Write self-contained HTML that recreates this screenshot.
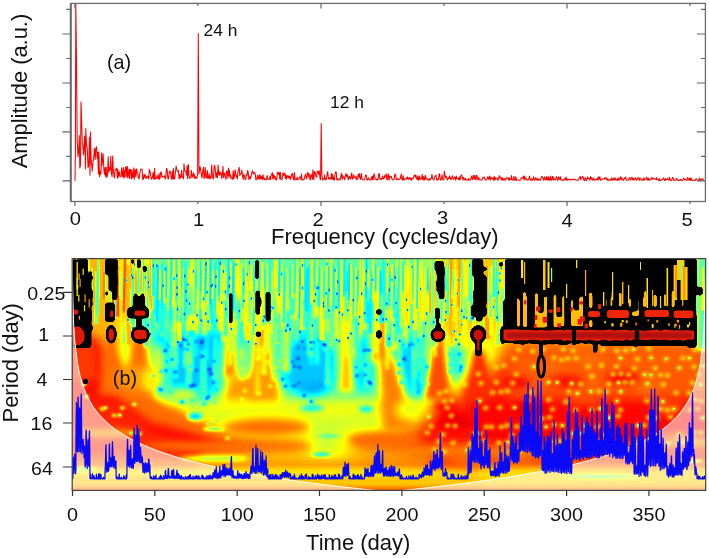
<!DOCTYPE html><html><head><meta charset="utf-8"><title>Spectrum and wavelet</title>
<style>html,body{margin:0;padding:0;background:#fff}svg{display:block}text{font-family:"Liberation Sans",sans-serif;fill:#111}</style></head><body>
<svg width="709" height="558" viewBox="0 0 709 558">
<rect width="709" height="558" fill="#fff"/>
<path d="M75.0,181.0 L75.4,150.0 L75.8,3.5 L76.5,60.0 L77.2,140.0 L78.0,156.7 L78.6,152.2 L79.3,135.5 L79.8,167.9 L80.5,165.6 L81.0,102.1 L81.7,123.3 L82.3,144.3 L82.8,145.0 L83.5,154.6 L84.2,143.2 L84.7,136.0 L85.4,169.1 L85.8,128.5 L86.5,144.7 L87.2,147.2 L88.0,167.6 L88.7,165.8 L89.5,137.6 L90.0,175.3 L90.5,132.0 L91.1,158.3 L91.7,164.9 L92.2,171.1 L92.9,162.3 L93.7,158.1 L94.4,148.2 L95.2,159.5 L95.7,148.9 L96.5,146.7 L97.2,158.4 L97.7,152.2 L98.4,174.0 L98.8,151.8 L99.6,176.7 L100.4,171.5 L100.9,174.3 L101.6,152.9 L102.0,165.4 L102.5,161.3 L103.1,153.7 L103.9,169.8 L104.7,174.6 L105.1,167.3 L105.6,176.4 L106.2,167.3 L106.7,177.5 L107.5,175.0 L108.2,156.8 L108.8,172.3 L109.5,167.3 L110.1,170.1 L110.8,156.3 L111.4,173.5 L112.1,176.7 L112.7,155.9 L113.3,171.2 L113.8,174.2 L114.4,178.1 L115.1,169.6 L115.5,169.9 L116.2,168.7 L116.7,168.1 L117.4,178.3 L117.9,169.4 L118.7,177.2 L119.3,171.8 L119.9,176.0 L120.4,176.0 L121.1,176.9 L121.7,167.8 L122.1,172.8 L122.8,177.0 L123.4,167.4 L123.9,178.1 L124.5,170.4 L125.0,177.0 L125.5,167.2 L126.2,166.8 L126.7,177.0 L127.3,166.4 L127.9,178.2 L128.4,174.6 L129.0,169.0 L129.7,178.6 L130.2,169.4 L130.9,169.6 L131.5,178.9 L132.0,170.2 L132.6,177.6 L133.2,176.9 L133.8,167.8 L134.3,179.4 L135.1,169.2 L135.9,177.0 L136.6,168.7 L137.2,172.6 L137.9,174.0 L138.5,178.4 L139.1,178.8 L139.6,175.2 L140.1,171.4 L140.6,169.4 L141.3,169.0 L142.1,169.5 L142.7,179.4 L143.4,179.1 L144.0,174.1 L144.6,177.3 L145.4,174.9 L146.0,178.6 L146.7,176.7 L147.4,177.9 L148.0,176.0 L148.7,179.0 L149.4,169.3 L150.1,171.3 L150.6,174.7 L151.4,179.3 L151.9,178.5 L152.5,177.2 L153.1,172.3 L153.6,179.3 L154.1,179.1 L154.6,168.3 L155.3,179.2 L155.9,178.1 L156.5,177.9 L157.2,175.3 L157.8,178.8 L158.3,179.1 L159.0,173.4 L159.5,179.2 L160.1,177.7 L160.7,172.3 L161.3,172.0 L162.0,177.1 L162.6,176.4 L163.2,177.1 L163.9,176.7 L164.5,175.8 L165.2,179.1 L165.8,177.0 L166.5,168.4 L167.1,169.1 L167.8,178.3 L168.4,178.9 L169.2,173.5 L169.9,171.0 L170.6,172.0 L171.3,179.0 L171.9,179.1 L172.4,171.0 L172.9,179.0 L173.4,168.5 L173.9,179.1 L174.6,178.9 L175.4,172.7 L176.1,166.1 L176.8,169.9 L177.2,170.5 L177.9,171.6 L178.4,170.8 L179.1,179.0 L179.7,174.2 L180.4,178.1 L181.0,178.0 L181.6,170.2 L182.2,176.9 L182.8,177.0 L183.4,178.9 L184.0,163.8 L184.6,169.9 L185.1,171.2 L185.8,171.5 L186.5,175.1 L187.1,165.5 L187.6,178.8 L188.4,164.6 L189.0,175.5 L189.7,178.3 L190.2,178.2 L190.9,177.1 L191.4,170.4 L192.2,177.3 L192.9,175.8 L193.6,172.8 L194.2,178.0 L194.6,174.8 L195.2,178.3 L195.8,177.0 L196.5,178.5 L197.6,174.9 L198.3,33.5 L199.0,174.0 L200.1,166.7 L200.7,170.0 L201.4,175.3 L202.0,178.0 L202.7,171.5 L203.5,167.2 L204.0,178.3 L204.5,178.3 L205.2,167.2 L206.0,177.9 L206.8,177.4 L207.4,170.6 L207.8,178.8 L208.6,177.6 L209.1,173.7 L209.8,179.0 L210.4,176.0 L211.0,178.3 L211.7,164.8 L212.3,174.4 L212.8,177.9 L213.4,178.9 L214.2,166.3 L214.7,165.4 L215.3,169.9 L216.0,177.7 L216.7,172.6 L217.4,178.0 L218.1,165.1 L218.8,174.8 L219.3,175.4 L219.9,171.3 L220.5,174.3 L221.1,172.9 L221.7,178.7 L222.5,172.7 L223.0,166.2 L223.5,177.6 L224.2,173.9 L224.8,173.0 L225.4,177.8 L226.0,179.2 L226.7,170.8 L227.3,171.2 L227.9,178.2 L228.5,168.1 L228.9,175.6 L229.5,170.6 L230.0,177.7 L230.6,175.0 L231.3,177.5 L232.1,179.2 L232.6,179.2 L233.1,170.6 L233.8,178.9 L234.3,176.9 L235.1,169.8 L235.8,174.4 L236.3,177.2 L236.8,175.5 L237.4,178.9 L238.0,171.0 L238.4,170.7 L239.2,167.3 L239.8,175.4 L240.4,174.2 L241.2,173.4 L241.8,170.0 L242.4,174.9 L243.1,179.5 L243.8,174.1 L244.4,176.2 L245.1,179.1 L245.7,179.6 L246.3,174.6 L246.9,175.8 L247.7,170.4 L248.2,172.4 L248.9,179.6 L249.4,179.0 L249.9,176.4 L250.7,178.5 L251.5,174.5 L252.0,171.9 L252.6,170.7 L253.3,174.1 L253.9,173.1 L254.7,172.3 L255.3,174.1 L255.9,179.6 L256.3,179.7 L256.9,179.5 L257.5,175.2 L258.1,178.1 L258.8,178.9 L259.4,174.7 L260.0,179.5 L260.8,175.3 L261.4,178.6 L262.0,176.7 L262.5,179.8 L263.0,174.5 L263.5,178.0 L264.1,179.4 L264.6,178.4 L265.1,179.8 L265.6,179.6 L266.2,179.8 L266.6,178.1 L267.2,175.6 L267.7,178.4 L268.3,179.8 L269.1,179.4 L269.6,177.9 L270.1,176.5 L270.6,179.7 L271.1,175.3 L271.7,174.6 L272.3,172.4 L272.8,179.3 L273.4,174.2 L274.0,178.8 L274.5,175.9 L275.3,176.9 L275.8,179.8 L276.2,179.6 L276.7,179.8 L277.4,173.1 L277.9,171.9 L278.5,174.5 L279.3,172.5 L279.8,179.1 L280.4,172.4 L280.9,179.2 L281.6,179.8 L282.2,179.0 L282.9,172.8 L283.4,175.4 L284.1,174.1 L284.8,172.9 L285.4,178.5 L285.9,174.9 L286.5,179.3 L287.0,175.7 L287.7,175.8 L288.3,178.0 L288.8,175.8 L289.2,178.1 L289.9,176.2 L290.4,179.4 L291.2,176.6 L291.9,173.8 L292.5,173.5 L293.2,179.0 L293.8,179.9 L294.4,172.6 L294.9,177.3 L295.4,179.9 L296.1,179.5 L296.5,179.7 L297.2,177.2 L297.7,179.5 L298.5,179.5 L299.1,178.4 L299.8,176.7 L300.5,177.4 L301.1,179.6 L301.5,173.7 L302.0,179.9 L302.8,179.6 L303.6,179.9 L304.2,179.5 L304.9,176.2 L305.6,174.1 L306.4,178.7 L307.0,177.9 L307.5,172.5 L308.2,172.8 L308.7,176.8 L309.3,174.2 L309.8,178.7 L310.4,179.9 L311.0,174.2 L311.6,175.5 L312.3,179.5 L312.9,169.7 L313.4,178.1 L313.9,179.5 L314.4,171.2 L315.1,172.4 L315.9,176.3 L316.7,177.2 L317.3,171.3 L318.1,171.4 L318.7,174.4 L319.3,170.7 L320.1,179.2 L320.6,179.7 L321.2,123.5 L321.8,174.0 L322.5,180.0 L323.3,179.3 L323.9,178.9 L324.6,175.1 L325.1,179.9 L325.7,178.5 L326.1,179.8 L326.9,175.7 L327.7,171.6 L328.4,178.8 L328.9,179.2 L329.5,177.6 L330.2,178.9 L330.9,179.3 L331.5,173.3 L332.3,179.3 L332.8,174.5 L333.3,179.9 L333.9,177.6 L334.4,180.0 L334.9,175.0 L335.5,171.9 L336.3,172.0 L336.7,179.7 L337.2,178.5 L337.7,180.0 L338.4,180.0 L338.9,179.5 L339.7,178.6 L340.2,180.0 L340.8,176.8 L341.5,173.2 L342.2,179.5 L342.7,175.3 L343.5,177.9 L344.2,177.6 L344.7,179.8 L345.2,176.7 L346.0,173.4 L346.6,176.5 L347.4,174.8 L348.0,178.7 L348.6,179.8 L349.2,176.3 L350.0,177.7 L350.6,179.1 L351.2,175.0 L351.8,172.9 L352.3,179.3 L352.9,178.7 L353.7,174.8 L354.4,177.2 L354.9,177.5 L355.5,178.2 L356.1,176.2 L356.8,180.0 L357.5,179.0 L358.2,174.0 L358.9,176.9 L359.5,173.7 L360.0,179.0 L360.7,179.3 L361.3,173.4 L362.0,179.3 L362.6,179.5 L363.1,179.6 L363.9,180.0 L364.5,179.8 L364.9,178.0 L365.6,175.0 L366.3,175.2 L366.8,179.5 L367.6,180.0 L368.1,178.4 L368.6,177.9 L369.1,179.7 L369.9,179.9 L370.7,179.9 L371.5,176.9 L372.1,179.9 L372.6,176.0 L373.1,179.8 L373.8,174.8 L374.3,173.7 L375.0,179.1 L375.4,179.0 L376.2,179.5 L376.7,179.9 L377.2,179.2 L378.0,180.0 L378.5,174.1 L379.3,173.6 L379.8,179.2 L380.6,178.5 L381.3,179.4 L381.8,179.3 L382.5,176.1 L383.1,178.7 L383.8,178.8 L384.4,175.5 L384.9,177.8 L385.7,175.4 L386.2,174.0 L387.0,179.9 L387.5,179.8 L388.0,173.8 L388.6,175.1 L389.1,180.1 L389.8,176.0 L390.6,177.0 L391.3,176.3 L391.7,178.2 L392.3,180.0 L393.0,179.4 L393.6,179.2 L394.2,179.3 L394.9,173.9 L395.6,175.3 L396.4,179.6 L397.2,179.6 L397.7,178.5 L398.4,179.4 L399.0,179.6 L399.8,178.8 L400.4,178.3 L401.2,173.9 L401.8,178.9 L402.5,180.1 L403.1,175.5 L403.8,180.1 L404.6,179.2 L405.4,179.3 L405.9,178.2 L406.6,178.9 L407.4,176.9 L408.0,179.6 L408.6,179.1 L409.2,177.4 L409.9,178.0 L410.4,179.8 L411.0,177.7 L411.5,180.1 L412.1,179.6 L412.5,178.3 L413.3,178.3 L414.0,175.8 L414.8,174.9 L415.4,177.2 L415.9,175.3 L416.4,178.7 L417.2,179.6 L417.7,175.9 L418.4,180.1 L418.8,179.4 L419.3,175.8 L419.8,179.7 L420.4,178.5 L421.0,177.7 L421.7,179.0 L422.2,174.2 L422.9,180.1 L423.5,176.6 L424.3,180.1 L424.7,178.7 L425.3,175.2 L426.0,179.5 L426.6,178.0 L427.4,179.9 L428.0,180.1 L428.7,180.2 L429.4,178.5 L430.1,180.1 L430.6,178.8 L431.4,178.4 L431.9,174.2 L432.6,178.4 L433.1,179.6 L433.9,180.1 L434.5,177.6 L435.1,176.2 L435.9,175.2 L436.6,179.9 L437.1,178.9 L437.6,179.9 L438.4,179.8 L439.1,173.7 L439.6,174.0 L440.2,179.8 L440.7,180.2 L441.3,179.0 L442.1,174.7 L442.5,178.9 L443.1,179.9 L443.8,179.6 L444.3,171.0 L444.8,174.0 L445.5,177.7 L446.0,176.4 L446.5,176.7 L447.2,180.0 L447.9,179.0 L448.5,177.6 L449.2,178.8 L449.7,175.8 L450.4,178.5 L451.1,179.7 L451.8,177.1 L452.4,175.8 L453.2,179.4 L454.0,178.8 L454.5,177.1 L455.0,177.0 L455.7,180.1 L456.3,176.0 L456.9,178.5 L457.7,179.1 L458.3,178.3 L459.1,180.0 L459.5,176.9 L460.2,179.7 L460.9,175.8 L461.6,174.7 L462.3,177.1 L462.9,180.2 L463.6,177.2 L464.1,178.9 L464.8,179.9 L465.5,178.5 L466.1,180.2 L466.7,179.7 L467.4,180.1 L468.0,180.0 L468.6,178.4 L469.1,180.2 L469.7,180.0 L470.3,180.1 L470.8,178.7 L471.6,176.1 L472.2,179.4 L472.7,179.8 L473.3,175.5 L473.7,175.4 L474.4,179.2 L474.9,175.3 L475.4,178.5 L476.0,180.0 L476.6,175.1 L477.3,177.4 L478.1,180.2 L478.8,177.3 L479.3,179.1 L480.1,179.7 L480.8,180.1 L481.5,179.9 L482.1,179.5 L482.9,177.4 L483.5,177.8 L484.1,176.9 L484.6,178.7 L485.3,179.5 L485.8,180.1 L486.4,180.0 L487.1,178.9 L487.9,176.6 L488.6,179.5 L489.1,178.7 L489.8,175.9 L490.3,180.1 L491.1,177.5 L491.7,177.5 L492.2,178.8 L492.9,178.4 L493.4,180.2 L494.1,176.4 L494.6,180.3 L495.1,177.2 L495.7,179.2 L496.5,178.4 L497.0,177.8 L497.5,179.9 L498.2,180.1 L498.6,179.0 L499.2,175.6 L499.7,177.1 L500.2,177.1 L500.9,178.1 L501.4,180.0 L502.0,177.2 L502.6,180.0 L503.2,180.2 L503.8,178.7 L504.4,178.6 L504.9,180.3 L505.4,179.7 L505.9,178.7 L506.5,177.5 L507.1,178.2 L507.8,179.0 L508.4,179.8 L508.9,177.3 L509.5,180.2 L510.3,178.7 L511.0,179.4 L511.5,175.6 L512.0,179.7 L512.8,180.2 L513.4,179.2 L513.9,176.3 L514.5,180.3 L515.1,180.3 L515.8,176.7 L516.6,180.3 L517.3,179.9 L517.9,179.9 L518.5,180.2 L519.1,180.3 L519.9,180.3 L520.7,180.1 L521.2,177.7 L521.8,177.5 L522.5,178.4 L522.9,178.2 L523.6,176.0 L524.0,180.3 L524.7,176.3 L525.3,178.0 L526.0,179.6 L526.6,178.6 L527.0,179.9 L527.7,180.0 L528.3,180.0 L528.9,178.4 L529.6,176.1 L530.3,180.1 L530.8,180.3 L531.4,178.7 L532.0,180.1 L532.5,180.3 L533.0,179.2 L533.6,176.7 L534.2,179.8 L534.8,180.3 L535.5,177.7 L536.1,177.9 L536.7,180.1 L537.2,180.2 L537.9,178.4 L538.6,180.3 L539.3,179.3 L539.9,179.2 L540.5,180.2 L541.0,178.4 L541.7,176.5 L542.3,176.7 L543.0,178.0 L543.8,180.3 L544.5,176.7 L545.0,178.7 L545.8,180.0 L546.5,176.6 L547.1,180.2 L547.7,177.2 L548.3,179.9 L548.9,176.5 L549.4,180.3 L550.2,179.9 L550.8,176.1 L551.3,180.3 L552.1,180.1 L552.6,176.4 L553.1,176.7 L553.7,179.9 L554.2,179.0 L554.9,179.6 L555.5,180.0 L556.2,176.5 L557.0,177.4 L557.4,180.1 L558.0,180.3 L558.7,176.7 L559.5,179.0 L560.0,179.6 L560.5,176.7 L561.0,180.0 L561.8,180.2 L562.6,179.9 L563.3,180.3 L564.0,179.7 L564.6,178.5 L565.2,180.1 L565.7,178.9 L566.2,177.0 L566.8,180.2 L567.3,180.3 L567.9,179.1 L568.5,179.9 L569.0,179.3 L569.8,179.5 L570.5,179.4 L571.0,180.3 L571.7,179.4 L572.3,179.2 L573.0,179.8 L573.6,179.8 L574.1,179.1 L574.7,179.3 L575.3,179.4 L576.0,180.2 L576.8,180.3 L577.6,180.3 L578.3,180.1 L578.8,179.1 L579.5,177.4 L580.3,176.3 L580.7,179.8 L581.2,178.0 L581.8,178.1 L582.6,176.2 L583.2,177.2 L583.9,180.4 L584.6,180.4 L585.1,177.5 L585.7,178.6 L586.1,180.2 L586.8,180.4 L587.5,176.8 L588.0,178.3 L588.7,178.8 L589.4,178.4 L589.9,180.3 L590.5,176.5 L591.0,179.0 L591.5,177.5 L592.1,179.3 L592.8,180.3 L593.5,177.8 L594.3,180.1 L594.8,180.3 L595.6,179.6 L596.2,179.3 L596.9,180.0 L597.4,178.0 L598.1,180.1 L598.6,176.9 L599.3,179.0 L599.9,176.7 L600.5,180.2 L601.0,179.9 L601.7,179.9 L602.4,178.7 L603.1,178.7 L603.7,178.9 L604.3,179.3 L605.0,177.7 L605.5,178.0 L606.0,177.6 L606.5,179.5 L607.1,178.4 L607.6,180.2 L608.1,179.2 L608.8,180.4 L609.3,180.3 L610.1,179.6 L610.7,180.1 L611.4,177.9 L612.1,180.4 L612.7,179.5 L613.2,178.0 L613.7,180.1 L614.4,179.1 L615.0,177.6 L615.6,180.0 L616.1,179.3 L616.7,179.3 L617.3,180.5 L617.7,180.4 L618.2,177.7 L618.9,180.2 L619.6,178.9 L620.0,178.3 L620.6,176.7 L621.1,180.1 L621.6,177.6 L622.3,179.2 L622.8,179.8 L623.5,180.4 L624.3,177.8 L625.1,178.6 L625.8,176.9 L626.3,180.1 L626.8,180.3 L627.5,180.4 L628.2,179.9 L629.0,178.3 L629.7,177.8 L630.1,180.2 L630.7,179.8 L631.4,177.6 L632.1,177.3 L632.8,180.0 L633.4,178.4 L634.2,180.0 L634.7,179.1 L635.3,177.6 L635.7,178.9 L636.3,180.3 L637.0,179.7 L637.8,177.6 L638.4,177.7 L639.2,180.4 L639.9,178.0 L640.7,178.4 L641.3,180.3 L642.0,180.3 L642.7,179.3 L643.5,180.0 L644.0,177.6 L644.7,180.0 L645.3,179.8 L646.0,179.6 L646.6,177.1 L647.3,178.5 L647.9,180.4 L648.6,178.1 L649.3,180.3 L650.0,179.5 L650.5,179.3 L651.1,179.0 L651.9,177.2 L652.3,179.4 L653.1,179.0 L653.8,178.0 L654.2,178.3 L654.9,179.3 L655.5,179.2 L656.0,179.6 L656.5,177.5 L657.2,179.7 L657.9,180.0 L658.6,180.4 L659.3,178.5 L660.0,180.5 L660.8,180.5 L661.4,179.7 L661.9,179.9 L662.7,179.2 L663.2,178.3 L663.8,177.8 L664.4,180.5 L665.2,180.5 L665.7,178.5 L666.2,179.5 L667.0,179.4 L667.5,178.6 L668.3,179.4 L668.9,180.2 L669.5,177.3 L670.3,180.5 L670.8,180.4 L671.6,180.4 L672.1,178.6 L672.6,177.4 L673.2,177.9 L673.9,180.4 L674.7,180.0 L675.2,180.5 L675.9,179.5 L676.4,178.3 L677.0,179.9 L677.4,180.2 L678.2,179.7 L678.7,180.4 L679.4,180.3 L680.1,180.5 L680.9,179.3 L681.6,180.2 L682.1,180.5 L682.8,180.5 L683.3,178.6 L684.0,178.3 L684.8,179.6 L685.5,179.0 L686.2,180.0 L686.6,180.5 L687.2,179.9 L687.6,177.6 L688.3,178.9 L689.1,180.4 L689.8,177.7 L690.4,180.5 L691.1,178.1 L691.8,180.1 L692.5,180.5 L693.0,180.0 L693.7,180.5 L694.5,180.6 L695.3,180.4 L696.0,178.6 L696.8,179.9 L697.5,180.3 L698.2,180.5 L699.0,179.5 L699.5,178.0 L700.0,180.6 L700.6,180.6 L701.1,179.1 L701.9,179.4 L702.7,178.6 L703.4,180.2 L703.9,180.5" fill="none" stroke="#f00" stroke-width="1.05" stroke-linejoin="round"/>
<rect x="70.9" y="3.4" width="634.5" height="198.1" fill="none" stroke="#6a6a6a" stroke-width="1.3"/>
<path d="M70.7,3.4V201.5" stroke="#6a6a6a" stroke-width="1.9" fill="none"/>
<path d="M74.9,201.5v4.4 M74.9,3.4v5 M197.9,201.5v2.4 M197.9,3.4v2.5 M321.0,201.5v4.4 M321.0,3.4v5 M444.0,201.5v2.4 M444.0,3.4v2.5 M567.0,201.5v4.4 M567.0,3.4v5 M690.0,201.5v2.4 M690.0,3.4v2.5 M70.9,9.4h-4.5 M705.4,9.4h-4.5 M70.9,34.0h-8.5 M705.4,34.0h-8.5 M70.9,58.5h-4.5 M705.4,58.5h-4.5 M70.9,83.0h-8.5 M705.4,83.0h-8.5 M70.9,107.5h-4.5 M705.4,107.5h-4.5 M70.9,131.9h-8.5 M705.4,131.9h-8.5 M70.9,156.4h-4.5 M705.4,156.4h-4.5 M70.9,180.9h-8.5 M705.4,180.9h-8.5" stroke="#666" stroke-width="1.2" fill="none"/>
<text transform="translate(75.3,225.3) scale(1.05,1)" font-size="19.2" text-anchor="middle">0</text>
<text transform="translate(198.7,225.5) scale(1.05,1)" font-size="19.2" text-anchor="middle">1</text>
<text transform="translate(318.0,226.0) scale(1.05,1)" font-size="19.2" text-anchor="middle">2</text>
<text transform="translate(442.5,224.0) scale(1.05,1)" font-size="19.2" text-anchor="middle">3</text>
<text transform="translate(567.0,226.6) scale(1.05,1)" font-size="19.2" text-anchor="middle">4</text>
<text transform="translate(687.2,226.0) scale(1.05,1)" font-size="19.2" text-anchor="middle">5</text>
<text transform="translate(271.0,243.9) scale(1.04,1)" font-size="21.2" text-anchor="start">Frequency (cycles/day)</text>
<text transform="translate(27.1,91.0) rotate(-90) scale(1,1.03)" font-size="21.9" text-anchor="middle">Amplitude (a.u.)</text>
<text transform="translate(203.6,36.0) scale(1.03,1)" font-size="16.9" text-anchor="start">24 h</text>
<text transform="translate(330.0,107.6) scale(1.03,1)" font-size="16.9" text-anchor="start">12 h</text>
<text transform="translate(107.0,69.0) scale(1.0,1)" font-size="19.8" text-anchor="start">(a)</text>
<defs>
<filter id="jet" x="60" y="250" width="660" height="250" filterUnits="userSpaceOnUse" color-interpolation-filters="sRGB"><feComponentTransfer><feFuncR type="table" tableValues="0 0 0 0 0.5 1 1 1 0.5"/><feFuncG type="table" tableValues="0 0 0.5 1 1 1 0.5 0 0"/><feFuncB type="table" tableValues="0.5 1 1 1 0.5 0 0 0 0"/></feComponentTransfer></filter>
<filter id="b0_6" x="20" y="210" width="740" height="330" filterUnits="userSpaceOnUse" color-interpolation-filters="sRGB"><feGaussianBlur stdDeviation="0.6"/></filter>
<filter id="b1" x="20" y="210" width="740" height="330" filterUnits="userSpaceOnUse" color-interpolation-filters="sRGB"><feGaussianBlur stdDeviation="1"/></filter>
<filter id="b1_5" x="20" y="210" width="740" height="330" filterUnits="userSpaceOnUse" color-interpolation-filters="sRGB"><feGaussianBlur stdDeviation="1.5"/></filter>
<filter id="b2" x="20" y="210" width="740" height="330" filterUnits="userSpaceOnUse" color-interpolation-filters="sRGB"><feGaussianBlur stdDeviation="2"/></filter>
<filter id="b3" x="20" y="210" width="740" height="330" filterUnits="userSpaceOnUse" color-interpolation-filters="sRGB"><feGaussianBlur stdDeviation="3"/></filter>
<filter id="b4" x="20" y="210" width="740" height="330" filterUnits="userSpaceOnUse" color-interpolation-filters="sRGB"><feGaussianBlur stdDeviation="4"/></filter>
<filter id="b5" x="20" y="210" width="740" height="330" filterUnits="userSpaceOnUse" color-interpolation-filters="sRGB"><feGaussianBlur stdDeviation="5"/></filter>
<filter id="b6" x="20" y="210" width="740" height="330" filterUnits="userSpaceOnUse" color-interpolation-filters="sRGB"><feGaussianBlur stdDeviation="6"/></filter>
<filter id="b8" x="20" y="210" width="740" height="330" filterUnits="userSpaceOnUse" color-interpolation-filters="sRGB"><feGaussianBlur stdDeviation="8"/></filter>
<filter id="b10" x="20" y="210" width="740" height="330" filterUnits="userSpaceOnUse" color-interpolation-filters="sRGB"><feGaussianBlur stdDeviation="10"/></filter>
<filter id="b12" x="20" y="210" width="740" height="330" filterUnits="userSpaceOnUse" color-interpolation-filters="sRGB"><feGaussianBlur stdDeviation="12"/></filter>
<filter id="goo" x="60" y="250" width="660" height="250" filterUnits="userSpaceOnUse" color-interpolation-filters="sRGB"><feGaussianBlur stdDeviation="0.9"/><feComponentTransfer><feFuncA type="linear" slope="7" intercept="-3"/></feComponentTransfer></filter>
<clipPath id="hc"><rect x="72.2" y="258.6" width="633.5" height="231.79999999999995"/></clipPath>
</defs>
<g clip-path="url(#hc)">
<g filter="url(#jet)">
<g>
<rect x="40.0" y="240.0" width="700.0" height="270.0" fill="#949494"/>
</g>
<g filter="url(#b10)">
<rect x="146.0" y="240.0" width="290.0" height="162.0" fill="#737373"/>
<rect x="146.0" y="240.0" width="290.0" height="85.0" fill="#787878"/>
</g>
<g filter="url(#b8)">
<rect x="40.0" y="240.0" width="84.0" height="105.0" fill="#b2b2b2"/>
</g>
<g filter="url(#b6)">
<rect x="124.0" y="240.0" width="26.0" height="100.0" fill="#a3a3a3"/>
</g>
<g filter="url(#b10)">
<rect x="436.0" y="240.0" width="304.0" height="100.0" fill="#adadad"/>
</g>
<g filter="url(#b8)">
<rect x="500.0" y="240.0" width="240.0" height="105.0" fill="#b0b0b0"/>
</g>
<g filter="url(#b5)">
<polygon points="152.0,332.0 226.0,332.0 218.0,380.0 200.0,420.0 183.0,412.0 163.0,378.0" fill="#525252"/>
<ellipse cx="309.0" cy="365.0" rx="28.0" ry="32.0" fill="#525252"/>
</g>
<g filter="url(#b4)">
<ellipse cx="313.0" cy="388.0" rx="12.0" ry="7.0" fill="#4c4c4c"/>
<ellipse cx="364.0" cy="364.0" rx="11.0" ry="28.0" fill="#575757"/>
</g>
<g filter="url(#b5)">
<ellipse cx="415.0" cy="368.0" rx="19.0" ry="32.0" fill="#545454"/>
</g>
<g filter="url(#b4)">
<ellipse cx="406.0" cy="395.0" rx="10.0" ry="4.0" fill="#525252"/>
</g>
<g filter="url(#b5)">
<ellipse cx="455.0" cy="362.0" rx="8.0" ry="20.0" fill="#666666"/>
</g>
<g filter="url(#b6)">
<rect x="170.0" y="401.0" width="260.0" height="16.0" fill="#9e9e9e"/>
</g>
<g filter="url(#b5)">
<ellipse cx="158.0" cy="365.0" rx="7.0" ry="22.0" fill="#999999"/>
</g>
<g filter="url(#b4)">
<ellipse cx="183.0" cy="395.0" rx="16.0" ry="7.0" fill="#999999"/>
<rect x="40.0" y="452.0" width="700.0" height="8.0" fill="#9e9e9e"/>
<rect x="40.0" y="460.0" width="700.0" height="10.5" fill="#bdbdbd"/>
</g>
<g filter="url(#b3)">
<rect x="40.0" y="470.5" width="700.0" height="7.5" fill="#a6a6a6"/>
<rect x="40.0" y="478.0" width="700.0" height="8.0" fill="#b2b2b2"/>
</g>
<g filter="url(#b2)">
<rect x="40.0" y="486.0" width="700.0" height="34.0" fill="#c7c7c7"/>
</g>
<g filter="url(#b8)">
<polygon points="60.0,335.0 98.0,340.0 116.0,360.0 136.0,390.0 161.0,410.0 195.0,424.0 225.0,436.0 255.0,440.0 310.0,442.0 310.0,451.0 240.0,453.0 190.0,456.0 150.0,450.0 110.0,430.0 60.0,400.0" fill="#e0e0e0"/>
</g>
<g filter="url(#b6)">
<rect x="40.0" y="340.0" width="60.0" height="122.0" fill="#dbdbdb"/>
<polygon points="60.0,400.0 120.0,400.0 150.0,430.0 200.0,446.0 200.0,462.0 60.0,462.0" fill="#d6d6d6"/>
</g>
<g filter="url(#b5)">
<polygon points="100.0,350.0 125.0,378.0 150.0,396.0 163.0,404.0 195.0,419.0 225.0,432.0 225.0,438.0 150.0,422.0 110.0,390.0" fill="#c4c4c4"/>
</g>
<g filter="url(#b10)">
<polygon points="400.0,440.0 425.0,415.0 455.0,395.0 490.0,372.0 505.0,348.0 740.0,348.0 740.0,470.0 600.0,466.0 480.0,462.0 400.0,456.0 350.0,452.0 345.0,438.0" fill="#dbdbdb"/>
</g>
<g filter="url(#b6)">
<rect x="505.0" y="346.0" width="235.0" height="52.0" fill="#c9c9c9"/>
<rect x="470.0" y="400.0" width="270.0" height="45.0" fill="#dedede"/>
</g>
<g filter="url(#b5)">
<rect x="400.0" y="446.0" width="160.0" height="10.0" fill="#bdbdbd"/>
<rect x="430.0" y="456.0" width="310.0" height="10.0" fill="#d1d1d1"/>
<rect x="560.0" y="440.0" width="180.0" height="10.0" fill="#cccccc"/>
</g>
<g filter="url(#b4)">
<rect x="480.0" y="468.0" width="260.0" height="14.0" fill="#a8a8a8"/>
<ellipse cx="647.8" cy="387.8" rx="10.9" ry="7.3" fill="#c2c2c2" opacity="0.8"/>
<ellipse cx="516.0" cy="456.8" rx="20.0" ry="5.0" fill="#c2c2c2" opacity="0.8"/>
<ellipse cx="661.3" cy="355.1" rx="19.5" ry="4.7" fill="#c7c7c7" opacity="0.8"/>
<ellipse cx="571.9" cy="443.9" rx="10.2" ry="5.3" fill="#c2c2c2" opacity="0.8"/>
<ellipse cx="583.3" cy="380.6" rx="13.6" ry="4.9" fill="#c2c2c2" opacity="0.8"/>
<ellipse cx="585.6" cy="400.1" rx="16.5" ry="4.3" fill="#c7c7c7" opacity="0.8"/>
<ellipse cx="633.2" cy="445.5" rx="9.1" ry="5.8" fill="#c2c2c2" opacity="0.8"/>
<ellipse cx="678.4" cy="438.3" rx="19.7" ry="5.1" fill="#c2c2c2" opacity="0.8"/>
<ellipse cx="531.4" cy="410.3" rx="17.9" ry="7.1" fill="#ebebeb" opacity="0.8"/>
<ellipse cx="635.3" cy="456.0" rx="14.4" ry="4.9" fill="#ebebeb" opacity="0.8"/>
<ellipse cx="544.7" cy="367.2" rx="17.6" ry="4.1" fill="#c2c2c2" opacity="0.8"/>
<ellipse cx="453.6" cy="421.6" rx="17.0" ry="7.0" fill="#ebebeb" opacity="0.8"/>
<ellipse cx="470.7" cy="460.4" rx="18.9" ry="6.8" fill="#c2c2c2" opacity="0.8"/>
<ellipse cx="609.2" cy="442.5" rx="15.9" ry="4.6" fill="#c2c2c2" opacity="0.8"/>
<ellipse cx="444.5" cy="405.4" rx="12.2" ry="7.3" fill="#ebebeb" opacity="0.8"/>
<ellipse cx="589.7" cy="358.8" rx="13.8" ry="7.0" fill="#c2c2c2" opacity="0.8"/>
<ellipse cx="622.3" cy="378.4" rx="16.0" ry="5.9" fill="#ebebeb" opacity="0.8"/>
<ellipse cx="693.4" cy="363.3" rx="18.3" ry="5.0" fill="#c7c7c7" opacity="0.8"/>
<ellipse cx="640.7" cy="361.5" rx="10.0" ry="4.1" fill="#c7c7c7" opacity="0.8"/>
<ellipse cx="614.3" cy="436.7" rx="19.6" ry="6.3" fill="#ebebeb" opacity="0.8"/>
<ellipse cx="567.3" cy="381.5" rx="18.1" ry="4.4" fill="#ebebeb" opacity="0.8"/>
<ellipse cx="516.7" cy="382.4" rx="13.4" ry="4.8" fill="#ebebeb" opacity="0.8"/>
<ellipse cx="668.3" cy="408.1" rx="16.1" ry="7.1" fill="#c7c7c7" opacity="0.8"/>
</g>
<g filter="url(#b3)">
<polygon points="106.5,336.0 115.5,336.0 123.0,395.0 99.0,395.0" fill="#c4c4c4"/>
<polygon points="132.0,338.0 146.0,338.0 153.0,398.0 125.0,398.0" fill="#c4c4c4"/>
<polygon points="75.0,340.0 93.0,340.0 99.0,380.0 69.0,380.0" fill="#d1d1d1"/>
<polygon points="227.0,320.0 233.0,320.0 237.0,378.0 223.0,378.0" fill="#bfbfbf"/>
<polygon points="257.5,304.0 266.5,304.0 275.0,398.0 249.0,398.0" fill="#c2c2c2"/>
</g>
<g filter="url(#b4)">
<polygon points="254.0,284.0 270.0,284.0 274.0,330.0 250.0,330.0" fill="#b8b8b8"/>
</g>
<g filter="url(#b3)">
<polygon points="226.0,296.0 232.0,296.0 234.0,330.0 224.0,330.0" fill="#a8a8a8"/>
</g>
<g filter="url(#b5)">
<polygon points="228.0,374.0 276.0,374.0 282.0,402.0 222.0,402.0" fill="#b8b8b8"/>
</g>
<g filter="url(#b2)">
<polygon points="284.8,330.0 288.2,330.0 289.5,372.0 283.5,372.0" fill="#a8a8a8"/>
</g>
<g filter="url(#b3)">
<polygon points="342.0,320.0 350.0,320.0 353.0,392.0 339.0,392.0" fill="#b0b0b0"/>
<polygon points="374.0,294.0 386.0,294.0 390.0,362.0 370.0,362.0" fill="#bdbdbd"/>
</g>
<g filter="url(#b4)">
<polygon points="377.0,358.0 395.0,358.0 417.0,432.0 383.0,432.0" fill="#bfbfbf"/>
</g>
<g filter="url(#b2)">
<polygon points="391.0,318.0 395.0,318.0 397.0,350.0 389.0,350.0" fill="#adadad"/>
</g>
<g filter="url(#b3)">
<polygon points="433.0,338.0 443.0,338.0 452.0,400.0 424.0,400.0" fill="#cccccc"/>
<polygon points="474.0,350.0 484.0,350.0 495.0,400.0 463.0,400.0" fill="#d4d4d4"/>
</g>
<g filter="url(#b4)">
<ellipse cx="267.0" cy="427.0" rx="44.0" ry="9.0" fill="#c4c4c4"/>
</g>
<g filter="url(#b3)">
<ellipse cx="225.0" cy="446.0" rx="86.0" ry="4.5" fill="#c2c2c2"/>
</g>
<g filter="url(#b2)">
<ellipse cx="214.0" cy="458.5" rx="34.0" ry="1.8" fill="#737373"/>
</g>
<g filter="url(#b3)">
<ellipse cx="385.0" cy="440.0" rx="36.0" ry="8.0" fill="#c4c4c4"/>
</g>
<g filter="url(#b1_5)">
<ellipse cx="329.0" cy="436.0" rx="11.0" ry="1.4" fill="#6b6b6b"/>
<ellipse cx="214.0" cy="429.0" rx="11.0" ry="1.4" fill="#6b6b6b"/>
<ellipse cx="321.4" cy="454.5" rx="9.0" ry="1.4" fill="#4c4c4c"/>
</g>
<g filter="url(#b2)">
<ellipse cx="195.0" cy="416.5" rx="7.0" ry="3.0" fill="#3d3d3d"/>
<ellipse cx="312.0" cy="408.0" rx="12.0" ry="3.0" fill="#5c5c5c"/>
<ellipse cx="366.0" cy="409.0" rx="7.0" ry="2.5" fill="#4c4c4c"/>
</g>
<g filter="url(#b1_5)">
<ellipse cx="600.0" cy="476.5" rx="40.0" ry="1.2" fill="#6b6b6b"/>
<ellipse cx="690.0" cy="461.0" rx="14.0" ry="1.2" fill="#666666"/>
<ellipse cx="85.0" cy="469.0" rx="12.0" ry="1.2" fill="#666666"/>
</g>
<g filter="url(#b3)">
<ellipse cx="105.0" cy="433.0" rx="34.0" ry="3.0" fill="#adadad"/>
<ellipse cx="690.0" cy="442.0" rx="20.0" ry="3.0" fill="#a8a8a8"/>
</g>
<g filter="url(#b5)">
<ellipse cx="136.0" cy="378.0" rx="20.0" ry="13.0" fill="#b8b8b8"/>
</g>
<g filter="url(#b3)">
<ellipse cx="150.0" cy="380.0" rx="8.0" ry="12.0" fill="#a3a3a3"/>
</g>
<g filter="url(#b5)">
<ellipse cx="409.0" cy="410.0" rx="13.0" ry="10.0" fill="#999999"/>
</g>
<g filter="url(#b2)">
<rect x="697.5" y="250.0" width="14.5" height="100.0" fill="#757575"/>
</g>
<g filter="url(#b0_6)">
<polygon points="74.2,268.9 75.8,268.9 77.0,335.5 73.0,335.5" fill="#9e9e9e" opacity="0.95"/>
<polygon points="76.4,263.9 77.7,263.9 79.1,325.7 75.0,325.7" fill="#707070" opacity="0.95"/>
<polygon points="78.2,263.1 79.7,263.1 80.7,317.0 77.2,317.0" fill="#a8a8a8" opacity="0.95"/>
<polygon points="80.6,251.4 82.5,251.4 83.3,291.6 79.8,291.6" fill="#949494" opacity="0.95"/>
<polygon points="83.4,268.5 85.1,268.5 86.2,322.9 82.3,322.9" fill="#9e9e9e" opacity="0.95"/>
<polygon points="85.9,258.9 87.8,258.9 89.3,314.8 84.4,314.8" fill="#707070" opacity="0.95"/>
<polygon points="88.0,256.4 89.9,256.4 90.8,301.4 87.1,301.4" fill="#9e9e9e" opacity="0.95"/>
<polygon points="91.1,268.6 92.5,268.6 92.8,290.0 90.7,290.0" fill="#808080" opacity="0.95"/>
<polygon points="93.5,259.2 94.8,259.2 96.1,325.2 92.2,325.2" fill="#b2b2b2" opacity="0.95"/>
<polygon points="95.7,271.2 97.0,271.2 98.2,324.1 94.4,324.1" fill="#808080" opacity="0.95"/>
<polygon points="97.5,253.9 99.0,253.9 100.5,315.2 96.0,315.2" fill="#707070" opacity="0.95"/>
<polygon points="100.2,252.6 101.6,252.6 103.2,318.2 98.7,318.2" fill="#b2b2b2" opacity="0.95"/>
<polygon points="103.2,272.0 104.6,272.0 105.0,298.9 102.8,298.9" fill="#c2c2c2" opacity="0.95"/>
<polygon points="105.7,271.8 107.1,271.8 107.6,299.6 105.2,299.6" fill="#808080" opacity="0.95"/>
<polygon points="107.8,251.6 109.5,251.6 111.0,308.0 106.2,308.0" fill="#a8a8a8" opacity="0.95"/>
<polygon points="110.0,271.1 111.7,271.1 112.4,311.8 109.3,311.8" fill="#808080" opacity="0.95"/>
<polygon points="112.2,268.0 113.6,268.0 114.3,310.0 111.4,310.0" fill="#cccccc" opacity="0.95"/>
<polygon points="115.0,269.4 116.6,269.4 117.8,317.2 113.8,317.2" fill="#707070" opacity="0.95"/>
<polygon points="116.9,266.3 118.4,266.3 119.3,316.8 116.0,316.8" fill="#cccccc" opacity="0.95"/>
<polygon points="119.3,271.5 120.8,271.5 121.3,295.7 118.8,295.7" fill="#949494" opacity="0.95"/>
<polygon points="122.0,270.2 123.2,270.2 123.9,299.2 121.3,299.2" fill="#808080" opacity="0.95"/>
<polygon points="123.9,256.2 125.9,256.2 127.7,323.5 122.2,323.5" fill="#cccccc" opacity="0.95"/>
<polygon points="126.0,264.5 127.7,264.5 129.4,331.2 124.4,331.2" fill="#b2b2b2" opacity="0.95"/>
<polygon points="128.1,265.4 129.3,265.4 130.9,344.2 126.6,344.2" fill="#b2b2b2" opacity="0.95"/>
<polygon points="130.3,253.0 131.9,253.0 133.0,301.5 129.2,301.5" fill="#b2b2b2" opacity="0.95"/>
<polygon points="132.2,267.5 133.7,267.5 134.9,331.2 131.0,331.2" fill="#6b6b6b" opacity="0.95"/>
<polygon points="135.0,270.8 136.6,270.8 137.4,299.5 134.2,299.5" fill="#b2b2b2" opacity="0.95"/>
<polygon points="137.6,263.4 139.3,263.4 139.8,293.6 137.1,293.6" fill="#6b6b6b" opacity="0.95"/>
<polygon points="140.5,270.6 142.1,270.6 143.4,331.3 139.2,331.3" fill="#b2b2b2" opacity="0.95"/>
<polygon points="143.1,256.8 144.3,256.8 145.0,293.9 142.5,293.9" fill="#6b6b6b" opacity="0.95"/>
<polygon points="145.1,270.3 146.3,270.3 147.2,310.3 144.1,310.3" fill="#a8a8a8" opacity="0.95"/>
<polygon points="147.3,266.6 149.3,266.6 150.1,305.4 146.5,305.4" fill="#6b6b6b" opacity="0.95"/>
<polygon points="149.5,254.4 151.3,254.4 152.4,318.7 148.3,318.7" fill="#b2b2b2" opacity="0.95"/>
<polygon points="152.5,254.6 154.0,254.6 154.7,296.1 151.8,296.1" fill="#666666" opacity="0.95"/>
<polygon points="154.3,268.1 155.9,268.1 156.3,295.1 153.8,295.1" fill="#666666" opacity="0.95"/>
<polygon points="156.9,264.8 158.8,264.8 159.9,322.2 155.8,322.2" fill="#575757" opacity="0.95"/>
<polygon points="159.2,269.2 160.9,269.2 161.6,300.0 158.6,300.0" fill="#a8a8a8" opacity="0.95"/>
<polygon points="161.6,264.1 162.9,264.1 163.7,308.2 160.7,308.2" fill="#5c5c5c" opacity="0.95"/>
<polygon points="163.7,271.6 165.0,271.6 165.6,303.5 163.1,303.5" fill="#a1a1a1" opacity="0.95"/>
<polygon points="166.1,265.1 167.7,265.1 168.6,299.0 165.3,299.0" fill="#5c5c5c" opacity="0.95"/>
<polygon points="168.0,253.9 169.5,253.9 170.6,311.1 166.9,311.1" fill="#a1a1a1" opacity="0.95"/>
<polygon points="170.2,258.7 172.1,258.7 173.9,325.6 168.4,325.6" fill="#616161" opacity="0.95"/>
<polygon points="173.1,259.9 175.0,259.9 176.3,307.5 171.8,307.5" fill="#a3a3a3" opacity="0.95"/>
<polygon points="175.9,260.2 177.2,260.2 178.3,319.3 174.7,319.3" fill="#666666" opacity="0.95"/>
<polygon points="178.3,254.7 180.3,254.7 181.8,341.2 176.9,341.2" fill="#a1a1a1" opacity="0.95"/>
<polygon points="181.2,255.8 182.4,255.8 183.8,322.3 179.8,322.3" fill="#666666" opacity="0.95"/>
<polygon points="183.0,266.9 184.2,266.9 185.2,321.4 182.0,321.4" fill="#9e9e9e" opacity="0.95"/>
<polygon points="184.5,261.7 186.5,261.7 187.7,320.9 183.3,320.9" fill="#616161" opacity="0.95"/>
<polygon points="187.5,268.5 189.5,268.5 190.8,331.1 186.2,331.1" fill="#999999" opacity="0.95"/>
<polygon points="190.5,259.7 192.4,259.7 193.7,324.8 189.2,324.8" fill="#a3a3a3" opacity="0.95"/>
<polygon points="192.4,255.6 194.4,255.6 195.7,330.2 191.1,330.2" fill="#999999" opacity="0.95"/>
<polygon points="195.1,271.3 196.8,271.3 197.8,313.6 194.1,313.6" fill="#616161" opacity="0.95"/>
<polygon points="197.8,258.3 199.0,258.3 200.1,323.8 196.6,323.8" fill="#999999" opacity="0.95"/>
<polygon points="200.2,260.8 201.5,260.8 202.7,321.1 199.0,321.1" fill="#5c5c5c" opacity="0.95"/>
<polygon points="202.5,255.9 203.8,255.9 205.2,320.7 201.1,320.7" fill="#9e9e9e" opacity="0.95"/>
<polygon points="205.2,261.5 206.7,261.5 207.6,294.9 204.2,294.9" fill="#575757" opacity="0.95"/>
<polygon points="207.4,250.8 208.6,250.8 209.9,305.5 206.2,305.5" fill="#a1a1a1" opacity="0.95"/>
<polygon points="210.1,252.3 211.4,252.3 212.8,322.9 208.6,322.9" fill="#575757" opacity="0.95"/>
<polygon points="212.0,269.3 213.7,269.3 214.2,299.1 211.4,299.1" fill="#999999" opacity="0.95"/>
<polygon points="214.5,261.7 216.2,261.7 217.4,328.3 213.3,328.3" fill="#616161" opacity="0.95"/>
<polygon points="216.7,269.9 218.1,269.9 218.9,313.2 216.0,313.2" fill="#a8a8a8" opacity="0.95"/>
<polygon points="218.6,252.9 220.4,252.9 221.5,300.8 217.5,300.8" fill="#5c5c5c" opacity="0.95"/>
<polygon points="220.7,262.0 222.1,262.0 223.5,331.8 219.4,331.8" fill="#9e9e9e" opacity="0.95"/>
<polygon points="223.2,265.0 225.1,265.0 227.1,341.7 221.2,341.7" fill="#999999" opacity="0.95"/>
<polygon points="225.6,272.0 227.5,272.0 228.9,338.0 224.3,338.0" fill="#999999" opacity="0.95"/>
<polygon points="227.7,253.2 229.1,253.2 229.9,298.3 226.9,298.3" fill="#575757" opacity="0.95"/>
<polygon points="230.5,262.8 232.3,262.8 233.4,304.5 229.4,304.5" fill="#a1a1a1" opacity="0.95"/>
<polygon points="232.5,261.3 234.1,261.3 235.5,309.4 231.1,309.4" fill="#575757" opacity="0.95"/>
<polygon points="235.2,259.0 236.7,259.0 237.7,315.3 234.2,315.3" fill="#a3a3a3" opacity="0.95"/>
<polygon points="237.5,257.1 239.4,257.1 240.2,302.1 236.7,302.1" fill="#a1a1a1" opacity="0.95"/>
<polygon points="240.4,263.2 242.4,263.2 243.4,322.2 239.3,322.2" fill="#999999" opacity="0.95"/>
<polygon points="242.5,267.9 244.4,267.9 245.1,308.3 241.8,308.3" fill="#616161" opacity="0.95"/>
<polygon points="245.5,258.9 246.7,258.9 248.4,332.7 243.8,332.7" fill="#a3a3a3" opacity="0.95"/>
<polygon points="247.8,271.8 249.1,271.8 250.7,341.3 246.2,341.3" fill="#a8a8a8" opacity="0.95"/>
<polygon points="250.6,264.5 252.2,264.5 253.6,325.3 249.3,325.3" fill="#a3a3a3" opacity="0.95"/>
<polygon points="253.8,266.8 255.0,266.8 256.4,334.1 252.5,334.1" fill="#5c5c5c" opacity="0.95"/>
<polygon points="256.2,261.1 258.0,261.1 260.0,334.5 254.2,334.5" fill="#9e9e9e" opacity="0.95"/>
<polygon points="258.2,262.1 260.2,262.1 261.2,312.9 257.2,312.9" fill="#666666" opacity="0.95"/>
<polygon points="261.2,262.1 263.2,262.1 264.7,330.1 259.7,330.1" fill="#a1a1a1" opacity="0.95"/>
<polygon points="264.3,268.8 266.0,268.8 267.0,314.4 263.3,314.4" fill="#616161" opacity="0.95"/>
<polygon points="266.8,263.2 268.2,263.2 269.3,315.5 265.8,315.5" fill="#9e9e9e" opacity="0.95"/>
<polygon points="269.2,250.6 270.8,250.6 272.3,324.8 267.7,324.8" fill="#666666" opacity="0.95"/>
<polygon points="271.7,269.7 272.9,269.7 274.0,333.9 270.6,333.9" fill="#a1a1a1" opacity="0.95"/>
<polygon points="274.2,259.4 276.2,259.4 277.7,320.9 272.8,320.9" fill="#a3a3a3" opacity="0.95"/>
<polygon points="277.0,253.2 278.4,253.2 280.1,344.1 275.2,344.1" fill="#9e9e9e" opacity="0.95"/>
<polygon points="278.7,254.5 280.3,254.5 281.3,292.3 277.7,292.3" fill="#5c5c5c" opacity="0.95"/>
<polygon points="281.0,263.2 282.7,263.2 284.2,328.7 279.5,328.7" fill="#9e9e9e" opacity="0.95"/>
<polygon points="283.8,271.0 285.2,271.0 286.6,323.0 282.5,323.0" fill="#616161" opacity="0.95"/>
<polygon points="286.6,268.6 288.3,268.6 289.1,311.2 285.8,311.2" fill="#999999" opacity="0.95"/>
<polygon points="289.3,266.6 290.7,266.6 291.3,298.5 288.8,298.5" fill="#666666" opacity="0.95"/>
<polygon points="292.2,263.8 293.7,263.8 294.6,298.5 291.3,298.5" fill="#a1a1a1" opacity="0.95"/>
<polygon points="293.9,251.6 295.7,251.6 296.5,293.9 293.1,293.9" fill="#666666" opacity="0.95"/>
<polygon points="296.6,257.8 298.1,257.8 299.6,314.2 295.1,314.2" fill="#9e9e9e" opacity="0.95"/>
<polygon points="299.3,267.8 301.1,267.8 302.3,318.1 298.1,318.1" fill="#575757" opacity="0.95"/>
<polygon points="301.5,258.1 303.5,258.1 305.1,329.4 299.9,329.4" fill="#a3a3a3" opacity="0.95"/>
<polygon points="304.3,259.4 305.6,259.4 306.4,306.6 303.5,306.6" fill="#616161" opacity="0.95"/>
<polygon points="305.9,267.9 307.8,267.9 309.0,310.9 304.7,310.9" fill="#575757" opacity="0.95"/>
<polygon points="308.1,265.3 309.9,265.3 311.0,312.3 307.1,312.3" fill="#5c5c5c" opacity="0.95"/>
<polygon points="311.0,258.1 312.8,258.1 313.7,303.6 310.1,303.6" fill="#a8a8a8" opacity="0.95"/>
<polygon points="314.1,259.6 315.5,259.6 317.0,326.1 312.5,326.1" fill="#666666" opacity="0.95"/>
<polygon points="316.3,255.5 317.8,255.5 319.2,315.4 315.0,315.4" fill="#999999" opacity="0.95"/>
<polygon points="318.6,266.3 320.1,266.3 321.1,306.6 317.6,306.6" fill="#616161" opacity="0.95"/>
<polygon points="321.1,266.7 322.6,266.7 324.6,340.3 319.1,340.3" fill="#a1a1a1" opacity="0.95"/>
<polygon points="323.3,271.3 325.2,271.3 326.5,319.3 322.1,319.3" fill="#666666" opacity="0.95"/>
<polygon points="326.1,257.4 327.4,257.4 328.6,311.1 324.8,311.1" fill="#a1a1a1" opacity="0.95"/>
<polygon points="327.9,266.4 329.3,266.4 330.5,319.2 326.6,319.2" fill="#5c5c5c" opacity="0.95"/>
<polygon points="330.3,258.7 332.3,258.7 333.3,314.2 329.2,314.2" fill="#9e9e9e" opacity="0.95"/>
<polygon points="332.9,265.6 334.4,265.6 335.6,331.2 331.7,331.2" fill="#5c5c5c" opacity="0.95"/>
<polygon points="335.3,268.3 337.3,268.3 338.7,340.7 333.9,340.7" fill="#9e9e9e" opacity="0.95"/>
<polygon points="338.0,259.3 339.4,259.3 340.3,308.9 337.1,308.9" fill="#5c5c5c" opacity="0.95"/>
<polygon points="340.9,257.1 342.5,257.1 343.9,316.7 339.5,316.7" fill="#a3a3a3" opacity="0.95"/>
<polygon points="343.6,256.7 345.5,256.7 346.2,297.0 342.9,297.0" fill="#5c5c5c" opacity="0.95"/>
<polygon points="346.6,270.0 347.9,270.0 348.4,291.6 346.1,291.6" fill="#575757" opacity="0.95"/>
<polygon points="348.6,263.1 350.0,263.1 350.9,300.1 347.8,300.1" fill="#575757" opacity="0.95"/>
<polygon points="350.5,263.8 352.1,263.8 353.5,343.2 349.1,343.2" fill="#a8a8a8" opacity="0.95"/>
<polygon points="353.1,264.5 354.3,264.5 355.4,324.7 352.0,324.7" fill="#666666" opacity="0.95"/>
<polygon points="355.2,267.6 356.8,267.6 357.8,316.5 354.2,316.5" fill="#a3a3a3" opacity="0.95"/>
<polygon points="357.1,269.6 359.1,269.6 360.3,329.3 355.9,329.3" fill="#616161" opacity="0.95"/>
<polygon points="359.5,259.1 360.9,259.1 362.2,335.1 358.2,335.1" fill="#a3a3a3" opacity="0.95"/>
<polygon points="362.3,255.9 363.6,255.9 364.9,323.7 361.1,323.7" fill="#999999" opacity="0.95"/>
<polygon points="364.1,268.1 365.5,268.1 366.1,302.0 363.4,302.0" fill="#a3a3a3" opacity="0.95"/>
<polygon points="365.9,251.8 367.5,251.8 369.0,323.7 364.4,323.7" fill="#575757" opacity="0.95"/>
<polygon points="367.6,270.2 369.5,270.2 370.2,302.4 366.8,302.4" fill="#a3a3a3" opacity="0.95"/>
<polygon points="370.2,270.8 371.7,270.8 373.1,333.4 368.9,333.4" fill="#616161" opacity="0.95"/>
<polygon points="372.8,257.9 374.1,257.9 375.7,331.0 371.2,331.0" fill="#a1a1a1" opacity="0.95"/>
<polygon points="375.0,264.4 376.5,264.4 377.0,290.6 374.6,290.6" fill="#5c5c5c" opacity="0.95"/>
<polygon points="376.9,267.0 378.8,267.0 380.2,339.1 375.6,339.1" fill="#9e9e9e" opacity="0.95"/>
<polygon points="379.8,270.6 381.7,270.6 382.7,323.7 378.8,323.7" fill="#575757" opacity="0.95"/>
<polygon points="382.5,254.4 384.0,254.4 385.1,322.9 381.3,322.9" fill="#616161" opacity="0.95"/>
<polygon points="385.1,259.8 386.3,259.8 387.3,307.2 384.1,307.2" fill="#666666" opacity="0.95"/>
<polygon points="386.7,254.0 388.6,254.0 389.9,317.3 385.5,317.3" fill="#a3a3a3" opacity="0.95"/>
<polygon points="388.7,271.7 390.5,271.7 391.3,309.5 387.8,309.5" fill="#616161" opacity="0.95"/>
<polygon points="391.4,264.2 393.3,264.2 394.8,334.8 389.9,334.8" fill="#a3a3a3" opacity="0.95"/>
<polygon points="393.8,266.0 395.3,266.0 396.2,317.6 392.9,317.6" fill="#5c5c5c" opacity="0.95"/>
<polygon points="395.9,250.4 397.4,250.4 398.6,313.9 394.7,313.9" fill="#999999" opacity="0.95"/>
<polygon points="397.7,267.3 399.4,267.3 400.9,327.1 396.2,327.1" fill="#666666" opacity="0.95"/>
<polygon points="400.5,255.1 402.1,255.1 403.6,327.4 399.0,327.4" fill="#999999" opacity="0.95"/>
<polygon points="402.5,262.5 404.2,262.5 404.7,291.2 401.9,291.2" fill="#616161" opacity="0.95"/>
<polygon points="404.3,265.3 406.3,265.3 407.4,313.8 403.2,313.8" fill="#9e9e9e" opacity="0.95"/>
<polygon points="406.8,255.2 408.5,255.2 410.3,325.3 405.0,325.3" fill="#a3a3a3" opacity="0.95"/>
<polygon points="409.6,263.2 411.5,263.2 412.4,303.9 408.7,303.9" fill="#a8a8a8" opacity="0.95"/>
<polygon points="412.6,268.3 414.2,268.3 415.0,298.4 411.8,298.4" fill="#666666" opacity="0.95"/>
<polygon points="414.4,256.8 416.2,256.8 417.8,330.2 412.7,330.2" fill="#a3a3a3" opacity="0.95"/>
<polygon points="417.2,253.5 418.4,253.5 419.5,308.5 416.0,308.5" fill="#5c5c5c" opacity="0.95"/>
<polygon points="418.9,261.4 420.5,261.4 421.7,310.7 417.8,310.7" fill="#a8a8a8" opacity="0.95"/>
<polygon points="421.6,258.9 422.9,258.9 424.4,321.9 420.2,321.9" fill="#a3a3a3" opacity="0.95"/>
<polygon points="424.4,266.7 426.0,266.7 427.1,334.1 423.2,334.1" fill="#999999" opacity="0.95"/>
<polygon points="427.3,268.2 428.6,268.2 429.1,295.3 426.9,295.3" fill="#575757" opacity="0.95"/>
<polygon points="429.5,269.9 430.8,269.9 431.6,313.4 428.7,313.4" fill="#b8b8b8" opacity="0.95"/>
<polygon points="432.1,257.1 434.0,257.1 435.2,325.5 430.9,325.5" fill="#7a7a7a" opacity="0.95"/>
<polygon points="434.5,261.1 435.8,261.1 436.8,317.0 433.5,317.0" fill="#adadad" opacity="0.95"/>
<polygon points="436.6,264.5 438.5,264.5 439.7,332.3 435.5,332.3" fill="#666666" opacity="0.95"/>
<polygon points="439.3,269.1 441.2,269.1 442.4,318.2 438.1,318.2" fill="#a3a3a3" opacity="0.95"/>
<polygon points="442.3,252.2 443.6,252.2 445.1,325.7 440.8,325.7" fill="#6b6b6b" opacity="0.95"/>
<polygon points="445.2,266.0 446.6,266.0 447.1,291.1 444.7,291.1" fill="#6b6b6b" opacity="0.95"/>
<polygon points="447.6,257.8 448.8,257.8 450.4,316.3 446.0,316.3" fill="#6b6b6b" opacity="0.95"/>
<polygon points="450.2,253.2 452.0,253.2 453.5,335.3 448.8,335.3" fill="#b8b8b8" opacity="0.95"/>
<polygon points="452.2,269.7 454.1,269.7 454.7,298.8 451.6,298.8" fill="#7a7a7a" opacity="0.95"/>
<polygon points="454.8,254.4 456.2,254.4 457.5,328.4 453.5,328.4" fill="#9e9e9e" opacity="0.95"/>
<polygon points="456.6,271.1 458.1,271.1 458.8,311.1 455.9,311.1" fill="#a3a3a3" opacity="0.95"/>
<polygon points="458.6,259.1 460.5,259.1 461.7,306.1 457.4,306.1" fill="#b8b8b8" opacity="0.95"/>
<polygon points="461.3,255.2 463.1,255.2 464.6,319.9 459.8,319.9" fill="#7a7a7a" opacity="0.95"/>
<polygon points="463.8,261.4 465.8,261.4 467.8,344.9 461.8,344.9" fill="#9e9e9e" opacity="0.95"/>
<polygon points="465.9,260.2 467.8,260.2 468.9,301.7 464.8,301.7" fill="#a1a1a1" opacity="0.95"/>
<polygon points="468.8,256.3 470.7,256.3 471.9,301.3 467.7,301.3" fill="#7a7a7a" opacity="0.95"/>
<polygon points="471.3,253.9 472.5,253.9 473.8,323.0 470.0,323.0" fill="#6b6b6b" opacity="0.95"/>
<polygon points="473.1,260.2 474.6,260.2 475.9,334.0 471.9,334.0" fill="#9e9e9e" opacity="0.95"/>
<polygon points="475.6,267.1 477.0,267.1 478.4,330.9 474.2,330.9" fill="#7a7a7a" opacity="0.95"/>
<polygon points="477.3,266.4 479.0,266.4 480.0,323.5 476.2,323.5" fill="#9e9e9e" opacity="0.95"/>
<polygon points="479.1,259.7 481.0,259.7 482.2,324.8 478.0,324.8" fill="#7a7a7a" opacity="0.95"/>
<polygon points="481.4,268.8 482.8,268.8 484.3,327.0 480.0,327.0" fill="#adadad" opacity="0.95"/>
<polygon points="484.4,269.2 485.8,269.2 486.8,306.6 483.4,306.6" fill="#b8b8b8" opacity="0.95"/>
<polygon points="486.9,265.9 488.1,265.9 490.0,339.1 485.0,339.1" fill="#b8b8b8" opacity="0.95"/>
<polygon points="488.9,267.4 490.2,267.4 490.9,300.7 488.1,300.7" fill="#7a7a7a" opacity="0.95"/>
<polygon points="490.5,266.2 492.3,266.2 493.7,335.5 489.0,335.5" fill="#9e9e9e" opacity="0.95"/>
<polygon points="493.1,255.6 494.8,255.6 495.6,297.2 492.3,297.2" fill="#666666" opacity="0.95"/>
<polygon points="495.8,260.3 497.6,260.3 498.6,321.4 494.8,321.4" fill="#666666" opacity="0.95"/>
<polygon points="497.9,271.7 499.4,271.7 499.9,296.5 497.4,296.5" fill="#7a7a7a" opacity="0.95"/>
<polygon points="499.8,253.1 501.2,253.1 502.6,316.9 498.4,316.9" fill="#9e9e9e" opacity="0.95"/>
<polygon points="501.6,255.1 503.2,255.1 504.5,310.2 500.2,310.2" fill="#9e9e9e" opacity="0.95"/>
<polygon points="503.8,256.8 505.7,256.8 507.8,343.4 501.7,343.4" fill="#a3a3a3" opacity="0.95"/>
<polygon points="696.8,266.4 698.0,266.4 698.8,311.7 695.9,311.7" fill="#808080" opacity="0.95"/>
<polygon points="699.2,270.2 701.0,270.2 701.5,299.7 698.6,299.7" fill="#808080" opacity="0.95"/>
<polygon points="702.1,267.2 703.9,267.2 705.1,310.5 701.0,310.5" fill="#9e9e9e" opacity="0.95"/>
</g>
<g filter="url(#b1)">
<polygon points="307.8,319.4 309.4,319.4 310.2,341.7 307.0,341.7" fill="#616161" opacity="0.8"/>
<polygon points="274.0,302.6 275.9,302.6 276.6,322.3 273.3,322.3" fill="#616161" opacity="0.8"/>
<polygon points="404.9,318.6 407.0,318.6 408.2,347.0 403.7,347.0" fill="#a8a8a8" opacity="0.8"/>
<polygon points="331.8,310.9 334.1,310.9 334.7,327.4 331.2,327.4" fill="#a8a8a8" opacity="0.8"/>
<polygon points="470.3,295.1 472.2,295.1 473.1,319.4 469.5,319.4" fill="#666666" opacity="0.8"/>
<polygon points="244.3,294.4 246.3,294.4 246.9,310.9 243.8,310.9" fill="#a8a8a8" opacity="0.8"/>
<polygon points="220.0,309.7 221.7,309.7 222.4,329.8 219.2,329.8" fill="#999999" opacity="0.8"/>
<polygon points="464.6,286.1 466.6,286.1 467.8,317.7 463.5,317.7" fill="#a1a1a1" opacity="0.8"/>
<polygon points="357.9,300.2 360.2,300.2 361.1,325.3 357.0,325.3" fill="#9e9e9e" opacity="0.8"/>
<polygon points="266.2,318.7 267.9,318.7 268.5,335.5 265.6,335.5" fill="#999999" opacity="0.8"/>
<polygon points="309.8,302.5 311.4,302.5 312.0,319.0 309.2,319.0" fill="#666666" opacity="0.8"/>
<polygon points="381.2,293.7 382.6,293.7 383.1,309.7 380.6,309.7" fill="#9e9e9e" opacity="0.8"/>
<polygon points="329.5,316.4 331.7,316.4 332.9,347.0 328.3,347.0" fill="#999999" opacity="0.8"/>
<polygon points="385.2,314.5 386.9,314.5 387.7,336.3 384.4,336.3" fill="#a1a1a1" opacity="0.8"/>
<polygon points="394.9,310.7 396.4,310.7 397.5,341.8 393.7,341.8" fill="#616161" opacity="0.8"/>
<polygon points="358.4,303.2 360.2,303.2 361.2,331.6 357.4,331.6" fill="#a8a8a8" opacity="0.8"/>
<polygon points="376.0,303.4 378.3,303.4 379.4,333.7 375.0,333.7" fill="#a3a3a3" opacity="0.8"/>
<polygon points="403.2,317.5 404.7,317.5 406.0,347.0 401.8,347.0" fill="#666666" opacity="0.8"/>
<polygon points="292.7,313.6 295.0,313.6 295.9,340.1 291.8,340.1" fill="#9e9e9e" opacity="0.8"/>
<polygon points="139.7,294.4 141.4,294.4 142.4,321.6 138.8,321.6" fill="#666666" opacity="0.8"/>
<polygon points="363.3,298.6 365.5,298.6 366.6,329.6 362.2,329.6" fill="#a3a3a3" opacity="0.8"/>
<polygon points="437.9,306.0 440.1,306.0 441.0,331.2 437.0,331.2" fill="#7a7a7a" opacity="0.8"/>
<polygon points="222.7,291.0 224.4,291.0 225.1,311.4 222.0,311.4" fill="#666666" opacity="0.8"/>
<polygon points="190.3,285.5 191.9,285.5 193.0,314.4 189.2,314.4" fill="#616161" opacity="0.8"/>
<polygon points="223.7,294.3 225.1,294.3 226.2,325.0 222.6,325.0" fill="#a3a3a3" opacity="0.8"/>
<polygon points="393.4,289.4 395.8,289.4 396.4,306.3 392.8,306.3" fill="#999999" opacity="0.8"/>
<polygon points="165.5,297.2 167.0,297.2 167.6,313.8 164.9,313.8" fill="#9e9e9e" opacity="0.8"/>
<polygon points="145.0,301.2 146.8,301.2 148.1,336.4 143.8,336.4" fill="#6b6b6b" opacity="0.8"/>
<polygon points="356.9,313.3 358.8,313.3 360.2,347.0 355.5,347.0" fill="#a3a3a3" opacity="0.8"/>
<polygon points="426.9,290.4 429.2,290.4 429.9,310.3 426.2,310.3" fill="#a8a8a8" opacity="0.8"/>
<polygon points="285.8,290.6 287.3,290.6 288.6,326.1 284.5,326.1" fill="#999999" opacity="0.8"/>
<polygon points="359.8,295.1 361.7,295.1 362.5,316.1 359.0,316.1" fill="#a8a8a8" opacity="0.8"/>
<polygon points="334.5,290.6 335.9,290.6 336.5,306.8 333.9,306.8" fill="#5c5c5c" opacity="0.8"/>
<polygon points="248.5,290.2 250.4,290.2 251.6,323.5 247.3,323.5" fill="#575757" opacity="0.8"/>
<polygon points="278.6,314.9 280.6,314.9 281.5,339.6 277.7,339.6" fill="#999999" opacity="0.8"/>
<polygon points="437.2,294.3 439.6,294.3 440.4,314.5 436.5,314.5" fill="#adadad" opacity="0.8"/>
<polygon points="289.5,315.8 291.8,315.8 292.9,347.0 288.3,347.0" fill="#a1a1a1" opacity="0.8"/>
<polygon points="326.7,310.0 328.4,310.0 329.2,331.9 325.9,331.9" fill="#999999" opacity="0.8"/>
<polygon points="316.9,285.4 319.1,285.4 319.8,306.0 316.2,306.0" fill="#5c5c5c" opacity="0.8"/>
<polygon points="220.9,294.1 223.1,294.1 224.4,330.4 219.6,330.4" fill="#a8a8a8" opacity="0.8"/>
<polygon points="437.7,313.4 439.6,313.4 440.9,347.0 436.4,347.0" fill="#b8b8b8" opacity="0.8"/>
<polygon points="390.8,294.3 392.3,294.3 393.6,330.3 389.5,330.3" fill="#999999" opacity="0.8"/>
<polygon points="243.6,311.8 245.6,311.8 246.6,338.9 242.6,338.9" fill="#a8a8a8" opacity="0.8"/>
<polygon points="292.3,296.5 294.0,296.5 294.6,314.0 291.7,314.0" fill="#5c5c5c" opacity="0.8"/>
<polygon points="201.2,291.7 203.3,291.7 203.9,308.7 200.6,308.7" fill="#a8a8a8" opacity="0.8"/>
<polygon points="187.5,288.9 189.0,288.9 189.7,308.1 186.9,308.1" fill="#9e9e9e" opacity="0.8"/>
<polygon points="273.2,286.9 274.6,286.9 275.3,305.0 272.5,305.0" fill="#616161" opacity="0.8"/>
<polygon points="186.3,287.5 188.1,287.5 189.2,316.4 185.3,316.4" fill="#666666" opacity="0.8"/>
<polygon points="489.5,293.1 491.7,293.1 492.6,318.1 488.6,318.1" fill="#6b6b6b" opacity="0.8"/>
<polygon points="146.0,299.4 147.9,299.4 149.2,335.7 144.7,335.7" fill="#666666" opacity="0.8"/>
<polygon points="123.1,312.0 124.7,312.0 125.8,342.6 122.0,342.6" fill="#808080" opacity="0.8"/>
<polygon points="356.5,317.8 358.0,317.8 359.3,347.0 355.3,347.0" fill="#5c5c5c" opacity="0.8"/>
<polygon points="403.4,312.5 405.3,312.5 406.3,338.1 402.5,338.1" fill="#9e9e9e" opacity="0.8"/>
<polygon points="263.6,305.0 265.5,305.0 266.1,322.0 263.0,322.0" fill="#575757" opacity="0.8"/>
<polygon points="347.6,307.0 349.3,307.0 350.6,343.5 346.3,343.5" fill="#9e9e9e" opacity="0.8"/>
<polygon points="217.7,308.0 219.5,308.0 220.2,328.2 216.9,328.2" fill="#999999" opacity="0.8"/>
<polygon points="453.2,289.7 454.8,289.7 456.1,327.5 451.8,327.5" fill="#adadad" opacity="0.8"/>
<polygon points="474.8,314.2 476.7,314.2 477.3,333.4 474.1,333.4" fill="#a1a1a1" opacity="0.8"/>
<polygon points="501.6,287.4 503.5,287.4 504.8,322.5 500.4,322.5" fill="#666666" opacity="0.8"/>
<polygon points="253.4,292.7 255.1,292.7 255.7,309.0 252.9,309.0" fill="#9e9e9e" opacity="0.8"/>
<polygon points="366.7,287.7 369.0,287.7 370.0,315.9 365.7,315.9" fill="#575757" opacity="0.8"/>
<polygon points="146.7,303.4 148.9,303.4 149.5,320.6 146.1,320.6" fill="#6b6b6b" opacity="0.8"/>
<polygon points="177.3,298.5 179.6,298.5 180.3,316.7 176.6,316.7" fill="#a8a8a8" opacity="0.8"/>
<polygon points="203.4,295.7 205.7,295.7 206.6,320.8 202.5,320.8" fill="#5c5c5c" opacity="0.8"/>
<polygon points="356.6,318.4 358.5,318.4 359.2,335.9 356.0,335.9" fill="#616161" opacity="0.8"/>
<polygon points="240.9,320.4 242.7,320.4 244.0,347.0 239.6,347.0" fill="#575757" opacity="0.8"/>
<polygon points="433.4,310.9 435.4,310.9 436.6,345.5 432.1,345.5" fill="#7a7a7a" opacity="0.8"/>
<polygon points="386.8,291.7 388.2,291.7 388.9,310.5 386.1,310.5" fill="#575757" opacity="0.8"/>
<polygon points="226.3,294.6 227.9,294.6 228.8,318.1 225.5,318.1" fill="#666666" opacity="0.8"/>
<polygon points="501.9,310.6 504.1,310.6 505.2,342.8 500.8,342.8" fill="#a3a3a3" opacity="0.8"/>
<polygon points="196.2,287.6 198.0,287.6 198.8,309.5 195.4,309.5" fill="#999999" opacity="0.8"/>
<polygon points="295.0,303.7 296.7,303.7 298.0,340.5 293.7,340.5" fill="#9e9e9e" opacity="0.8"/>
<polygon points="342.0,295.5 344.1,295.5 345.3,330.7 340.7,330.7" fill="#a1a1a1" opacity="0.8"/>
<polygon points="294.2,319.5 296.1,319.5 296.9,344.1 293.3,344.1" fill="#616161" opacity="0.8"/>
<polygon points="143.9,300.5 145.6,300.5 146.4,322.7 143.1,322.7" fill="#b2b2b2" opacity="0.8"/>
<polygon points="386.5,309.9 388.5,309.9 389.3,331.3 385.8,331.3" fill="#a3a3a3" opacity="0.8"/>
<polygon points="452.7,299.4 454.3,299.4 455.0,321.5 452.0,321.5" fill="#9e9e9e" opacity="0.8"/>
<polygon points="372.2,301.8 374.0,301.8 374.7,322.4 371.5,322.4" fill="#5c5c5c" opacity="0.8"/>
<polygon points="397.3,309.8 399.4,309.8 400.3,333.3 396.5,333.3" fill="#5c5c5c" opacity="0.8"/>
<polygon points="178.9,287.7 181.0,287.7 181.7,307.4 178.2,307.4" fill="#9e9e9e" opacity="0.8"/>
<polygon points="352.2,320.9 354.1,320.9 355.4,347.0 350.9,347.0" fill="#575757" opacity="0.8"/>
<polygon points="207.5,305.0 209.6,305.0 210.2,323.5 206.8,323.5" fill="#9e9e9e" opacity="0.8"/>
<polygon points="423.4,319.5 425.1,319.5 426.1,346.9 422.4,346.9" fill="#575757" opacity="0.8"/>
<polygon points="173.9,299.6 176.2,299.6 177.4,331.9 172.7,331.9" fill="#a3a3a3" opacity="0.8"/>
<polygon points="386.8,314.1 389.0,314.1 390.3,347.0 385.6,347.0" fill="#575757" opacity="0.8"/>
<polygon points="165.3,302.3 166.8,302.3 167.4,318.7 164.7,318.7" fill="#5c5c5c" opacity="0.8"/>
<polygon points="278.1,305.8 279.8,305.8 281.2,343.2 276.8,343.2" fill="#5c5c5c" opacity="0.8"/>
<polygon points="314.4,289.6 316.3,289.6 317.3,318.1 313.3,318.1" fill="#a1a1a1" opacity="0.8"/>
<polygon points="238.0,298.1 239.5,298.1 240.2,319.5 237.3,319.5" fill="#575757" opacity="0.8"/>
<polygon points="202.7,301.7 204.9,301.7 205.9,330.0 201.7,330.0" fill="#a1a1a1" opacity="0.8"/>
<polygon points="312.9,290.3 315.0,290.3 316.0,318.7 311.9,318.7" fill="#999999" opacity="0.8"/>
<polygon points="451.5,320.7 453.7,320.7 454.6,345.8 450.6,345.8" fill="#adadad" opacity="0.8"/>
<polygon points="161.5,312.3 162.9,312.3 163.8,336.6 160.6,336.6" fill="#999999" opacity="0.8"/>
<polygon points="161.6,296.1 163.3,296.1 164.7,333.4 160.2,333.4" fill="#5c5c5c" opacity="0.8"/>
<polygon points="234.4,292.9 236.2,292.9 237.2,320.8 233.4,320.8" fill="#575757" opacity="0.8"/>
<polygon points="307.4,309.2 309.2,309.2 310.4,344.7 306.1,344.7" fill="#5c5c5c" opacity="0.8"/>
<polygon points="234.2,312.4 236.3,312.4 237.1,334.0 233.4,334.0" fill="#9e9e9e" opacity="0.8"/>
<polygon points="267.0,309.0 269.2,309.0 270.0,332.3 266.1,332.3" fill="#a8a8a8" opacity="0.8"/>
<polygon points="142.7,304.5 144.8,304.5 145.8,332.6 141.7,332.6" fill="#a1a1a1" opacity="0.8"/>
<polygon points="393.5,286.2 395.6,286.2 396.5,310.1 392.6,310.1" fill="#575757" opacity="0.8"/>
<polygon points="262.6,307.0 264.9,307.0 265.6,325.3 261.9,325.3" fill="#666666" opacity="0.8"/>
<polygon points="259.7,307.1 261.9,307.1 262.7,331.2 258.8,331.2" fill="#999999" opacity="0.8"/>
<polygon points="140.9,291.8 142.3,291.8 143.0,310.4 140.2,310.4" fill="#666666" opacity="0.8"/>
<polygon points="154.7,294.3 156.8,294.3 157.5,316.3 153.9,316.3" fill="#575757" opacity="0.8"/>
<polygon points="262.5,288.3 264.9,288.3 266.0,316.9 261.5,316.9" fill="#9e9e9e" opacity="0.8"/>
<polygon points="439.1,297.1 441.2,297.1 442.0,320.1 438.3,320.1" fill="#666666" opacity="0.8"/>
<polygon points="140.7,313.3 143.0,313.3 143.6,330.3 140.1,330.3" fill="#6b6b6b" opacity="0.8"/>
<polygon points="364.8,285.8 367.0,285.8 368.3,322.4 363.5,322.4" fill="#5c5c5c" opacity="0.8"/>
<polygon points="303.7,297.4 305.3,297.4 306.3,327.2 302.6,327.2" fill="#5c5c5c" opacity="0.8"/>
<polygon points="151.0,310.4 153.2,310.4 153.9,329.4 150.4,329.4" fill="#575757" opacity="0.8"/>
<polygon points="290.3,318.2 292.4,318.2 293.5,347.0 289.1,347.0" fill="#666666" opacity="0.8"/>
<polygon points="330.3,289.2 331.8,289.2 332.4,307.8 329.6,307.8" fill="#999999" opacity="0.8"/>
<polygon points="453.4,288.6 454.9,288.6 455.8,311.7 452.6,311.7" fill="#a1a1a1" opacity="0.8"/>
<polygon points="224.5,300.1 226.5,300.1 227.8,335.8 223.2,335.8" fill="#616161" opacity="0.8"/>
<polygon points="476.6,303.3 478.1,303.3 479.2,334.4 475.5,334.4" fill="#b8b8b8" opacity="0.8"/>
<polygon points="404.7,291.2 406.9,291.2 407.9,320.0 403.7,320.0" fill="#a8a8a8" opacity="0.8"/>
<polygon points="369.8,298.9 371.8,298.9 373.0,332.6 368.6,332.6" fill="#575757" opacity="0.8"/>
<polygon points="443.4,298.3 445.1,298.3 446.2,327.1 442.4,327.1" fill="#b8b8b8" opacity="0.8"/>
<polygon points="387.7,293.6 389.3,293.6 390.1,315.4 386.9,315.4" fill="#5c5c5c" opacity="0.8"/>
<polygon points="143.6,315.5 145.9,315.5 146.7,339.8 142.7,339.8" fill="#666666" opacity="0.8"/>
<polygon points="144.2,291.6 146.1,291.6 147.0,316.8 143.3,316.8" fill="#b2b2b2" opacity="0.8"/>
<polygon points="208.3,312.9 209.8,312.9 210.4,331.1 207.7,331.1" fill="#a3a3a3" opacity="0.8"/>
<polygon points="388.0,306.0 389.8,306.0 390.8,334.2 387.0,334.2" fill="#a3a3a3" opacity="0.8"/>
<polygon points="493.0,298.2 494.6,298.2 495.4,320.9 492.2,320.9" fill="#adadad" opacity="0.8"/>
<polygon points="195.7,304.8 197.7,304.8 198.8,334.2 194.7,334.2" fill="#a3a3a3" opacity="0.8"/>
<polygon points="465.3,319.2 467.3,319.2 468.4,347.0 464.1,347.0" fill="#a3a3a3" opacity="0.8"/>
<polygon points="438.8,321.3 440.8,321.3 441.4,339.8 438.2,339.8" fill="#adadad" opacity="0.8"/>
<polygon points="216.9,295.8 218.4,295.8 219.1,317.4 216.1,317.4" fill="#9e9e9e" opacity="0.8"/>
<polygon points="130.4,314.4 131.9,314.4 133.3,347.0 129.1,347.0" fill="#b2b2b2" opacity="0.8"/>
<polygon points="450.0,316.6 451.9,316.6 453.0,346.0 448.9,346.0" fill="#adadad" opacity="0.8"/>
<polygon points="373.2,319.0 375.0,319.0 376.2,347.0 372.0,347.0" fill="#a1a1a1" opacity="0.8"/>
<polygon points="419.4,309.1 421.2,309.1 422.2,337.1 418.4,337.1" fill="#a8a8a8" opacity="0.8"/>
<polygon points="202.5,308.7 204.0,308.7 204.7,330.6 201.7,330.6" fill="#616161" opacity="0.8"/>
<polygon points="330.6,306.3 332.9,306.3 334.2,342.7 329.3,342.7" fill="#666666" opacity="0.8"/>
<polygon points="158.4,305.9 160.1,305.9 160.8,324.6 157.7,324.6" fill="#666666" opacity="0.8"/>
<polygon points="173.2,320.1 175.2,320.1 176.3,347.0 172.1,347.0" fill="#9e9e9e" opacity="0.8"/>
<polygon points="497.4,310.4 499.4,310.4 500.6,345.2 496.2,345.2" fill="#7a7a7a" opacity="0.8"/>
<polygon points="287.0,310.1 289.3,310.1 290.0,328.0 286.4,328.0" fill="#575757" opacity="0.8"/>
<polygon points="457.9,288.8 459.4,288.8 460.1,307.8 457.3,307.8" fill="#b8b8b8" opacity="0.8"/>
<polygon points="481.0,318.2 482.7,318.2 483.4,336.2 480.4,336.2" fill="#666666" opacity="0.8"/>
<polygon points="389.2,319.7 391.4,319.7 392.8,347.0 387.8,347.0" fill="#616161" opacity="0.8"/>
<polygon points="479.0,285.7 480.9,285.7 481.9,312.5 478.0,312.5" fill="#7a7a7a" opacity="0.8"/>
<polygon points="464.7,296.7 467.0,296.7 467.7,316.4 464.0,316.4" fill="#6b6b6b" opacity="0.8"/>
<polygon points="131.4,289.1 133.2,289.1 134.4,324.3 130.1,324.3" fill="#6b6b6b" opacity="0.8"/>
<polygon points="176.7,291.9 178.1,291.9 179.2,321.2 175.7,321.2" fill="#5c5c5c" opacity="0.8"/>
<polygon points="145.3,314.4 147.0,314.4 148.4,347.0 143.9,347.0" fill="#666666" opacity="0.8"/>
<polygon points="203.4,299.5 205.4,299.5 206.7,335.3 202.2,335.3" fill="#a1a1a1" opacity="0.8"/>
<polygon points="321.4,297.4 323.7,297.4 324.8,328.3 320.3,328.3" fill="#a3a3a3" opacity="0.8"/>
<polygon points="278.4,292.4 280.6,292.4 281.3,313.1 277.6,313.1" fill="#a3a3a3" opacity="0.8"/>
<polygon points="247.2,293.8 249.1,293.8 250.2,324.2 246.1,324.2" fill="#999999" opacity="0.8"/>
</g>
<g filter="url(#b1_5)">
<polygon points="313.0,312.9 314.9,312.9 315.9,340.2 312.1,340.2" fill="#808080" opacity="0.55"/>
<polygon points="243.2,341.1 245.3,341.1 246.7,379.3 241.8,379.3" fill="#8f8f8f" opacity="0.55"/>
<polygon points="171.6,342.5 173.3,342.5 174.2,367.9 170.7,367.9" fill="#8f8f8f" opacity="0.55"/>
<polygon points="308.1,317.5 310.6,317.5 312.0,355.6 306.7,355.6" fill="#808080" opacity="0.55"/>
<polygon points="432.3,327.5 434.2,327.5 435.0,349.6 431.5,349.6" fill="#8f8f8f" opacity="0.55"/>
<polygon points="374.8,327.2 377.3,327.2 378.3,353.8 373.8,353.8" fill="#858585" opacity="0.55"/>
<polygon points="168.4,351.0 170.5,351.0 172.2,396.3 166.8,396.3" fill="#808080" opacity="0.55"/>
<polygon points="258.0,314.6 259.6,314.6 261.3,360.0 256.3,360.0" fill="#8f8f8f" opacity="0.55"/>
<polygon points="194.7,331.7 196.7,331.7 197.6,356.5 193.9,356.5" fill="#707070" opacity="0.55"/>
<polygon points="415.3,317.7 417.1,317.7 418.5,357.1 413.9,357.1" fill="#808080" opacity="0.55"/>
<polygon points="187.8,339.1 189.8,339.1 191.4,383.6 186.2,383.6" fill="#999999" opacity="0.55"/>
<polygon points="356.6,349.0 359.2,349.0 360.0,371.3 355.8,371.3" fill="#808080" opacity="0.55"/>
<polygon points="356.6,339.1 358.4,339.1 359.1,360.7 355.8,360.7" fill="#707070" opacity="0.55"/>
<polygon points="184.1,333.1 186.1,333.1 187.4,367.3 182.9,367.3" fill="#858585" opacity="0.55"/>
<polygon points="379.0,322.5 380.6,322.5 381.3,343.2 378.2,343.2" fill="#8f8f8f" opacity="0.55"/>
<polygon points="412.7,351.0 414.5,351.0 416.1,397.0 411.1,397.0" fill="#858585" opacity="0.55"/>
<polygon points="424.8,337.5 427.2,337.5 428.0,358.7 424.1,358.7" fill="#999999" opacity="0.55"/>
<polygon points="427.1,330.4 429.2,330.4 430.5,366.5 425.8,366.5" fill="#999999" opacity="0.55"/>
<polygon points="203.5,349.8 205.6,349.8 207.3,397.1 201.9,397.1" fill="#808080" opacity="0.55"/>
<polygon points="316.3,333.7 318.0,333.7 319.0,360.2 315.3,360.2" fill="#808080" opacity="0.55"/>
<polygon points="359.6,320.5 361.6,320.5 362.3,339.1 358.9,339.1" fill="#8f8f8f" opacity="0.55"/>
<polygon points="424.1,336.5 425.9,336.5 426.6,356.4 423.4,356.4" fill="#808080" opacity="0.55"/>
<polygon points="153.1,324.2 155.6,324.2 156.3,343.4 152.4,343.4" fill="#707070" opacity="0.55"/>
<polygon points="309.8,339.5 311.6,339.5 312.5,365.0 308.9,365.0" fill="#707070" opacity="0.55"/>
<polygon points="190.0,335.2 192.2,335.2 193.5,371.5 188.7,371.5" fill="#999999" opacity="0.55"/>
<polygon points="280.5,325.3 282.8,325.3 284.4,370.7 278.9,370.7" fill="#8f8f8f" opacity="0.55"/>
<polygon points="326.8,347.6 328.9,347.6 330.3,385.4 325.5,385.4" fill="#999999" opacity="0.55"/>
<polygon points="430.7,323.5 432.5,323.5 433.3,346.7 429.8,346.7" fill="#707070" opacity="0.55"/>
<polygon points="315.8,318.3 318.0,318.3 319.7,364.7 314.1,364.7" fill="#707070" opacity="0.55"/>
<polygon points="330.2,312.1 332.3,312.1 333.5,344.5 329.1,344.5" fill="#808080" opacity="0.55"/>
<polygon points="412.7,332.6 415.0,332.6 416.0,361.9 411.7,361.9" fill="#808080" opacity="0.55"/>
<polygon points="263.6,331.9 265.7,331.9 267.2,375.3 262.1,375.3" fill="#858585" opacity="0.55"/>
<polygon points="174.4,331.9 177.0,331.9 178.2,364.4 173.3,364.4" fill="#8f8f8f" opacity="0.55"/>
<polygon points="229.2,329.7 231.0,329.7 231.8,350.2 228.5,350.2" fill="#808080" opacity="0.55"/>
<polygon points="386.3,343.9 388.0,343.9 388.9,369.6 385.3,369.6" fill="#858585" opacity="0.55"/>
<polygon points="250.1,314.3 251.9,314.3 252.6,334.5 249.4,334.5" fill="#999999" opacity="0.55"/>
<polygon points="239.3,338.6 241.5,338.6 242.7,371.7 238.1,371.7" fill="#8f8f8f" opacity="0.55"/>
<polygon points="346.1,329.8 348.4,329.8 349.3,356.8 345.1,356.8" fill="#8f8f8f" opacity="0.55"/>
<polygon points="377.2,340.5 378.9,340.5 380.4,382.8 375.7,382.8" fill="#8f8f8f" opacity="0.55"/>
<polygon points="284.8,340.6 287.3,340.6 288.0,359.9 284.1,359.9" fill="#808080" opacity="0.55"/>
<polygon points="336.9,330.8 339.4,330.8 340.8,368.2 335.6,368.2" fill="#999999" opacity="0.55"/>
<polygon points="333.3,314.6 335.2,314.6 336.6,352.6 332.0,352.6" fill="#808080" opacity="0.55"/>
<polygon points="231.2,327.6 233.5,327.6 234.4,353.2 230.3,353.2" fill="#858585" opacity="0.55"/>
<polygon points="365.6,351.4 368.0,351.4 369.3,388.1 364.3,388.1" fill="#8f8f8f" opacity="0.55"/>
<polygon points="340.2,329.4 342.6,329.4 343.6,359.7 339.1,359.7" fill="#999999" opacity="0.55"/>
<polygon points="398.9,334.8 400.8,334.8 402.4,381.1 397.3,381.1" fill="#999999" opacity="0.55"/>
<polygon points="352.2,313.6 354.6,313.6 356.1,358.1 350.6,358.1" fill="#999999" opacity="0.55"/>
<polygon points="214.4,338.1 216.5,338.1 217.9,379.4 212.9,379.4" fill="#8f8f8f" opacity="0.55"/>
<polygon points="239.2,322.9 241.5,322.9 242.4,346.5 238.4,346.5" fill="#707070" opacity="0.55"/>
<polygon points="418.5,325.2 420.4,325.2 422.1,371.0 416.9,371.0" fill="#808080" opacity="0.55"/>
<polygon points="421.3,336.8 423.3,336.8 424.9,383.7 419.6,383.7" fill="#808080" opacity="0.55"/>
<polygon points="229.0,332.9 230.7,332.9 231.9,365.5 227.9,365.5" fill="#808080" opacity="0.55"/>
<polygon points="350.7,314.0 352.6,314.0 354.0,354.7 349.3,354.7" fill="#858585" opacity="0.55"/>
<polygon points="206.0,335.2 208.0,335.2 208.9,360.5 205.1,360.5" fill="#707070" opacity="0.55"/>
<polygon points="246.2,350.3 248.2,350.3 249.2,377.2 245.2,377.2" fill="#858585" opacity="0.55"/>
<polygon points="265.5,321.4 267.2,321.4 268.3,353.6 264.3,353.6" fill="#808080" opacity="0.55"/>
<polygon points="272.6,339.4 275.0,339.4 276.5,380.3 271.2,380.3" fill="#858585" opacity="0.55"/>
<polygon points="413.4,332.0 415.5,332.0 417.2,378.4 411.7,378.4" fill="#858585" opacity="0.55"/>
<polygon points="434.1,333.1 436.3,333.1 437.2,356.8 433.3,356.8" fill="#808080" opacity="0.55"/>
<polygon points="201.4,350.8 203.7,350.8 205.2,392.4 199.9,392.4" fill="#858585" opacity="0.55"/>
<polygon points="240.3,342.7 242.3,342.7 243.7,380.1 239.0,380.1" fill="#808080" opacity="0.55"/>
<polygon points="272.4,316.3 274.9,316.3 276.1,348.5 271.3,348.5" fill="#707070" opacity="0.55"/>
<polygon points="165.0,314.8 167.1,314.8 168.0,340.9 164.1,340.9" fill="#858585" opacity="0.55"/>
<polygon points="185.6,329.0 187.6,329.0 188.8,364.2 184.3,364.2" fill="#8f8f8f" opacity="0.55"/>
<polygon points="335.0,339.3 336.6,339.3 337.9,375.7 333.7,375.7" fill="#808080" opacity="0.55"/>
<polygon points="310.5,321.8 312.1,321.8 313.4,356.9 309.2,356.9" fill="#999999" opacity="0.55"/>
<polygon points="169.9,327.6 171.7,327.6 172.9,359.7 168.8,359.7" fill="#808080" opacity="0.55"/>
<polygon points="218.9,341.7 221.4,341.7 223.1,389.3 217.2,389.3" fill="#707070" opacity="0.55"/>
<polygon points="331.4,325.4 333.6,325.4 334.2,344.1 330.7,344.1" fill="#858585" opacity="0.55"/>
<polygon points="360.2,346.8 362.6,346.8 363.4,370.5 359.4,370.5" fill="#808080" opacity="0.55"/>
<polygon points="351.6,329.9 353.4,329.9 354.4,358.9 350.6,358.9" fill="#999999" opacity="0.55"/>
<polygon points="273.3,320.4 275.6,320.4 276.2,339.1 272.7,339.1" fill="#707070" opacity="0.55"/>
<polygon points="174.4,341.4 176.5,341.4 177.8,378.2 173.1,378.2" fill="#858585" opacity="0.55"/>
<polygon points="256.3,347.9 258.8,347.9 260.5,395.2 254.6,395.2" fill="#999999" opacity="0.55"/>
<polygon points="170.2,321.1 172.7,321.1 173.6,345.9 169.3,345.9" fill="#858585" opacity="0.55"/>
<polygon points="336.6,338.8 338.5,338.8 339.6,369.8 335.5,369.8" fill="#707070" opacity="0.55"/>
<polygon points="369.2,333.6 371.4,333.6 373.1,381.0 367.6,381.0" fill="#707070" opacity="0.55"/>
<polygon points="261.0,345.6 262.9,345.6 263.9,373.9 260.0,373.9" fill="#999999" opacity="0.55"/>
<polygon points="324.3,320.8 326.6,320.8 327.7,350.8 323.2,350.8" fill="#8f8f8f" opacity="0.55"/>
<polygon points="272.8,331.9 275.2,331.9 275.9,351.5 272.1,351.5" fill="#8f8f8f" opacity="0.55"/>
</g>
<g filter="url(#b0_6)">
<ellipse cx="270.6" cy="311.0" rx="1.0" ry="1.5" fill="#292929" opacity="0.85"/>
<ellipse cx="394.2" cy="325.2" rx="1.0" ry="1.4" fill="#292929" opacity="0.85"/>
<ellipse cx="407.5" cy="310.1" rx="0.9" ry="1.5" fill="#292929" opacity="0.85"/>
<ellipse cx="216.9" cy="320.5" rx="1.0" ry="1.5" fill="#292929" opacity="0.85"/>
<ellipse cx="336.1" cy="307.2" rx="0.9" ry="1.6" fill="#292929" opacity="0.85"/>
<ellipse cx="500.0" cy="273.3" rx="0.7" ry="1.8" fill="#292929" opacity="0.85"/>
<ellipse cx="420.6" cy="289.0" rx="0.8" ry="1.7" fill="#292929" opacity="0.85"/>
<ellipse cx="399.7" cy="340.9" rx="1.1" ry="1.3" fill="#292929" opacity="0.85"/>
<ellipse cx="225.7" cy="309.1" rx="0.9" ry="1.6" fill="#292929" opacity="0.85"/>
<ellipse cx="323.4" cy="303.1" rx="0.9" ry="1.6" fill="#292929" opacity="0.85"/>
<ellipse cx="184.3" cy="313.9" rx="1.0" ry="1.5" fill="#292929" opacity="0.85"/>
<ellipse cx="464.0" cy="317.1" rx="1.0" ry="1.5" fill="#292929" opacity="0.85"/>
<ellipse cx="231.3" cy="328.9" rx="1.1" ry="1.4" fill="#292929" opacity="0.85"/>
<ellipse cx="281.7" cy="274.1" rx="0.7" ry="1.8" fill="#292929" opacity="0.85"/>
<ellipse cx="353.3" cy="300.2" rx="0.9" ry="1.6" fill="#292929" opacity="0.85"/>
<ellipse cx="324.0" cy="344.3" rx="1.1" ry="1.3" fill="#292929" opacity="0.85"/>
<ellipse cx="339.2" cy="341.1" rx="1.1" ry="1.3" fill="#292929" opacity="0.85"/>
<ellipse cx="255.8" cy="325.0" rx="1.0" ry="1.4" fill="#292929" opacity="0.85"/>
<ellipse cx="149.0" cy="286.9" rx="0.8" ry="1.7" fill="#292929" opacity="0.85"/>
<ellipse cx="386.4" cy="319.3" rx="1.0" ry="1.5" fill="#292929" opacity="0.85"/>
<ellipse cx="438.9" cy="293.6" rx="0.9" ry="1.7" fill="#292929" opacity="0.85"/>
<ellipse cx="225.3" cy="291.7" rx="0.8" ry="1.7" fill="#292929" opacity="0.85"/>
<ellipse cx="326.9" cy="264.0" rx="0.7" ry="1.9" fill="#292929" opacity="0.85"/>
<ellipse cx="264.2" cy="316.6" rx="1.0" ry="1.5" fill="#292929" opacity="0.85"/>
<ellipse cx="177.2" cy="287.8" rx="0.8" ry="1.7" fill="#292929" opacity="0.85"/>
<ellipse cx="456.0" cy="339.5" rx="1.1" ry="1.3" fill="#292929" opacity="0.85"/>
<ellipse cx="216.1" cy="276.8" rx="0.8" ry="1.8" fill="#292929" opacity="0.85"/>
<ellipse cx="165.3" cy="269.1" rx="0.7" ry="1.8" fill="#292929" opacity="0.85"/>
<ellipse cx="425.7" cy="323.3" rx="1.0" ry="1.5" fill="#292929" opacity="0.85"/>
<ellipse cx="221.8" cy="302.6" rx="0.9" ry="1.6" fill="#292929" opacity="0.85"/>
<ellipse cx="387.7" cy="264.3" rx="0.7" ry="1.9" fill="#292929" opacity="0.85"/>
<ellipse cx="435.3" cy="333.3" rx="1.1" ry="1.4" fill="#292929" opacity="0.85"/>
<ellipse cx="201.4" cy="320.4" rx="1.0" ry="1.5" fill="#292929" opacity="0.85"/>
<ellipse cx="389.2" cy="290.0" rx="0.8" ry="1.7" fill="#292929" opacity="0.85"/>
<ellipse cx="458.2" cy="280.1" rx="0.8" ry="1.8" fill="#292929" opacity="0.85"/>
<ellipse cx="302.5" cy="288.0" rx="0.8" ry="1.7" fill="#292929" opacity="0.85"/>
<ellipse cx="290.1" cy="329.4" rx="1.1" ry="1.4" fill="#292929" opacity="0.85"/>
<ellipse cx="339.4" cy="312.6" rx="1.0" ry="1.5" fill="#292929" opacity="0.85"/>
<ellipse cx="500.0" cy="280.5" rx="0.8" ry="1.7" fill="#292929" opacity="0.85"/>
<ellipse cx="205.8" cy="313.4" rx="1.0" ry="1.5" fill="#292929" opacity="0.85"/>
<ellipse cx="177.8" cy="342.0" rx="1.1" ry="1.3" fill="#292929" opacity="0.85"/>
<ellipse cx="251.4" cy="298.5" rx="0.9" ry="1.6" fill="#292929" opacity="0.85"/>
<ellipse cx="286.0" cy="330.7" rx="1.1" ry="1.4" fill="#292929" opacity="0.85"/>
<ellipse cx="472.4" cy="318.2" rx="1.0" ry="1.5" fill="#292929" opacity="0.85"/>
<ellipse cx="186.0" cy="291.5" rx="0.8" ry="1.7" fill="#292929" opacity="0.85"/>
<ellipse cx="392.0" cy="279.9" rx="0.8" ry="1.8" fill="#292929" opacity="0.85"/>
<ellipse cx="459.8" cy="334.4" rx="1.1" ry="1.4" fill="#292929" opacity="0.85"/>
<ellipse cx="207.2" cy="292.2" rx="0.8" ry="1.7" fill="#292929" opacity="0.85"/>
<ellipse cx="208.1" cy="321.6" rx="1.0" ry="1.5" fill="#292929" opacity="0.85"/>
<ellipse cx="138.1" cy="319.7" rx="1.0" ry="1.5" fill="#292929" opacity="0.85"/>
<ellipse cx="144.1" cy="331.8" rx="1.1" ry="1.4" fill="#292929" opacity="0.85"/>
<ellipse cx="329.1" cy="310.4" rx="0.9" ry="1.5" fill="#292929" opacity="0.85"/>
<ellipse cx="156.7" cy="265.7" rx="0.7" ry="1.9" fill="#292929" opacity="0.85"/>
<ellipse cx="255.9" cy="343.7" rx="1.1" ry="1.3" fill="#292929" opacity="0.85"/>
<ellipse cx="351.0" cy="333.6" rx="1.1" ry="1.4" fill="#292929" opacity="0.85"/>
<ellipse cx="144.1" cy="270.5" rx="0.7" ry="1.8" fill="#292929" opacity="0.85"/>
<ellipse cx="128.0" cy="319.8" rx="1.0" ry="1.5" fill="#292929" opacity="0.85"/>
<ellipse cx="187.9" cy="284.6" rx="0.8" ry="1.7" fill="#292929" opacity="0.85"/>
<ellipse cx="376.8" cy="319.7" rx="1.0" ry="1.5" fill="#292929" opacity="0.85"/>
<ellipse cx="244.1" cy="300.8" rx="0.9" ry="1.6" fill="#292929" opacity="0.85"/>
<ellipse cx="231.3" cy="308.6" rx="0.9" ry="1.6" fill="#292929" opacity="0.85"/>
<ellipse cx="257.0" cy="291.9" rx="0.8" ry="1.7" fill="#292929" opacity="0.85"/>
<ellipse cx="215.8" cy="286.2" rx="0.8" ry="1.7" fill="#292929" opacity="0.85"/>
<ellipse cx="220.5" cy="263.3" rx="0.7" ry="1.9" fill="#292929" opacity="0.85"/>
<ellipse cx="239.5" cy="311.1" rx="1.0" ry="1.5" fill="#292929" opacity="0.85"/>
<ellipse cx="223.4" cy="271.4" rx="0.7" ry="1.8" fill="#292929" opacity="0.85"/>
<ellipse cx="445.7" cy="300.9" rx="0.9" ry="1.6" fill="#292929" opacity="0.85"/>
<ellipse cx="317.0" cy="287.9" rx="0.8" ry="1.7" fill="#292929" opacity="0.85"/>
<ellipse cx="461.5" cy="324.6" rx="1.0" ry="1.4" fill="#292929" opacity="0.85"/>
<ellipse cx="359.7" cy="316.7" rx="1.0" ry="1.5" fill="#292929" opacity="0.85"/>
<ellipse cx="386.6" cy="303.5" rx="0.9" ry="1.6" fill="#292929" opacity="0.85"/>
<ellipse cx="279.1" cy="294.4" rx="0.9" ry="1.7" fill="#292929" opacity="0.85"/>
<ellipse cx="314.1" cy="300.9" rx="0.9" ry="1.6" fill="#292929" opacity="0.85"/>
<ellipse cx="323.6" cy="306.2" rx="0.9" ry="1.6" fill="#292929" opacity="0.85"/>
<ellipse cx="423.6" cy="336.1" rx="1.1" ry="1.4" fill="#292929" opacity="0.85"/>
<ellipse cx="206.2" cy="263.8" rx="0.7" ry="1.9" fill="#292929" opacity="0.85"/>
<ellipse cx="235.9" cy="264.6" rx="0.7" ry="1.9" fill="#292929" opacity="0.85"/>
<ellipse cx="426.6" cy="313.5" rx="1.0" ry="1.5" fill="#292929" opacity="0.85"/>
<ellipse cx="229.9" cy="277.9" rx="0.8" ry="1.8" fill="#292929" opacity="0.85"/>
<ellipse cx="454.4" cy="331.4" rx="1.1" ry="1.4" fill="#292929" opacity="0.85"/>
<ellipse cx="383.2" cy="319.4" rx="1.0" ry="1.5" fill="#292929" opacity="0.85"/>
<ellipse cx="406.6" cy="299.7" rx="0.9" ry="1.6" fill="#292929" opacity="0.85"/>
<ellipse cx="273.0" cy="307.9" rx="0.9" ry="1.6" fill="#292929" opacity="0.85"/>
<ellipse cx="459.0" cy="344.3" rx="1.1" ry="1.3" fill="#292929" opacity="0.85"/>
<ellipse cx="473.0" cy="331.3" rx="1.1" ry="1.4" fill="#292929" opacity="0.85"/>
<ellipse cx="148.6" cy="282.5" rx="0.8" ry="1.7" fill="#292929" opacity="0.85"/>
<ellipse cx="493.8" cy="307.1" rx="0.9" ry="1.6" fill="#292929" opacity="0.85"/>
<ellipse cx="318.2" cy="287.7" rx="0.8" ry="1.7" fill="#292929" opacity="0.85"/>
<ellipse cx="451.9" cy="304.9" rx="0.9" ry="1.6" fill="#292929" opacity="0.85"/>
<ellipse cx="501.3" cy="268.3" rx="0.7" ry="1.8" fill="#292929" opacity="0.85"/>
<ellipse cx="502.4" cy="263.1" rx="0.7" ry="1.9" fill="#292929" opacity="0.85"/>
<ellipse cx="177.1" cy="294.3" rx="0.9" ry="1.7" fill="#292929" opacity="0.85"/>
<ellipse cx="366.2" cy="271.2" rx="0.7" ry="1.8" fill="#292929" opacity="0.85"/>
<ellipse cx="336.5" cy="340.0" rx="1.1" ry="1.3" fill="#292929" opacity="0.85"/>
<ellipse cx="287.7" cy="325.3" rx="1.0" ry="1.4" fill="#292929" opacity="0.85"/>
<ellipse cx="347.9" cy="310.3" rx="0.9" ry="1.5" fill="#292929" opacity="0.85"/>
<ellipse cx="186.7" cy="300.5" rx="0.9" ry="1.6" fill="#292929" opacity="0.85"/>
<ellipse cx="466.6" cy="318.0" rx="1.0" ry="1.5" fill="#292929" opacity="0.85"/>
<ellipse cx="203.5" cy="299.1" rx="0.9" ry="1.6" fill="#292929" opacity="0.85"/>
<ellipse cx="329.3" cy="290.0" rx="0.8" ry="1.7" fill="#292929" opacity="0.85"/>
<ellipse cx="342.4" cy="314.4" rx="1.0" ry="1.5" fill="#292929" opacity="0.85"/>
<ellipse cx="126.9" cy="280.3" rx="0.8" ry="1.8" fill="#292929" opacity="0.85"/>
<ellipse cx="372.8" cy="279.8" rx="0.8" ry="1.8" fill="#292929" opacity="0.85"/>
<ellipse cx="148.0" cy="325.2" rx="1.0" ry="1.4" fill="#292929" opacity="0.85"/>
<ellipse cx="248.5" cy="341.5" rx="1.1" ry="1.3" fill="#292929" opacity="0.85"/>
<ellipse cx="335.1" cy="270.4" rx="0.7" ry="1.8" fill="#292929" opacity="0.85"/>
<ellipse cx="365.2" cy="283.8" rx="0.8" ry="1.7" fill="#292929" opacity="0.85"/>
<ellipse cx="433.6" cy="322.1" rx="1.0" ry="1.5" fill="#292929" opacity="0.85"/>
<ellipse cx="412.0" cy="266.7" rx="0.7" ry="1.8" fill="#292929" opacity="0.85"/>
<ellipse cx="133.2" cy="328.2" rx="1.1" ry="1.4" fill="#292929" opacity="0.85"/>
<ellipse cx="174.1" cy="278.7" rx="0.8" ry="1.8" fill="#292929" opacity="0.85"/>
<ellipse cx="131.5" cy="275.6" rx="0.7" ry="1.8" fill="#292929" opacity="0.85"/>
<ellipse cx="302.3" cy="341.5" rx="1.1" ry="1.3" fill="#292929" opacity="0.85"/>
<ellipse cx="243.7" cy="283.5" rx="0.8" ry="1.7" fill="#292929" opacity="0.85"/>
<ellipse cx="438.8" cy="277.3" rx="0.8" ry="1.8" fill="#292929" opacity="0.85"/>
<ellipse cx="364.5" cy="313.1" rx="1.0" ry="1.5" fill="#292929" opacity="0.85"/>
<ellipse cx="480.1" cy="265.6" rx="0.7" ry="1.9" fill="#292929" opacity="0.85"/>
<ellipse cx="336.8" cy="293.8" rx="0.9" ry="1.7" fill="#292929" opacity="0.85"/>
<ellipse cx="437.1" cy="282.9" rx="0.8" ry="1.7" fill="#292929" opacity="0.85"/>
<ellipse cx="395.3" cy="277.4" rx="0.8" ry="1.8" fill="#292929" opacity="0.85"/>
<ellipse cx="310.6" cy="342.4" rx="1.1" ry="1.3" fill="#292929" opacity="0.85"/>
<ellipse cx="212.4" cy="285.1" rx="0.8" ry="1.7" fill="#292929" opacity="0.85"/>
<ellipse cx="473.2" cy="318.0" rx="1.0" ry="1.5" fill="#292929" opacity="0.85"/>
<ellipse cx="145.4" cy="277.5" rx="0.8" ry="1.8" fill="#292929" opacity="0.85"/>
<ellipse cx="211.3" cy="286.1" rx="0.8" ry="1.7" fill="#292929" opacity="0.85"/>
<ellipse cx="445.2" cy="320.1" rx="1.0" ry="1.5" fill="#292929" opacity="0.85"/>
<ellipse cx="497.2" cy="317.6" rx="1.0" ry="1.5" fill="#292929" opacity="0.85"/>
<ellipse cx="361.7" cy="293.8" rx="0.9" ry="1.7" fill="#292929" opacity="0.85"/>
<ellipse cx="396.2" cy="303.0" rx="0.9" ry="1.6" fill="#292929" opacity="0.85"/>
<ellipse cx="142.7" cy="302.8" rx="0.9" ry="1.6" fill="#292929" opacity="0.85"/>
<ellipse cx="267.9" cy="306.1" rx="0.9" ry="1.6" fill="#292929" opacity="0.85"/>
<ellipse cx="138.8" cy="264.3" rx="0.7" ry="1.9" fill="#292929" opacity="0.85"/>
<ellipse cx="498.4" cy="292.8" rx="0.8" ry="1.7" fill="#292929" opacity="0.85"/>
<ellipse cx="247.1" cy="274.3" rx="0.7" ry="1.8" fill="#292929" opacity="0.85"/>
<ellipse cx="348.1" cy="337.9" rx="1.1" ry="1.3" fill="#292929" opacity="0.85"/>
<ellipse cx="189.4" cy="303.5" rx="0.9" ry="1.6" fill="#292929" opacity="0.85"/>
<ellipse cx="312.4" cy="325.6" rx="1.0" ry="1.4" fill="#292929" opacity="0.85"/>
<ellipse cx="337.6" cy="281.8" rx="0.8" ry="1.7" fill="#292929" opacity="0.85"/>
<ellipse cx="193.0" cy="322.1" rx="1.0" ry="1.5" fill="#292929" opacity="0.85"/>
<ellipse cx="150.1" cy="333.8" rx="1.1" ry="1.4" fill="#292929" opacity="0.85"/>
<ellipse cx="132.9" cy="277.7" rx="0.8" ry="1.8" fill="#292929" opacity="0.85"/>
<ellipse cx="300.1" cy="332.1" rx="1.1" ry="1.4" fill="#292929" opacity="0.85"/>
<ellipse cx="358.6" cy="323.9" rx="1.0" ry="1.4" fill="#292929" opacity="0.85"/>
<ellipse cx="413.0" cy="322.0" rx="1.0" ry="1.5" fill="#292929" opacity="0.85"/>
<ellipse cx="139.9" cy="330.5" rx="1.1" ry="1.4" fill="#292929" opacity="0.85"/>
<ellipse cx="176.9" cy="275.5" rx="0.7" ry="1.8" fill="#292929" opacity="0.85"/>
<ellipse cx="134.5" cy="264.4" rx="0.7" ry="1.9" fill="#292929" opacity="0.85"/>
<ellipse cx="457.6" cy="293.6" rx="0.9" ry="1.7" fill="#292929" opacity="0.85"/>
<ellipse cx="153.3" cy="265.9" rx="0.7" ry="1.9" fill="#292929" opacity="0.85"/>
<ellipse cx="445.9" cy="311.9" rx="1.0" ry="1.5" fill="#292929" opacity="0.85"/>
<ellipse cx="472.8" cy="265.1" rx="0.7" ry="1.9" fill="#292929" opacity="0.85"/>
<ellipse cx="163.3" cy="285.8" rx="0.8" ry="1.7" fill="#292929" opacity="0.85"/>
<ellipse cx="193.5" cy="271.3" rx="0.7" ry="1.8" fill="#292929" opacity="0.85"/>
<ellipse cx="197.2" cy="315.2" rx="1.0" ry="1.5" fill="#292929" opacity="0.85"/>
<ellipse cx="184.7" cy="276.0" rx="0.7" ry="1.8" fill="#292929" opacity="0.85"/>
<ellipse cx="326.2" cy="293.2" rx="0.8" ry="1.7" fill="#292929" opacity="0.85"/>
<ellipse cx="177.6" cy="309.2" rx="0.9" ry="1.6" fill="#292929" opacity="0.85"/>
<ellipse cx="315.6" cy="294.2" rx="0.9" ry="1.7" fill="#292929" opacity="0.85"/>
<ellipse cx="302.6" cy="265.3" rx="0.7" ry="1.9" fill="#292929" opacity="0.85"/>
<ellipse cx="356.8" cy="278.1" rx="0.8" ry="1.8" fill="#292929" opacity="0.85"/>
<ellipse cx="249.3" cy="262.8" rx="0.7" ry="1.9" fill="#292929" opacity="0.85"/>
<ellipse cx="461.8" cy="310.8" rx="1.0" ry="1.5" fill="#292929" opacity="0.85"/>
<ellipse cx="271.0" cy="307.0" rx="0.9" ry="1.6" fill="#292929" opacity="0.85"/>
<ellipse cx="481.9" cy="273.0" rx="0.7" ry="1.8" fill="#292929" opacity="0.85"/>
<ellipse cx="267.6" cy="320.8" rx="1.0" ry="1.5" fill="#292929" opacity="0.85"/>
<ellipse cx="263.3" cy="320.7" rx="1.0" ry="1.5" fill="#292929" opacity="0.85"/>
<ellipse cx="469.7" cy="265.4" rx="0.7" ry="1.9" fill="#292929" opacity="0.85"/>
<ellipse cx="229.5" cy="286.3" rx="0.8" ry="1.7" fill="#292929" opacity="0.85"/>
<ellipse cx="408.8" cy="327.1" rx="1.0" ry="1.4" fill="#292929" opacity="0.85"/>
<ellipse cx="389.3" cy="338.8" rx="1.1" ry="1.3" fill="#292929" opacity="0.85"/>
</g>
<g filter="url(#b1)">
<ellipse cx="209.4" cy="369.5" rx="1.8" ry="1.7" fill="#1f1f1f" opacity="0.9"/>
<ellipse cx="427.1" cy="367.0" rx="1.6" ry="1.4" fill="#1f1f1f" opacity="0.9"/>
<ellipse cx="196.0" cy="370.3" rx="1.5" ry="1.4" fill="#1f1f1f" opacity="0.9"/>
<ellipse cx="192.1" cy="400.5" rx="1.0" ry="0.9" fill="#1f1f1f" opacity="0.9"/>
<ellipse cx="211.3" cy="373.8" rx="1.8" ry="1.7" fill="#1f1f1f" opacity="0.9"/>
<ellipse cx="213.6" cy="382.5" rx="1.3" ry="1.1" fill="#1f1f1f" opacity="0.9"/>
<ellipse cx="304.1" cy="395.8" rx="1.8" ry="1.7" fill="#1f1f1f" opacity="0.9"/>
<ellipse cx="449.3" cy="371.7" rx="1.2" ry="1.1" fill="#1f1f1f" opacity="0.9"/>
<ellipse cx="369.4" cy="350.2" rx="1.8" ry="1.6" fill="#1f1f1f" opacity="0.9"/>
<ellipse cx="459.4" cy="354.2" rx="1.6" ry="1.4" fill="#1f1f1f" opacity="0.9"/>
<ellipse cx="201.9" cy="340.8" rx="1.4" ry="1.2" fill="#1f1f1f" opacity="0.9"/>
<ellipse cx="208.6" cy="396.5" rx="1.5" ry="1.4" fill="#1f1f1f" opacity="0.9"/>
<ellipse cx="168.6" cy="345.9" rx="0.9" ry="0.8" fill="#1f1f1f" opacity="0.9"/>
<ellipse cx="368.8" cy="381.8" rx="1.8" ry="1.7" fill="#1f1f1f" opacity="0.9"/>
<ellipse cx="201.7" cy="343.1" rx="1.5" ry="1.3" fill="#1f1f1f" opacity="0.9"/>
<ellipse cx="191.0" cy="386.3" rx="1.8" ry="1.6" fill="#1f1f1f" opacity="0.9"/>
<ellipse cx="153.4" cy="376.1" rx="1.2" ry="1.1" fill="#1f1f1f" opacity="0.9"/>
<ellipse cx="313.3" cy="342.7" rx="1.0" ry="0.9" fill="#1f1f1f" opacity="0.9"/>
<ellipse cx="311.8" cy="402.3" rx="1.3" ry="1.2" fill="#1f1f1f" opacity="0.9"/>
<ellipse cx="164.8" cy="370.0" rx="1.0" ry="0.9" fill="#1f1f1f" opacity="0.9"/>
<ellipse cx="366.9" cy="350.1" rx="1.1" ry="1.0" fill="#1f1f1f" opacity="0.9"/>
<ellipse cx="285.5" cy="386.2" rx="1.7" ry="1.6" fill="#1f1f1f" opacity="0.9"/>
<ellipse cx="292.2" cy="361.6" rx="1.3" ry="1.2" fill="#1f1f1f" opacity="0.9"/>
<ellipse cx="304.5" cy="348.6" rx="1.0" ry="0.9" fill="#1f1f1f" opacity="0.9"/>
<ellipse cx="170.6" cy="392.0" rx="1.1" ry="1.0" fill="#1f1f1f" opacity="0.9"/>
<ellipse cx="292.7" cy="386.4" rx="1.0" ry="0.9" fill="#1f1f1f" opacity="0.9"/>
<ellipse cx="449.4" cy="364.8" rx="1.1" ry="1.0" fill="#1f1f1f" opacity="0.9"/>
<ellipse cx="161.9" cy="390.2" rx="1.4" ry="1.3" fill="#1f1f1f" opacity="0.9"/>
<ellipse cx="216.7" cy="389.5" rx="1.0" ry="0.9" fill="#1f1f1f" opacity="0.9"/>
<ellipse cx="311.3" cy="349.2" rx="1.5" ry="1.4" fill="#1f1f1f" opacity="0.9"/>
<ellipse cx="298.3" cy="347.5" rx="1.0" ry="0.9" fill="#1f1f1f" opacity="0.9"/>
<ellipse cx="204.3" cy="404.1" rx="1.4" ry="1.3" fill="#1f1f1f" opacity="0.9"/>
<ellipse cx="356.2" cy="367.2" rx="1.3" ry="1.2" fill="#1f1f1f" opacity="0.9"/>
<ellipse cx="460.3" cy="370.5" rx="1.6" ry="1.5" fill="#1f1f1f" opacity="0.9"/>
<ellipse cx="182.2" cy="401.9" rx="1.9" ry="1.7" fill="#1f1f1f" opacity="0.9"/>
<ellipse cx="187.5" cy="349.4" rx="1.6" ry="1.4" fill="#1f1f1f" opacity="0.9"/>
<ellipse cx="214.5" cy="361.3" rx="1.4" ry="1.2" fill="#1f1f1f" opacity="0.9"/>
<ellipse cx="159.7" cy="389.1" rx="1.8" ry="1.6" fill="#1f1f1f" opacity="0.9"/>
<ellipse cx="188.4" cy="344.2" rx="1.8" ry="1.6" fill="#1f1f1f" opacity="0.9"/>
<ellipse cx="295.1" cy="385.9" rx="1.3" ry="1.1" fill="#1f1f1f" opacity="0.9"/>
<ellipse cx="161.1" cy="371.7" rx="1.3" ry="1.2" fill="#1f1f1f" opacity="0.9"/>
<ellipse cx="461.1" cy="366.8" rx="1.9" ry="1.7" fill="#1f1f1f" opacity="0.9"/>
<ellipse cx="427.8" cy="383.9" rx="1.0" ry="0.9" fill="#1f1f1f" opacity="0.9"/>
<ellipse cx="408.5" cy="345.2" rx="1.5" ry="1.4" fill="#1f1f1f" opacity="0.9"/>
<ellipse cx="181.1" cy="345.4" rx="1.4" ry="1.2" fill="#1f1f1f" opacity="0.9"/>
<ellipse cx="356.6" cy="375.8" rx="1.8" ry="1.6" fill="#1f1f1f" opacity="0.9"/>
<ellipse cx="364.2" cy="350.6" rx="1.5" ry="1.3" fill="#1f1f1f" opacity="0.9"/>
<ellipse cx="282.3" cy="379.2" rx="1.7" ry="1.5" fill="#1f1f1f" opacity="0.9"/>
<ellipse cx="370.5" cy="383.6" rx="1.8" ry="1.6" fill="#1f1f1f" opacity="0.9"/>
<ellipse cx="414.1" cy="345.4" rx="1.1" ry="1.0" fill="#1f1f1f" opacity="0.9"/>
<ellipse cx="165.1" cy="350.8" rx="2.0" ry="1.8" fill="#1f1f1f" opacity="0.9"/>
<ellipse cx="298.9" cy="383.2" rx="1.2" ry="1.1" fill="#1f1f1f" opacity="0.9"/>
<ellipse cx="399.2" cy="364.5" rx="1.8" ry="1.6" fill="#1f1f1f" opacity="0.9"/>
<ellipse cx="325.3" cy="345.4" rx="1.9" ry="1.7" fill="#1f1f1f" opacity="0.9"/>
<ellipse cx="172.2" cy="359.4" rx="1.7" ry="1.6" fill="#1f1f1f" opacity="0.9"/>
<ellipse cx="282.2" cy="379.6" rx="1.1" ry="1.0" fill="#1f1f1f" opacity="0.9"/>
<ellipse cx="298.0" cy="358.6" rx="1.6" ry="1.5" fill="#1f1f1f" opacity="0.9"/>
<ellipse cx="184.2" cy="349.0" rx="1.1" ry="1.0" fill="#1f1f1f" opacity="0.9"/>
<ellipse cx="320.5" cy="384.5" rx="0.9" ry="0.8" fill="#1f1f1f" opacity="0.9"/>
<ellipse cx="207.0" cy="398.5" rx="1.8" ry="1.6" fill="#1f1f1f" opacity="0.9"/>
<ellipse cx="449.9" cy="354.7" rx="1.0" ry="0.9" fill="#1f1f1f" opacity="0.9"/>
<ellipse cx="202.6" cy="356.5" rx="1.9" ry="1.7" fill="#1f1f1f" opacity="0.9"/>
<ellipse cx="190.8" cy="366.2" rx="1.2" ry="1.0" fill="#1f1f1f" opacity="0.9"/>
<ellipse cx="398.4" cy="373.0" rx="1.4" ry="1.3" fill="#1f1f1f" opacity="0.9"/>
<ellipse cx="299.7" cy="367.6" rx="1.4" ry="1.3" fill="#1f1f1f" opacity="0.9"/>
<ellipse cx="196.4" cy="341.6" rx="1.3" ry="1.2" fill="#1f1f1f" opacity="0.9"/>
<ellipse cx="175.4" cy="372.1" rx="1.9" ry="1.7" fill="#1f1f1f" opacity="0.9"/>
<ellipse cx="418.0" cy="340.4" rx="1.2" ry="1.1" fill="#1f1f1f" opacity="0.9"/>
<ellipse cx="193.9" cy="385.2" rx="1.8" ry="1.6" fill="#1f1f1f" opacity="0.9"/>
<ellipse cx="183.7" cy="339.2" rx="1.7" ry="1.6" fill="#1f1f1f" opacity="0.9"/>
<ellipse cx="403.0" cy="344.7" rx="1.1" ry="1.0" fill="#1f1f1f" opacity="0.9"/>
<ellipse cx="294.6" cy="366.4" rx="1.4" ry="1.3" fill="#1f1f1f" opacity="0.9"/>
<ellipse cx="403.9" cy="358.9" rx="1.8" ry="1.6" fill="#1f1f1f" opacity="0.9"/>
<ellipse cx="214.2" cy="402.4" rx="1.0" ry="0.9" fill="#1f1f1f" opacity="0.9"/>
<ellipse cx="418.5" cy="392.5" rx="1.1" ry="1.0" fill="#1f1f1f" opacity="0.9"/>
<ellipse cx="313.2" cy="342.1" rx="1.2" ry="1.1" fill="#1f1f1f" opacity="0.9"/>
<ellipse cx="412.3" cy="343.7" rx="1.2" ry="1.1" fill="#1f1f1f" opacity="0.9"/>
<ellipse cx="166.3" cy="371.0" rx="1.5" ry="1.4" fill="#1f1f1f" opacity="0.9"/>
<ellipse cx="365.8" cy="364.9" rx="1.4" ry="1.3" fill="#1f1f1f" opacity="0.9"/>
<ellipse cx="166.6" cy="361.7" rx="1.2" ry="1.1" fill="#1f1f1f" opacity="0.9"/>
<ellipse cx="186.8" cy="340.4" rx="1.4" ry="1.3" fill="#1f1f1f" opacity="0.9"/>
<ellipse cx="318.2" cy="339.9" rx="1.0" ry="0.9" fill="#1f1f1f" opacity="0.9"/>
<ellipse cx="401.3" cy="382.5" rx="1.4" ry="1.3" fill="#1f1f1f" opacity="0.9"/>
<ellipse cx="311.0" cy="401.4" rx="1.8" ry="1.6" fill="#1f1f1f" opacity="0.9"/>
<ellipse cx="365.7" cy="374.9" rx="1.5" ry="1.3" fill="#1f1f1f" opacity="0.9"/>
</g>
<g filter="url(#b1_5)">
<ellipse cx="428.7" cy="416.6" rx="2.6" ry="2.3" fill="#a3a3a3" opacity="0.9"/>
</g>
<g filter="url(#b0_6)">
<ellipse cx="428.7" cy="416.6" rx="1.0" ry="0.9" fill="#6b6b6b"/>
</g>
<g filter="url(#b1_5)">
<ellipse cx="431.0" cy="426.3" rx="2.6" ry="2.3" fill="#a3a3a3" opacity="0.9"/>
<ellipse cx="427.3" cy="432.7" rx="2.6" ry="2.3" fill="#a3a3a3" opacity="0.9"/>
<ellipse cx="439.7" cy="393.3" rx="2.6" ry="2.3" fill="#a3a3a3" opacity="0.9"/>
<ellipse cx="438.6" cy="441.6" rx="2.6" ry="2.3" fill="#a3a3a3" opacity="0.9"/>
<ellipse cx="434.9" cy="449.6" rx="2.6" ry="2.3" fill="#a3a3a3" opacity="0.9"/>
<ellipse cx="446.1" cy="391.2" rx="2.6" ry="2.3" fill="#a3a3a3" opacity="0.9"/>
<ellipse cx="444.5" cy="401.4" rx="2.6" ry="2.3" fill="#a3a3a3" opacity="0.9"/>
<ellipse cx="447.2" cy="407.5" rx="2.6" ry="2.3" fill="#a3a3a3" opacity="0.9"/>
<ellipse cx="447.7" cy="425.6" rx="2.6" ry="2.3" fill="#a3a3a3" opacity="0.9"/>
<ellipse cx="443.0" cy="434.5" rx="2.6" ry="2.3" fill="#a3a3a3" opacity="0.9"/>
<ellipse cx="444.4" cy="451.5" rx="2.6" ry="2.3" fill="#a3a3a3" opacity="0.9"/>
<ellipse cx="451.9" cy="400.7" rx="2.6" ry="2.3" fill="#a3a3a3" opacity="0.9"/>
<ellipse cx="451.3" cy="415.9" rx="2.6" ry="2.3" fill="#a3a3a3" opacity="0.9"/>
<ellipse cx="455.1" cy="425.9" rx="2.6" ry="2.3" fill="#a3a3a3" opacity="0.9"/>
<ellipse cx="453.1" cy="442.7" rx="2.6" ry="2.3" fill="#a3a3a3" opacity="0.9"/>
<ellipse cx="464.9" cy="384.3" rx="2.6" ry="2.3" fill="#a3a3a3" opacity="0.9"/>
<ellipse cx="470.3" cy="443.6" rx="2.6" ry="2.3" fill="#a3a3a3" opacity="0.9"/>
<ellipse cx="467.3" cy="450.1" rx="2.6" ry="2.3" fill="#a3a3a3" opacity="0.9"/>
</g>
<g filter="url(#b0_6)">
<ellipse cx="467.3" cy="450.1" rx="1.0" ry="0.9" fill="#6b6b6b"/>
</g>
<g filter="url(#b1_5)">
<ellipse cx="478.3" cy="373.9" rx="2.6" ry="2.3" fill="#a3a3a3" opacity="0.9"/>
<ellipse cx="474.8" cy="433.5" rx="2.6" ry="2.3" fill="#a3a3a3" opacity="0.9"/>
<ellipse cx="476.5" cy="440.9" rx="2.6" ry="2.3" fill="#a3a3a3" opacity="0.9"/>
<ellipse cx="481.0" cy="383.2" rx="2.6" ry="2.3" fill="#a3a3a3" opacity="0.9"/>
<ellipse cx="479.8" cy="400.7" rx="2.6" ry="2.3" fill="#a3a3a3" opacity="0.9"/>
</g>
<g filter="url(#b0_6)">
<ellipse cx="479.8" cy="400.7" rx="1.0" ry="0.9" fill="#6b6b6b"/>
</g>
<g filter="url(#b1_5)">
<ellipse cx="485.6" cy="408.0" rx="2.6" ry="2.3" fill="#a3a3a3" opacity="0.9"/>
<ellipse cx="486.4" cy="426.8" rx="2.6" ry="2.3" fill="#a3a3a3" opacity="0.9"/>
<ellipse cx="479.9" cy="433.6" rx="2.6" ry="2.3" fill="#a3a3a3" opacity="0.9"/>
</g>
<g filter="url(#b0_6)">
<ellipse cx="479.9" cy="433.6" rx="1.0" ry="0.9" fill="#6b6b6b"/>
</g>
<g filter="url(#b1_5)">
<ellipse cx="484.4" cy="441.0" rx="2.6" ry="2.3" fill="#a3a3a3" opacity="0.9"/>
<ellipse cx="492.7" cy="392.6" rx="2.6" ry="2.3" fill="#a3a3a3" opacity="0.9"/>
<ellipse cx="491.5" cy="426.9" rx="2.6" ry="2.3" fill="#a3a3a3" opacity="0.9"/>
<ellipse cx="496.7" cy="367.2" rx="2.6" ry="2.3" fill="#a3a3a3" opacity="0.9"/>
<ellipse cx="496.4" cy="382.2" rx="2.6" ry="2.3" fill="#a3a3a3" opacity="0.9"/>
<ellipse cx="501.1" cy="392.0" rx="2.6" ry="2.3" fill="#a3a3a3" opacity="0.9"/>
<ellipse cx="499.7" cy="407.5" rx="2.6" ry="2.3" fill="#a3a3a3" opacity="0.9"/>
<ellipse cx="501.3" cy="427.0" rx="2.6" ry="2.3" fill="#a3a3a3" opacity="0.9"/>
<ellipse cx="498.9" cy="442.9" rx="2.6" ry="2.3" fill="#a3a3a3" opacity="0.9"/>
<ellipse cx="503.8" cy="365.5" rx="2.6" ry="2.3" fill="#a3a3a3" opacity="0.9"/>
<ellipse cx="507.6" cy="390.9" rx="2.6" ry="2.3" fill="#a3a3a3" opacity="0.9"/>
<ellipse cx="506.9" cy="425.4" rx="2.6" ry="2.3" fill="#a3a3a3" opacity="0.9"/>
<ellipse cx="508.0" cy="442.1" rx="2.6" ry="2.3" fill="#a3a3a3" opacity="0.9"/>
</g>
<g filter="url(#b0_6)">
<ellipse cx="508.0" cy="442.1" rx="1.0" ry="0.9" fill="#6b6b6b"/>
</g>
<g filter="url(#b1_5)">
<ellipse cx="514.6" cy="358.7" rx="2.6" ry="2.3" fill="#a3a3a3" opacity="0.9"/>
<ellipse cx="516.2" cy="374.5" rx="2.6" ry="2.3" fill="#a3a3a3" opacity="0.9"/>
<ellipse cx="512.8" cy="383.1" rx="2.6" ry="2.3" fill="#a3a3a3" opacity="0.9"/>
<ellipse cx="514.6" cy="407.6" rx="2.6" ry="2.3" fill="#a3a3a3" opacity="0.9"/>
</g>
<g filter="url(#b0_6)">
<ellipse cx="514.6" cy="407.6" rx="1.0" ry="0.9" fill="#6b6b6b"/>
</g>
<g filter="url(#b1_5)">
<ellipse cx="516.7" cy="426.6" rx="2.6" ry="2.3" fill="#a3a3a3" opacity="0.9"/>
<ellipse cx="511.9" cy="435.3" rx="2.6" ry="2.3" fill="#a3a3a3" opacity="0.9"/>
<ellipse cx="510.8" cy="451.2" rx="2.6" ry="2.3" fill="#a3a3a3" opacity="0.9"/>
<ellipse cx="518.8" cy="349.8" rx="2.6" ry="2.3" fill="#a3a3a3" opacity="0.9"/>
<ellipse cx="522.4" cy="442.3" rx="2.6" ry="2.3" fill="#a3a3a3" opacity="0.9"/>
</g>
<g filter="url(#b0_6)">
<ellipse cx="522.4" cy="442.3" rx="1.0" ry="0.9" fill="#6b6b6b"/>
</g>
<g filter="url(#b1_5)">
<ellipse cx="519.9" cy="451.1" rx="2.6" ry="2.3" fill="#a3a3a3" opacity="0.9"/>
<ellipse cx="531.3" cy="392.3" rx="2.6" ry="2.3" fill="#a3a3a3" opacity="0.9"/>
<ellipse cx="527.5" cy="400.7" rx="2.6" ry="2.3" fill="#a3a3a3" opacity="0.9"/>
<ellipse cx="531.8" cy="441.4" rx="2.6" ry="2.3" fill="#a3a3a3" opacity="0.9"/>
</g>
<g filter="url(#b0_6)">
<ellipse cx="531.8" cy="441.4" rx="1.0" ry="0.9" fill="#6b6b6b"/>
</g>
<g filter="url(#b1_5)">
<ellipse cx="532.9" cy="351.4" rx="2.6" ry="2.3" fill="#a3a3a3" opacity="0.9"/>
<ellipse cx="534.0" cy="366.6" rx="2.6" ry="2.3" fill="#a3a3a3" opacity="0.9"/>
</g>
<g filter="url(#b0_6)">
<ellipse cx="534.0" cy="366.6" rx="1.0" ry="0.9" fill="#6b6b6b"/>
</g>
<g filter="url(#b1_5)">
<ellipse cx="534.8" cy="433.9" rx="2.6" ry="2.3" fill="#a3a3a3" opacity="0.9"/>
<ellipse cx="533.9" cy="450.1" rx="2.6" ry="2.3" fill="#a3a3a3" opacity="0.9"/>
<ellipse cx="543.1" cy="349.3" rx="2.6" ry="2.3" fill="#a3a3a3" opacity="0.9"/>
<ellipse cx="542.1" cy="367.0" rx="2.6" ry="2.3" fill="#a3a3a3" opacity="0.9"/>
<ellipse cx="542.0" cy="418.6" rx="2.6" ry="2.3" fill="#a3a3a3" opacity="0.9"/>
<ellipse cx="546.1" cy="426.8" rx="2.6" ry="2.3" fill="#a3a3a3" opacity="0.9"/>
</g>
<g filter="url(#b0_6)">
<ellipse cx="546.1" cy="426.8" rx="1.0" ry="0.9" fill="#6b6b6b"/>
</g>
<g filter="url(#b1_5)">
<ellipse cx="554.0" cy="357.6" rx="2.6" ry="2.3" fill="#a3a3a3" opacity="0.9"/>
<ellipse cx="548.6" cy="382.4" rx="2.6" ry="2.3" fill="#a3a3a3" opacity="0.9"/>
</g>
<g filter="url(#b0_6)">
<ellipse cx="548.6" cy="382.4" rx="1.0" ry="0.9" fill="#6b6b6b"/>
</g>
<g filter="url(#b1_5)">
<ellipse cx="548.7" cy="399.7" rx="2.6" ry="2.3" fill="#a3a3a3" opacity="0.9"/>
<ellipse cx="552.3" cy="409.3" rx="2.6" ry="2.3" fill="#a3a3a3" opacity="0.9"/>
<ellipse cx="549.4" cy="417.3" rx="2.6" ry="2.3" fill="#a3a3a3" opacity="0.9"/>
<ellipse cx="554.3" cy="424.8" rx="2.6" ry="2.3" fill="#a3a3a3" opacity="0.9"/>
</g>
<g filter="url(#b0_6)">
<ellipse cx="554.3" cy="424.8" rx="1.0" ry="0.9" fill="#6b6b6b"/>
</g>
<g filter="url(#b1_5)">
<ellipse cx="553.6" cy="441.8" rx="2.6" ry="2.3" fill="#a3a3a3" opacity="0.9"/>
<ellipse cx="561.5" cy="359.7" rx="2.6" ry="2.3" fill="#a3a3a3" opacity="0.9"/>
<ellipse cx="557.2" cy="382.5" rx="2.6" ry="2.3" fill="#a3a3a3" opacity="0.9"/>
</g>
<g filter="url(#b0_6)">
<ellipse cx="557.2" cy="382.5" rx="1.0" ry="0.9" fill="#6b6b6b"/>
</g>
<g filter="url(#b1_5)">
<ellipse cx="562.3" cy="425.5" rx="2.6" ry="2.3" fill="#a3a3a3" opacity="0.9"/>
</g>
<g filter="url(#b0_6)">
<ellipse cx="562.3" cy="425.5" rx="1.0" ry="0.9" fill="#6b6b6b"/>
</g>
<g filter="url(#b1_5)">
<ellipse cx="559.9" cy="441.0" rx="2.6" ry="2.3" fill="#a3a3a3" opacity="0.9"/>
<ellipse cx="556.8" cy="449.3" rx="2.6" ry="2.3" fill="#a3a3a3" opacity="0.9"/>
<ellipse cx="563.5" cy="349.2" rx="2.6" ry="2.3" fill="#a3a3a3" opacity="0.9"/>
<ellipse cx="567.8" cy="358.4" rx="2.6" ry="2.3" fill="#a3a3a3" opacity="0.9"/>
<ellipse cx="569.0" cy="391.7" rx="2.6" ry="2.3" fill="#a3a3a3" opacity="0.9"/>
<ellipse cx="565.9" cy="401.9" rx="2.6" ry="2.3" fill="#a3a3a3" opacity="0.9"/>
<ellipse cx="573.2" cy="350.9" rx="2.6" ry="2.3" fill="#a3a3a3" opacity="0.9"/>
<ellipse cx="576.0" cy="358.2" rx="2.6" ry="2.3" fill="#a3a3a3" opacity="0.9"/>
<ellipse cx="571.7" cy="383.5" rx="2.6" ry="2.3" fill="#a3a3a3" opacity="0.9"/>
</g>
<g filter="url(#b0_6)">
<ellipse cx="571.7" cy="383.5" rx="1.0" ry="0.9" fill="#6b6b6b"/>
</g>
<g filter="url(#b1_5)">
<ellipse cx="577.4" cy="393.4" rx="2.6" ry="2.3" fill="#a3a3a3" opacity="0.9"/>
</g>
<g filter="url(#b0_6)">
<ellipse cx="577.4" cy="393.4" rx="1.0" ry="0.9" fill="#6b6b6b"/>
</g>
<g filter="url(#b1_5)">
<ellipse cx="575.6" cy="410.1" rx="2.6" ry="2.3" fill="#a3a3a3" opacity="0.9"/>
<ellipse cx="573.4" cy="433.4" rx="2.6" ry="2.3" fill="#a3a3a3" opacity="0.9"/>
</g>
<g filter="url(#b0_6)">
<ellipse cx="573.4" cy="433.4" rx="1.0" ry="0.9" fill="#6b6b6b"/>
</g>
<g filter="url(#b1_5)">
<ellipse cx="580.8" cy="384.0" rx="2.6" ry="2.3" fill="#a3a3a3" opacity="0.9"/>
<ellipse cx="585.0" cy="425.9" rx="2.6" ry="2.3" fill="#a3a3a3" opacity="0.9"/>
</g>
<g filter="url(#b0_6)">
<ellipse cx="585.0" cy="425.9" rx="1.0" ry="0.9" fill="#6b6b6b"/>
</g>
<g filter="url(#b1_5)">
<ellipse cx="581.2" cy="433.5" rx="2.6" ry="2.3" fill="#a3a3a3" opacity="0.9"/>
</g>
<g filter="url(#b0_6)">
<ellipse cx="581.2" cy="433.5" rx="1.0" ry="0.9" fill="#6b6b6b"/>
</g>
<g filter="url(#b1_5)">
<ellipse cx="588.2" cy="366.6" rx="2.6" ry="2.3" fill="#a3a3a3" opacity="0.9"/>
<ellipse cx="592.0" cy="376.2" rx="2.6" ry="2.3" fill="#a3a3a3" opacity="0.9"/>
<ellipse cx="591.0" cy="391.5" rx="2.6" ry="2.3" fill="#a3a3a3" opacity="0.9"/>
</g>
<g filter="url(#b0_6)">
<ellipse cx="591.0" cy="391.5" rx="1.0" ry="0.9" fill="#6b6b6b"/>
</g>
<g filter="url(#b1_5)">
<ellipse cx="591.4" cy="409.8" rx="2.6" ry="2.3" fill="#a3a3a3" opacity="0.9"/>
</g>
<g filter="url(#b0_6)">
<ellipse cx="591.4" cy="409.8" rx="1.0" ry="0.9" fill="#6b6b6b"/>
</g>
<g filter="url(#b1_5)">
<ellipse cx="586.9" cy="433.4" rx="2.6" ry="2.3" fill="#a3a3a3" opacity="0.9"/>
<ellipse cx="590.6" cy="442.5" rx="2.6" ry="2.3" fill="#a3a3a3" opacity="0.9"/>
<ellipse cx="586.3" cy="450.3" rx="2.6" ry="2.3" fill="#a3a3a3" opacity="0.9"/>
<ellipse cx="599.0" cy="391.4" rx="2.6" ry="2.3" fill="#a3a3a3" opacity="0.9"/>
<ellipse cx="600.0" cy="408.5" rx="2.6" ry="2.3" fill="#a3a3a3" opacity="0.9"/>
</g>
<g filter="url(#b0_6)">
<ellipse cx="600.0" cy="408.5" rx="1.0" ry="0.9" fill="#6b6b6b"/>
</g>
<g filter="url(#b1_5)">
<ellipse cx="597.7" cy="426.9" rx="2.6" ry="2.3" fill="#a3a3a3" opacity="0.9"/>
<ellipse cx="598.9" cy="441.4" rx="2.6" ry="2.3" fill="#a3a3a3" opacity="0.9"/>
<ellipse cx="602.7" cy="349.4" rx="2.6" ry="2.3" fill="#a3a3a3" opacity="0.9"/>
<ellipse cx="601.5" cy="365.4" rx="2.6" ry="2.3" fill="#a3a3a3" opacity="0.9"/>
<ellipse cx="606.9" cy="391.7" rx="2.6" ry="2.3" fill="#a3a3a3" opacity="0.9"/>
<ellipse cx="603.5" cy="434.8" rx="2.6" ry="2.3" fill="#a3a3a3" opacity="0.9"/>
<ellipse cx="613.2" cy="374.3" rx="2.6" ry="2.3" fill="#a3a3a3" opacity="0.9"/>
<ellipse cx="609.0" cy="383.9" rx="2.6" ry="2.3" fill="#a3a3a3" opacity="0.9"/>
<ellipse cx="609.0" cy="417.6" rx="2.6" ry="2.3" fill="#a3a3a3" opacity="0.9"/>
</g>
<g filter="url(#b0_6)">
<ellipse cx="609.0" cy="417.6" rx="1.0" ry="0.9" fill="#6b6b6b"/>
</g>
<g filter="url(#b1_5)">
<ellipse cx="609.1" cy="451.5" rx="2.6" ry="2.3" fill="#a3a3a3" opacity="0.9"/>
<ellipse cx="617.0" cy="350.9" rx="2.6" ry="2.3" fill="#a3a3a3" opacity="0.9"/>
<ellipse cx="620.5" cy="358.0" rx="2.6" ry="2.3" fill="#a3a3a3" opacity="0.9"/>
</g>
<g filter="url(#b0_6)">
<ellipse cx="620.5" cy="358.0" rx="1.0" ry="0.9" fill="#6b6b6b"/>
</g>
<g filter="url(#b1_5)">
<ellipse cx="616.6" cy="366.5" rx="2.6" ry="2.3" fill="#a3a3a3" opacity="0.9"/>
<ellipse cx="621.0" cy="373.9" rx="2.6" ry="2.3" fill="#a3a3a3" opacity="0.9"/>
<ellipse cx="618.6" cy="382.7" rx="2.6" ry="2.3" fill="#a3a3a3" opacity="0.9"/>
</g>
<g filter="url(#b0_6)">
<ellipse cx="618.6" cy="382.7" rx="1.0" ry="0.9" fill="#6b6b6b"/>
</g>
<g filter="url(#b1_5)">
<ellipse cx="620.8" cy="391.5" rx="2.6" ry="2.3" fill="#a3a3a3" opacity="0.9"/>
</g>
<g filter="url(#b0_6)">
<ellipse cx="620.8" cy="391.5" rx="1.0" ry="0.9" fill="#6b6b6b"/>
</g>
<g filter="url(#b1_5)">
<ellipse cx="617.0" cy="401.1" rx="2.6" ry="2.3" fill="#a3a3a3" opacity="0.9"/>
</g>
<g filter="url(#b0_6)">
<ellipse cx="617.0" cy="401.1" rx="1.0" ry="0.9" fill="#6b6b6b"/>
</g>
<g filter="url(#b1_5)">
<ellipse cx="620.5" cy="409.9" rx="2.6" ry="2.3" fill="#a3a3a3" opacity="0.9"/>
<ellipse cx="618.2" cy="416.0" rx="2.6" ry="2.3" fill="#a3a3a3" opacity="0.9"/>
<ellipse cx="619.3" cy="450.1" rx="2.6" ry="2.3" fill="#a3a3a3" opacity="0.9"/>
<ellipse cx="625.9" cy="350.4" rx="2.6" ry="2.3" fill="#a3a3a3" opacity="0.9"/>
<ellipse cx="628.7" cy="374.8" rx="2.6" ry="2.3" fill="#a3a3a3" opacity="0.9"/>
<ellipse cx="625.1" cy="382.3" rx="2.6" ry="2.3" fill="#a3a3a3" opacity="0.9"/>
<ellipse cx="633.5" cy="349.3" rx="2.6" ry="2.3" fill="#a3a3a3" opacity="0.9"/>
</g>
<g filter="url(#b0_6)">
<ellipse cx="633.5" cy="349.3" rx="1.0" ry="0.9" fill="#6b6b6b"/>
</g>
<g filter="url(#b1_5)">
<ellipse cx="637.3" cy="359.1" rx="2.6" ry="2.3" fill="#a3a3a3" opacity="0.9"/>
<ellipse cx="634.4" cy="368.3" rx="2.6" ry="2.3" fill="#a3a3a3" opacity="0.9"/>
<ellipse cx="632.2" cy="382.4" rx="2.6" ry="2.3" fill="#a3a3a3" opacity="0.9"/>
<ellipse cx="637.8" cy="425.5" rx="2.6" ry="2.3" fill="#a3a3a3" opacity="0.9"/>
</g>
<g filter="url(#b0_6)">
<ellipse cx="637.8" cy="425.5" rx="1.0" ry="0.9" fill="#6b6b6b"/>
</g>
<g filter="url(#b1_5)">
<ellipse cx="638.3" cy="441.9" rx="2.6" ry="2.3" fill="#a3a3a3" opacity="0.9"/>
</g>
<g filter="url(#b0_6)">
<ellipse cx="638.3" cy="441.9" rx="1.0" ry="0.9" fill="#6b6b6b"/>
</g>
<g filter="url(#b1_5)">
<ellipse cx="631.9" cy="449.6" rx="2.6" ry="2.3" fill="#a3a3a3" opacity="0.9"/>
<ellipse cx="644.4" cy="374.6" rx="2.6" ry="2.3" fill="#a3a3a3" opacity="0.9"/>
</g>
<g filter="url(#b0_6)">
<ellipse cx="644.4" cy="374.6" rx="1.0" ry="0.9" fill="#6b6b6b"/>
</g>
<g filter="url(#b1_5)">
<ellipse cx="644.4" cy="425.2" rx="2.6" ry="2.3" fill="#a3a3a3" opacity="0.9"/>
<ellipse cx="649.0" cy="348.7" rx="2.6" ry="2.3" fill="#a3a3a3" opacity="0.9"/>
<ellipse cx="651.2" cy="357.8" rx="2.6" ry="2.3" fill="#a3a3a3" opacity="0.9"/>
</g>
<g filter="url(#b0_6)">
<ellipse cx="651.2" cy="357.8" rx="1.0" ry="0.9" fill="#6b6b6b"/>
</g>
<g filter="url(#b1_5)">
<ellipse cx="650.9" cy="375.1" rx="2.6" ry="2.3" fill="#a3a3a3" opacity="0.9"/>
</g>
<g filter="url(#b0_6)">
<ellipse cx="650.9" cy="375.1" rx="1.0" ry="0.9" fill="#6b6b6b"/>
</g>
<g filter="url(#b1_5)">
<ellipse cx="647.4" cy="383.7" rx="2.6" ry="2.3" fill="#a3a3a3" opacity="0.9"/>
</g>
<g filter="url(#b0_6)">
<ellipse cx="647.4" cy="383.7" rx="1.0" ry="0.9" fill="#6b6b6b"/>
</g>
<g filter="url(#b1_5)">
<ellipse cx="647.0" cy="401.0" rx="2.6" ry="2.3" fill="#a3a3a3" opacity="0.9"/>
<ellipse cx="648.7" cy="417.5" rx="2.6" ry="2.3" fill="#a3a3a3" opacity="0.9"/>
<ellipse cx="655.2" cy="368.1" rx="2.6" ry="2.3" fill="#a3a3a3" opacity="0.9"/>
<ellipse cx="660.7" cy="374.8" rx="2.6" ry="2.3" fill="#a3a3a3" opacity="0.9"/>
<ellipse cx="660.7" cy="409.1" rx="2.6" ry="2.3" fill="#a3a3a3" opacity="0.9"/>
<ellipse cx="656.6" cy="417.9" rx="2.6" ry="2.3" fill="#a3a3a3" opacity="0.9"/>
<ellipse cx="666.2" cy="359.0" rx="2.6" ry="2.3" fill="#a3a3a3" opacity="0.9"/>
</g>
<g filter="url(#b0_6)">
<ellipse cx="666.2" cy="359.0" rx="1.0" ry="0.9" fill="#6b6b6b"/>
</g>
<g filter="url(#b1_5)">
<ellipse cx="667.4" cy="375.2" rx="2.6" ry="2.3" fill="#a3a3a3" opacity="0.9"/>
<ellipse cx="663.4" cy="384.5" rx="2.6" ry="2.3" fill="#a3a3a3" opacity="0.9"/>
<ellipse cx="662.8" cy="401.4" rx="2.6" ry="2.3" fill="#a3a3a3" opacity="0.9"/>
</g>
<g filter="url(#b0_6)">
<ellipse cx="662.8" cy="401.4" rx="1.0" ry="0.9" fill="#6b6b6b"/>
</g>
<g filter="url(#b1_5)">
<ellipse cx="667.4" cy="410.0" rx="2.6" ry="2.3" fill="#a3a3a3" opacity="0.9"/>
<ellipse cx="668.6" cy="443.3" rx="2.6" ry="2.3" fill="#a3a3a3" opacity="0.9"/>
</g>
<g filter="url(#b0_6)">
<ellipse cx="668.6" cy="443.3" rx="1.0" ry="0.9" fill="#6b6b6b"/>
</g>
<g filter="url(#b1_5)">
<ellipse cx="664.0" cy="451.5" rx="2.6" ry="2.3" fill="#a3a3a3" opacity="0.9"/>
<ellipse cx="676.1" cy="392.8" rx="2.6" ry="2.3" fill="#a3a3a3" opacity="0.9"/>
<ellipse cx="673.7" cy="409.2" rx="2.6" ry="2.3" fill="#a3a3a3" opacity="0.9"/>
</g>
<g filter="url(#b0_6)">
<ellipse cx="673.7" cy="409.2" rx="1.0" ry="0.9" fill="#6b6b6b"/>
</g>
<g filter="url(#b1_5)">
<ellipse cx="670.3" cy="417.1" rx="2.6" ry="2.3" fill="#a3a3a3" opacity="0.9"/>
<ellipse cx="682.9" cy="358.0" rx="2.6" ry="2.3" fill="#a3a3a3" opacity="0.9"/>
<ellipse cx="679.1" cy="368.0" rx="2.6" ry="2.3" fill="#a3a3a3" opacity="0.9"/>
</g>
<g filter="url(#b0_6)">
<ellipse cx="679.1" cy="368.0" rx="1.0" ry="0.9" fill="#6b6b6b"/>
</g>
<g filter="url(#b1_5)">
<ellipse cx="678.9" cy="434.5" rx="2.6" ry="2.3" fill="#a3a3a3" opacity="0.9"/>
<ellipse cx="682.2" cy="441.5" rx="2.6" ry="2.3" fill="#a3a3a3" opacity="0.9"/>
<ellipse cx="689.5" cy="358.1" rx="2.6" ry="2.3" fill="#a3a3a3" opacity="0.9"/>
</g>
<g filter="url(#b0_6)">
<ellipse cx="689.5" cy="358.1" rx="1.0" ry="0.9" fill="#6b6b6b"/>
</g>
<g filter="url(#b1_5)">
<ellipse cx="689.2" cy="393.0" rx="2.6" ry="2.3" fill="#a3a3a3" opacity="0.9"/>
<ellipse cx="690.2" cy="409.8" rx="2.6" ry="2.3" fill="#a3a3a3" opacity="0.9"/>
<ellipse cx="689.7" cy="441.4" rx="2.6" ry="2.3" fill="#a3a3a3" opacity="0.9"/>
</g>
<g filter="url(#b0_6)">
<ellipse cx="689.7" cy="441.4" rx="1.0" ry="0.9" fill="#6b6b6b"/>
</g>
<g filter="url(#b1_5)">
<ellipse cx="694.7" cy="349.6" rx="2.6" ry="2.3" fill="#a3a3a3" opacity="0.9"/>
<ellipse cx="694.1" cy="366.8" rx="2.6" ry="2.3" fill="#a3a3a3" opacity="0.9"/>
<ellipse cx="698.8" cy="374.4" rx="2.6" ry="2.3" fill="#a3a3a3" opacity="0.9"/>
<ellipse cx="692.6" cy="382.7" rx="2.6" ry="2.3" fill="#a3a3a3" opacity="0.9"/>
<ellipse cx="695.3" cy="399.8" rx="2.6" ry="2.3" fill="#a3a3a3" opacity="0.9"/>
<ellipse cx="697.8" cy="408.9" rx="2.6" ry="2.3" fill="#a3a3a3" opacity="0.9"/>
<ellipse cx="693.7" cy="432.5" rx="2.6" ry="2.3" fill="#a3a3a3" opacity="0.9"/>
<ellipse cx="703.1" cy="366.1" rx="2.6" ry="2.3" fill="#a3a3a3" opacity="0.9"/>
</g>
<g filter="url(#b0_6)">
<ellipse cx="703.1" cy="366.1" rx="1.0" ry="0.9" fill="#6b6b6b"/>
</g>
<g filter="url(#b1_5)">
<ellipse cx="700.6" cy="384.5" rx="2.6" ry="2.3" fill="#a3a3a3" opacity="0.9"/>
</g>
<g filter="url(#b0_6)">
<ellipse cx="700.6" cy="384.5" rx="1.0" ry="0.9" fill="#6b6b6b"/>
</g>
<g filter="url(#b1_5)">
<ellipse cx="701.2" cy="401.3" rx="2.6" ry="2.3" fill="#a3a3a3" opacity="0.9"/>
<ellipse cx="702.5" cy="418.0" rx="2.6" ry="2.3" fill="#a3a3a3" opacity="0.9"/>
</g>
<g filter="url(#b0_6)">
<ellipse cx="702.5" cy="418.0" rx="1.0" ry="0.9" fill="#6b6b6b"/>
</g>
<g filter="url(#b1_5)">
<ellipse cx="700.8" cy="432.6" rx="2.6" ry="2.3" fill="#a3a3a3" opacity="0.9"/>
</g>
<g filter="url(#b1)">
<ellipse cx="131.2" cy="432.8" rx="2.4" ry="1.9" fill="#9e9e9e"/>
</g>
<g filter="url(#b0_6)">
<ellipse cx="131.2" cy="432.8" rx="1.0" ry="0.9" fill="#6b6b6b"/>
</g>
<g filter="url(#b1)">
<ellipse cx="216.3" cy="421.3" rx="2.4" ry="1.9" fill="#9e9e9e"/>
</g>
<g filter="url(#b0_6)">
<ellipse cx="216.3" cy="421.3" rx="1.0" ry="0.9" fill="#6b6b6b"/>
</g>
<g filter="url(#b1)">
<ellipse cx="114.1" cy="415.3" rx="2.4" ry="1.9" fill="#9e9e9e"/>
<ellipse cx="86.6" cy="396.7" rx="2.4" ry="1.9" fill="#9e9e9e"/>
</g>
<g filter="url(#b0_6)">
<ellipse cx="86.6" cy="396.7" rx="1.0" ry="0.9" fill="#6b6b6b"/>
</g>
<g filter="url(#b1)">
<ellipse cx="84.0" cy="384.4" rx="2.4" ry="1.9" fill="#9e9e9e"/>
</g>
<g filter="url(#b0_6)">
<ellipse cx="84.0" cy="384.4" rx="1.0" ry="0.9" fill="#6b6b6b"/>
</g>
<g filter="url(#b1)">
<ellipse cx="220.6" cy="429.6" rx="2.4" ry="1.9" fill="#9e9e9e"/>
<ellipse cx="122.4" cy="407.9" rx="2.4" ry="1.9" fill="#9e9e9e"/>
<ellipse cx="119.6" cy="415.2" rx="2.4" ry="1.9" fill="#9e9e9e"/>
</g>
<g filter="url(#b0_6)">
<ellipse cx="119.6" cy="415.2" rx="1.0" ry="0.9" fill="#6b6b6b"/>
</g>
<g filter="url(#b1)">
<ellipse cx="139.6" cy="433.8" rx="2.4" ry="1.9" fill="#9e9e9e"/>
<ellipse cx="105.3" cy="407.8" rx="2.4" ry="1.9" fill="#9e9e9e"/>
</g>
<g filter="url(#b0_6)">
<ellipse cx="105.3" cy="407.8" rx="1.0" ry="0.9" fill="#6b6b6b"/>
</g>
<g filter="url(#b1)">
<ellipse cx="208.8" cy="423.9" rx="2.4" ry="1.9" fill="#9e9e9e"/>
</g>
<g filter="url(#b0_6)">
<ellipse cx="208.8" cy="423.9" rx="1.0" ry="0.9" fill="#6b6b6b"/>
</g>
<g filter="url(#b1)">
<ellipse cx="134.3" cy="404.3" rx="2.4" ry="1.9" fill="#9e9e9e"/>
</g>
<g filter="url(#b0_6)">
<ellipse cx="134.3" cy="404.3" rx="1.0" ry="0.9" fill="#6b6b6b"/>
</g>
<g filter="url(#b1)">
<ellipse cx="227.5" cy="438.2" rx="2.4" ry="1.9" fill="#9e9e9e"/>
<ellipse cx="102.0" cy="409.0" rx="2.4" ry="1.9" fill="#9e9e9e"/>
<ellipse cx="270.2" cy="386.1" rx="2.0" ry="1.8" fill="#999999"/>
<ellipse cx="277.0" cy="367.1" rx="2.0" ry="1.8" fill="#999999"/>
<ellipse cx="267.5" cy="361.7" rx="2.0" ry="1.8" fill="#999999"/>
<ellipse cx="272.7" cy="368.7" rx="2.0" ry="1.8" fill="#999999"/>
<ellipse cx="279.2" cy="361.0" rx="2.0" ry="1.8" fill="#999999"/>
<ellipse cx="259.1" cy="349.5" rx="2.0" ry="1.8" fill="#999999"/>
<ellipse cx="242.0" cy="356.8" rx="2.0" ry="1.8" fill="#999999"/>
<ellipse cx="240.8" cy="368.3" rx="2.0" ry="1.8" fill="#999999"/>
<ellipse cx="259.0" cy="393.5" rx="2.0" ry="1.8" fill="#999999"/>
<ellipse cx="242.1" cy="399.2" rx="2.0" ry="1.8" fill="#999999"/>
<ellipse cx="244.7" cy="390.7" rx="2.0" ry="1.8" fill="#999999"/>
<ellipse cx="257.9" cy="358.5" rx="2.0" ry="1.8" fill="#999999"/>
<ellipse cx="270.5" cy="364.6" rx="2.0" ry="1.8" fill="#999999"/>
<ellipse cx="240.8" cy="352.2" rx="2.0" ry="1.8" fill="#999999"/>
</g>
</g>
</g>
<g clip-path="url(#hc)"><g fill="#000" filter="url(#goo)"><rect x="72.7" y="259.0" width="3.6" height="41.0" rx="1.2"/><rect x="77.0" y="259.0" width="11.0" height="18.0" rx="1.2"/><rect x="78.5" y="275.0" width="13.0" height="47.0" rx="1.2"/><rect x="73.0" y="309.0" width="18.5" height="39.0" rx="2.5"/><rect x="77.1" y="265.7" width="3.4" height="4.9" rx="0.8"/><rect x="89.5" y="270.6" width="2.5" height="5.0" rx="0.8"/><rect x="89.5" y="275.6" width="3.4" height="4.5" rx="0.8"/><rect x="78.0" y="280.1" width="2.5" height="3.9" rx="0.8"/><rect x="77.5" y="290.0" width="3.0" height="3.1" rx="0.8"/><rect x="89.5" y="290.0" width="3.5" height="3.1" rx="0.8"/><rect x="77.1" y="293.1" width="3.4" height="4.5" rx="0.8"/><rect x="89.5" y="293.1" width="3.5" height="4.5" rx="0.8"/><rect x="89.5" y="297.6" width="3.0" height="4.8" rx="0.8"/><rect x="77.0" y="302.4" width="3.5" height="3.7" rx="0.8"/><rect x="89.5" y="302.4" width="3.4" height="3.7" rx="0.8"/><rect x="77.5" y="316.0" width="3.0" height="5.9" rx="0.8"/><rect x="77.5" y="325.7" width="3.0" height="4.6" rx="0.8"/><rect x="89.5" y="325.7" width="3.6" height="4.6" rx="0.8"/><rect x="77.9" y="330.4" width="2.6" height="4.5" rx="0.8"/><rect x="77.5" y="334.9" width="3.0" height="7.0" rx="0.8"/><rect x="77.3" y="341.9" width="3.2" height="3.1" rx="0.8"/><rect x="73.0" y="296.0" width="7.0" height="15.0" rx="1.2"/><rect x="105.0" y="259.0" width="12.5" height="16.0" rx="1.2"/><rect x="108.5" y="273.0" width="9.0" height="18.0" rx="1.2"/><rect x="112.0" y="289.0" width="5.5" height="11.0" rx="1.2"/><rect x="105.0" y="302.5" width="9.8" height="19.5" rx="2"/><ellipse cx="111.2" cy="334.3" rx="5.6" ry="9.5"/><rect x="105.4" y="260.0" width="2.6" height="5.5" rx="0.8"/><rect x="115.0" y="260.0" width="3.1" height="5.5" rx="0.8"/><rect x="115.0" y="265.5" width="2.6" height="4.4" rx="0.8"/><rect x="115.0" y="277.6" width="3.2" height="6.6" rx="0.8"/><rect x="105.3" y="291.1" width="2.7" height="5.0" rx="0.8"/><rect x="131.0" y="259.0" width="3.5" height="5.0" rx="1.2"/><rect x="137.0" y="259.0" width="3.8" height="9.4" rx="1.2"/><rect x="142.6" y="265.7" width="4.4" height="6.3" rx="1.2"/><rect x="132.7" y="296.0" width="12.6" height="14.0" rx="2"/><rect x="134.0" y="293.0" width="3.0" height="4.0" rx="1.2"/><rect x="141.0" y="293.0" width="3.0" height="4.0" rx="1.2"/><rect x="127.3" y="307.0" width="21.5" height="11.5" rx="3"/><rect x="136.3" y="317.0" width="5.4" height="10.0" rx="1.2"/><ellipse cx="140.3" cy="334.7" rx="9.6" ry="9.2"/><rect x="229.0" y="293.0" width="3.6" height="30.6" rx="1.2"/><rect x="254.9" y="260.0" width="4.3" height="19.0" rx="1.2"/><rect x="255.4" y="290.6" width="4.8" height="24.1" rx="1.2"/><rect x="257.0" y="298.0" width="4.5" height="8.0" rx="1.2"/><rect x="265.5" y="292.0" width="5.1" height="29.6" rx="1.2"/><ellipse cx="258.4" cy="334.3" rx="3.0" ry="3.0"/><ellipse cx="379.0" cy="312.0" rx="3.2" ry="3.0"/><ellipse cx="379.0" cy="334.5" rx="3.2" ry="4.4"/><ellipse cx="85.4" cy="381.4" rx="3.0" ry="3.0"/><rect x="434.5" y="261.0" width="9.3" height="10.0" rx="1.2"/><rect x="436.8" y="270.0" width="7.7" height="16.5" rx="1.2"/><rect x="438.6" y="285.0" width="5.9" height="14.3" rx="1.2"/><rect x="435.0" y="307.4" width="4.8" height="11.6" rx="1.2"/><rect x="436.3" y="318.0" width="2.7" height="7.0" rx="1.2"/><rect x="435.5" y="323.5" width="5.5" height="6.5" rx="1.2"/><ellipse cx="438.0" cy="334.8" rx="7.6" ry="7.4"/><rect x="436.1" y="262.0" width="2.9" height="3.6" rx="0.8"/><rect x="442.0" y="265.6" width="2.6" height="4.9" rx="0.8"/><rect x="436.4" y="270.6" width="2.6" height="4.2" rx="0.8"/><rect x="442.0" y="270.6" width="2.7" height="4.2" rx="0.8"/><rect x="436.0" y="281.3" width="3.0" height="4.9" rx="0.8"/><rect x="436.4" y="286.3" width="2.6" height="5.9" rx="0.8"/><rect x="471.7" y="259.0" width="11.7" height="17.0" rx="1.2"/><rect x="474.0" y="275.0" width="12.4" height="31.3" rx="1.2"/><rect x="470.8" y="305.0" width="15.6" height="11.8" rx="2"/><rect x="476.0" y="316.0" width="6.5" height="5.5" rx="1.2"/><ellipse cx="478.2" cy="334.3" rx="8.3" ry="9.4"/><rect x="474.8" y="340.0" width="7.0" height="16.4" rx="3.2"/><rect x="484.0" y="266.7" width="3.0" height="4.2" rx="0.8"/><rect x="484.0" y="277.1" width="2.8" height="6.4" rx="0.8"/><rect x="484.0" y="283.5" width="2.6" height="6.8" rx="0.8"/><rect x="473.2" y="290.3" width="2.8" height="3.4" rx="0.8"/><rect x="484.0" y="290.3" width="3.1" height="3.4" rx="0.8"/><rect x="473.1" y="293.7" width="2.9" height="5.6" rx="0.8"/><rect x="484.0" y="293.7" width="2.8" height="5.6" rx="0.8"/><rect x="473.4" y="299.3" width="2.6" height="3.9" rx="0.8"/><rect x="484.0" y="299.3" width="3.0" height="3.9" rx="0.8"/><rect x="473.0" y="303.2" width="3.0" height="5.2" rx="0.8"/><rect x="484.0" y="308.4" width="2.8" height="6.1" rx="0.8"/><rect x="499.0" y="262.0" width="4.0" height="4.7" rx="1.2"/><rect x="505.0" y="259.0" width="192.0" height="30.0" rx="1"/><rect x="600.0" y="316.0" width="97.0" height="30.0" rx="1"/><rect x="687.6" y="259.0" width="8.3" height="89.0" rx="1.2"/><rect x="505.0" y="286.0" width="3.3" height="31.3" rx="1"/><rect x="512.8" y="286.0" width="4.0" height="43.0" rx="1"/><rect x="519.8" y="286.0" width="3.2" height="43.0" rx="1"/><rect x="527.2" y="286.0" width="7.5" height="43.0" rx="1"/><rect x="538.1" y="286.0" width="5.6" height="26.9" rx="1"/><rect x="547.2" y="286.0" width="6.3" height="43.0" rx="1"/><rect x="556.4" y="286.0" width="5.8" height="31.2" rx="1"/><rect x="564.4" y="286.0" width="6.7" height="43.0" rx="1"/><rect x="573.3" y="286.0" width="6.0" height="24.4" rx="1"/><rect x="583.2" y="286.0" width="5.8" height="43.0" rx="1"/><rect x="592.5" y="286.0" width="7.3" height="43.0" rx="1"/><rect x="600.0" y="286.0" width="5.6" height="34.0" rx="1"/><rect x="607.3" y="286.0" width="3.1" height="21.3" rx="1"/><rect x="612.5" y="286.0" width="6.5" height="34.0" rx="1"/><rect x="621.6" y="286.0" width="7.0" height="34.0" rx="1"/><rect x="631.3" y="286.0" width="6.2" height="25.5" rx="1"/><rect x="639.1" y="286.0" width="3.9" height="34.0" rx="1"/><rect x="646.6" y="286.0" width="6.9" height="34.0" rx="1"/><rect x="656.7" y="286.0" width="7.3" height="34.0" rx="1"/><rect x="666.2" y="286.0" width="5.4" height="34.0" rx="1"/><rect x="674.6" y="286.0" width="7.1" height="25.5" rx="1"/><rect x="683.6" y="286.0" width="4.0" height="34.0" rx="1"/><rect x="505.0" y="287.0" width="4.4" height="3.8" rx="1"/><rect x="509.4" y="287.0" width="3.6" height="12.4" rx="1"/><rect x="513.0" y="287.0" width="5.1" height="7.6" rx="1"/><rect x="518.1" y="287.0" width="2.9" height="12.6" rx="1"/><rect x="521.0" y="287.0" width="5.0" height="5.1" rx="1"/><rect x="525.9" y="287.0" width="3.7" height="9.4" rx="1"/><rect x="529.6" y="287.0" width="4.9" height="5.6" rx="1"/><rect x="534.5" y="287.0" width="5.8" height="6.2" rx="1"/><rect x="540.3" y="287.0" width="3.4" height="11.5" rx="1"/><rect x="543.7" y="287.0" width="3.0" height="9.8" rx="1"/><rect x="546.8" y="287.0" width="3.2" height="9.0" rx="1"/><rect x="550.0" y="287.0" width="3.5" height="6.8" rx="1"/><rect x="553.4" y="287.0" width="5.8" height="7.7" rx="1"/><rect x="559.2" y="287.0" width="4.0" height="9.2" rx="1"/><rect x="563.2" y="287.0" width="3.5" height="4.7" rx="1"/><rect x="566.7" y="287.0" width="3.8" height="5.7" rx="1"/><rect x="570.6" y="287.0" width="3.2" height="12.6" rx="1"/><rect x="573.7" y="287.0" width="2.6" height="11.1" rx="1"/><rect x="576.4" y="287.0" width="5.8" height="10.0" rx="1"/><rect x="582.1" y="287.0" width="2.6" height="8.0" rx="1"/><rect x="584.7" y="287.0" width="2.6" height="9.1" rx="1"/><rect x="587.3" y="287.0" width="5.0" height="5.4" rx="1"/><rect x="592.3" y="287.0" width="2.5" height="8.4" rx="1"/><rect x="594.8" y="287.0" width="2.8" height="6.1" rx="1"/><rect x="597.6" y="287.0" width="4.1" height="11.9" rx="1"/><rect x="601.7" y="287.0" width="3.8" height="4.3" rx="1"/><rect x="605.5" y="287.0" width="5.3" height="11.2" rx="1"/><rect x="610.8" y="287.0" width="4.4" height="3.5" rx="1"/><rect x="615.1" y="287.0" width="3.2" height="7.0" rx="1"/><rect x="618.3" y="287.0" width="4.4" height="5.3" rx="1"/><rect x="622.7" y="287.0" width="5.3" height="11.4" rx="1"/><rect x="628.0" y="287.0" width="5.7" height="11.8" rx="1"/><rect x="633.8" y="287.0" width="2.6" height="8.8" rx="1"/><rect x="636.3" y="287.0" width="2.8" height="12.0" rx="1"/><rect x="639.1" y="287.0" width="5.1" height="10.6" rx="1"/><rect x="644.2" y="287.0" width="3.2" height="3.6" rx="1"/><rect x="647.4" y="287.0" width="5.4" height="9.1" rx="1"/><rect x="652.7" y="287.0" width="4.7" height="7.7" rx="1"/><rect x="657.4" y="287.0" width="5.3" height="6.4" rx="1"/><rect x="662.7" y="287.0" width="3.4" height="6.5" rx="1"/><rect x="666.2" y="287.0" width="3.5" height="9.3" rx="1"/><rect x="669.7" y="287.0" width="5.6" height="3.7" rx="1"/><rect x="675.3" y="287.0" width="2.7" height="8.1" rx="1"/><rect x="678.1" y="287.0" width="4.9" height="4.9" rx="1"/><rect x="682.9" y="287.0" width="3.4" height="3.6" rx="1"/><rect x="686.4" y="287.0" width="2.6" height="8.0" rx="1"/><rect x="689.0" y="287.0" width="4.9" height="9.5" rx="1"/><rect x="693.9" y="287.0" width="3.1" height="4.0" rx="1"/><rect x="696.9" y="287.0" width="5.8" height="8.4" rx="1"/><rect x="604.0" y="307.0" width="28.0" height="14.0" rx="3"/><rect x="641.5" y="307.0" width="30.5" height="13.0" rx="3"/><rect x="670.6" y="307.5" width="25.8" height="13.5" rx="3"/><rect x="585.0" y="308.0" width="18.0" height="12.0" rx="3"/><path d="M499.5,335 L501.0,326.3 L506.2,326.6 L511.7,325.9 L515.7,326.6 L519.2,327.0 L522.7,327.3 L528.4,326.9 L533.8,327.4 L539.5,327.5 L545.3,327.5 L548.4,326.2 L553.2,327.1 L556.7,327.4 L562.3,325.9 L567.0,327.1 L572.6,326.2 L576.8,325.8 L582.3,326.2 L585.4,326.3 L588.5,326.9 L591.8,327.4 L597.5,326.5 L601.2,326.3 L606.5,327.1 L610.3,326.3 L614.7,326.0 L619.1,325.5 L623.9,327.2 L629.0,327.6 L633.2,325.4 L638.0,326.7 L641.6,325.9 L647.0,326.5 L651.1,327.2 L655.5,326.3 L660.3,326.9 L665.5,326.2 L670.9,327.1 L674.5,327.3 L677.7,326.1 L681.2,327.2 L686.2,326.1 L689.8,326.5 L693.5,326.9 L697.0,327.0 L697.0,344.0 L693.5,343.5 L689.8,344.6 L686.2,343.2 L681.2,343.3 L677.7,344.4 L674.5,345.1 L670.9,345.2 L665.5,343.3 L660.3,345.0 L655.5,344.4 L651.1,344.0 L647.0,342.8 L641.6,344.7 L638.0,345.4 L633.2,344.5 L629.0,343.7 L623.9,344.7 L619.1,344.9 L614.7,344.1 L610.3,343.7 L606.5,344.4 L601.2,344.4 L597.5,342.9 L591.8,344.1 L588.5,343.2 L585.4,344.2 L582.3,343.0 L576.8,344.1 L572.6,342.8 L567.0,344.7 L562.3,345.4 L556.7,344.1 L553.2,344.4 L548.4,344.3 L545.3,344.8 L539.5,343.7 L533.8,344.1 L528.4,343.2 L522.7,344.9 L519.2,344.0 L515.7,344.4 L511.7,342.7 L506.2,342.8 L501.0,344.5 Z"/><rect x="506.0" y="296.0" width="6.0" height="34.0" rx="1.2"/><rect x="503.0" y="300.0" width="5.0" height="26.0" rx="1.2"/><rect x="539.3" y="342.0" width="3.4" height="16.0" rx="1.2"/><rect x="593.0" y="342.0" width="4.6" height="11.0" rx="2"/><rect x="634.0" y="325.0" width="3.5" height="22.0" rx="1.2"/></g></g>
<ellipse cx="541.2" cy="366.5" rx="3.4" ry="10.5" fill="#ff5a00" stroke="#000" stroke-width="3"/>
<g clip-path="url(#hc)" filter="url(#b0_6)"><path d="M73.2,328 Q78,324 82,329 Q86,334 84,340 Q81,346.5 76,345 L73.2,344 Z" fill="#e41a08"/><rect x="73.5" y="309.5" width="4.5" height="5.0" rx="1.5" fill="#e01808"/><rect x="110.2" y="310.5" width="3.2" height="6.5" rx="1.5" fill="#e01808"/><ellipse cx="111.2" cy="334.6" rx="2.8" ry="6.2" fill="#e01808"/><rect x="134.5" y="310.6" width="10.8" height="5.2" rx="2.5" fill="#e01808"/><path d="M133.8,334 Q134,329.5 139,329.8 L146,330.5 Q147.5,334 146.5,338.5 L137,339.2 Q133.8,338.5 133.8,334 Z" fill="#e41a08"/><path d="M433.6,332.5 Q438,329.5 442.8,332.5 Q443,337 440,339 L435.5,339 Q433,336.5 433.6,332.5 Z" fill="#d81408"/><ellipse cx="478.3" cy="334.8" rx="4.8" ry="5.3" fill="#cc1008"/><rect x="477.1" y="338.0" width="2.5" height="12.6" rx="1.2" fill="#cc1008"/><path d="M503.5,330.0 L506.9,329.4 L511.2,329.5 L516.1,329.3 L520.9,330.1 L526.8,330.0 L531.7,330.0 L537.0,330.4 L541.5,329.7 L544.6,330.5 L548.2,330.4 L551.5,330.2 L556.9,329.9 L560.5,329.4 L564.0,330.4 L567.7,329.5 L571.0,330.0 L574.6,330.6 L577.9,329.7 L581.2,329.7 L586.6,330.2 L589.6,329.8 L595.4,329.9 L598.5,330.2 L603.8,330.3 L609.6,329.4 L614.9,330.6 L618.4,329.9 L623.4,330.0 L626.5,329.8 L630.5,330.7 L633.9,329.9 L638.9,330.1 L643.1,330.9 L648.1,330.4 L652.8,330.0 L657.3,329.8 L660.8,330.9 L664.4,329.4 L670.0,329.9 L673.7,330.5 L678.9,330.3 L682.8,330.4 L687.9,330.2 L693.5,330.8 L694.0,330.5 L694.0,340.0 L693.5,339.3 L687.9,339.7 L682.8,340.8 L678.9,339.8 L673.7,340.0 L670.0,340.5 L664.4,339.5 L660.8,339.9 L657.3,339.7 L652.8,339.4 L648.1,340.0 L643.1,339.9 L638.9,339.5 L633.9,339.2 L630.5,340.7 L626.5,339.2 L623.4,340.8 L618.4,340.5 L614.9,340.2 L609.6,341.1 L603.8,339.4 L598.5,341.0 L595.4,340.7 L589.6,339.7 L586.6,340.5 L581.2,340.3 L577.9,340.3 L574.6,340.2 L571.0,340.7 L567.7,340.2 L564.0,340.9 L560.5,339.4 L556.9,339.7 L551.5,339.4 L548.2,340.3 L544.6,340.0 L541.5,340.7 L537.0,340.0 L531.7,339.8 L526.8,340.4 L520.9,340.1 L516.1,340.6 L511.2,340.9 L506.9,340.5 L503.5,339.4 Z" fill="#e8200a"/><rect x="506" y="332.2" width="186" height="6" rx="3" fill="#b01010" filter="url(#b1)"/><rect x="607.0" y="310.0" width="22.0" height="8.0" rx="2.5" fill="#f02408"/><rect x="644.5" y="310.0" width="24.5" height="7.0" rx="2.5" fill="#f02408"/><rect x="673.6" y="310.5" width="19.8" height="7.5" rx="2.5" fill="#f02408"/><rect x="588.0" y="311.0" width="12.0" height="6.0" rx="2.5" fill="#f02408"/><rect x="579.9" y="316.2" width="4.9" height="5.6" rx="1" fill="#e81c08"/><rect x="533.7" y="323.9" width="3.0" height="4.1" rx="1" fill="#e81c08"/><rect x="597.9" y="304.0" width="3.2" height="4.9" rx="1" fill="#e81c08"/><rect x="536.0" y="306.4" width="4.4" height="4.8" rx="1" fill="#e81c08"/><rect x="577.5" y="319.0" width="4.6" height="5.7" rx="1" fill="#e81c08"/><rect x="584.5" y="323.5" width="3.5" height="5.1" rx="1" fill="#e81c08"/><rect x="557.2" y="323.3" width="4.0" height="4.3" rx="1" fill="#e81c08"/><rect x="570.4" y="307.1" width="2.4" height="4.2" rx="1" fill="#e81c08"/><rect x="524.0" y="300.1" width="2.3" height="4.4" rx="1" fill="#e81c08"/><rect x="579.2" y="301.2" width="3.9" height="3.3" rx="1" fill="#e81c08"/><rect x="556.9" y="307.1" width="3.3" height="5.1" rx="1" fill="#e81c08"/><rect x="548.4" y="309.4" width="4.2" height="3.3" rx="1" fill="#e81c08"/><rect x="542.7" y="316.8" width="4.5" height="5.9" rx="1" fill="#e81c08"/><rect x="534.6" y="315.0" width="2.9" height="5.1" rx="1" fill="#e81c08"/></g>
<g fill="#000"><rect x="634.8" y="325" width="4.4" height="21" rx="1"/><rect x="572" y="326" width="4" height="19" rx="1"/></g>
<g clip-path="url(#hc)" filter="url(#b0_6)"><rect x="521.0" y="260.0" width="2.2" height="18.0" fill="#ffe000"/><rect x="524.0" y="262.0" width="1.2" height="22.0" fill="#ffb000"/><rect x="543.0" y="260.0" width="2.5" height="30.0" fill="#ffc800"/><rect x="547.5" y="262.0" width="2" height="26.0" fill="#ffe000"/><rect x="551.0" y="268.0" width="1.2" height="14.0" fill="#7fffb0"/><rect x="576.0" y="260.0" width="1.3" height="8.0" fill="#ffe000"/><rect x="612.0" y="272.0" width="1.2" height="28.0" fill="#ffe000"/><rect x="622.0" y="282.0" width="1.4" height="22.0" fill="#ffb000"/><rect x="628.0" y="285.0" width="1.2" height="18.0" fill="#ffe000"/><rect x="646.5" y="278.0" width="1.5" height="30.0" fill="#ffe000"/><rect x="652.0" y="290.0" width="1.1" height="16.0" fill="#ffb000"/><rect x="666.5" y="268.0" width="1.6" height="38.0" fill="#ffe000"/><rect x="660.0" y="296.0" width="1.1" height="12.0" fill="#ffe000"/><rect x="603.0" y="292.0" width="1.3" height="14.0" fill="#ffe000"/><rect x="640.0" y="262.0" width="1.0" height="8.0" fill="#ffe000"/><rect x="585.0" y="270.0" width="1.2" height="26.0" fill="#ffb000"/><rect x="566.0" y="284.0" width="1.2" height="14.0" fill="#ffe000"/><rect x="673.6" y="260" width="14" height="40" fill="#ffd000"/><rect x="675" y="262" width="2" height="36" fill="#ff9000"/><rect x="683" y="266" width="2.4" height="34" fill="#ff9800"/><rect x="680.5" y="262" width="1.3" height="20" fill="#60ffc0"/><rect x="677" y="280" width="3.6" height="22" fill="#000"/><rect x="684.5" y="259" width="4" height="8" fill="#000"/><rect x="673" y="259" width="4" height="6" fill="#000"/><rect x="676.8" y="319.8" width="2.323488929541756" height="2.7" fill="#ffa000"/><rect x="621.6" y="320.0" width="2.1532777439067363" height="2.2" fill="#ffe000"/><rect x="604.3" y="321.0" width="1.615026825904606" height="2.3" fill="#ffe000"/><rect x="647.4" y="319.3" width="1.589842098115647" height="2.1" fill="#ff7000"/><rect x="651.7" y="324.1" width="1.9459741447914993" height="3.7" fill="#ffe000"/><rect x="656.2" y="320.2" width="2.078332769647599" height="2.3" fill="#ffa000"/><rect x="625.7" y="320.3" width="2.1498413693445646" height="2.8" fill="#ffa000"/><rect x="668.2" y="323.4" width="1.5854347070545955" height="2.5" fill="#ffa000"/><rect x="674.6" y="323.6" width="2.347326860580639" height="2.4" fill="#ff7000"/><rect x="687.0" y="324.5" width="2.0313632094885588" height="2.9" fill="#ffe000"/><rect x="620.1" y="322.7" width="2.256444761581041" height="4.0" fill="#ffa000"/><rect x="611.3" y="323.3" width="2.291059076185533" height="3.0" fill="#ffe000"/><rect x="674.3" y="324.5" width="1.2106723462572895" height="3.2" fill="#ffe000"/><rect x="689.0" y="322.1" width="1.2022871610222365" height="3.4" fill="#ffe000"/><rect x="678.9" y="324.9" width="1.3080145201757316" height="3.9" fill="#ffa000"/><rect x="635.3" y="322.6" width="1.7288696898983784" height="2.8" fill="#ff7000"/><rect x="78.2" y="294.8" width="1.2" height="6.8" fill="#ffe000"/><rect x="78.8" y="315.8" width="1.2" height="3.9" fill="#ffa000"/><rect x="84.5" y="294.4" width="1.2" height="7.6" fill="#ffa000"/><rect x="82.6" y="268.7" width="1.2" height="6.2" fill="#ffe000"/><rect x="88.6" y="299.2" width="1.2" height="8.3" fill="#ffa000"/><rect x="79.5" y="278.9" width="1.2" height="8.0" fill="#ffa000"/><rect x="78.5" y="273.3" width="1.2" height="6.4" fill="#ffa000"/><rect x="83.9" y="305.2" width="1.2" height="6.2" fill="#ffe000"/><rect x="76.5" y="262.0" width="1.4" height="34.0" fill="#ffd800"/></g>
<path d="M72.2,258.6 L72.2,216.8 L72.3,238.5 L72.4,254.6 L72.4,267.3 L72.6,283.3 L72.9,298.1 L73.2,310.8 L73.5,319.8 L73.8,326.8 L74.3,335.1 L74.8,341.6 L77.5,363.4 L80.1,376.1 L82.8,385.1 L85.4,392.1 L88.0,397.8 L90.7,402.7 L93.3,406.9 L96.0,410.6 L98.6,413.9 L101.2,416.8 L103.9,419.6 L106.5,422.1 L109.2,424.4 L111.8,426.6 L114.4,428.6 L117.1,430.5 L119.7,432.3 L122.4,434.0 L125.0,435.6 L127.6,437.1 L130.3,438.6 L132.9,440.0 L135.6,441.3 L138.2,442.6 L140.8,443.8 L143.5,445.0 L146.1,446.2 L148.7,447.3 L151.4,448.3 L154.0,449.4 L156.7,450.4 L159.3,451.3 L161.9,452.3 L164.6,453.2 L167.2,454.1 L169.9,454.9 L172.5,455.7 L175.1,456.6 L177.8,457.4 L180.4,458.1 L183.1,458.9 L185.7,459.6 L188.3,460.3 L191.0,461.1 L193.6,461.7 L196.3,462.4 L198.9,463.1 L201.5,463.7 L204.2,464.4 L206.8,465.0 L209.5,465.6 L212.1,466.2 L214.7,466.8 L217.4,467.4 L220.0,467.9 L222.7,468.5 L225.3,469.0 L227.9,469.6 L230.6,470.1 L233.2,470.6 L235.9,471.1 L238.5,471.6 L241.1,472.1 L243.8,472.6 L246.4,473.1 L249.1,473.5 L251.7,474.0 L254.3,474.5 L257.0,474.9 L259.6,475.4 L262.2,475.8 L264.9,476.2 L267.5,476.7 L270.2,477.1 L272.8,477.5 L275.4,477.9 L278.1,478.3 L280.7,478.7 L283.4,479.1 L286.0,479.5 L288.6,479.9 L291.3,480.3 L293.9,480.6 L296.6,481.0 L299.2,481.4 L301.8,481.7 L304.5,482.1 L307.1,482.5 L309.8,482.8 L312.4,483.2 L315.0,483.5 L317.7,483.8 L320.3,484.2 L323.0,484.5 L325.6,484.8 L328.2,485.2 L330.9,485.5 L333.5,485.8 L336.2,486.1 L338.8,486.4 L341.4,486.7 L344.1,487.0 L346.7,487.3 L349.4,487.6 L352.0,487.9 L354.6,488.2 L357.3,488.5 L359.9,488.8 L362.6,489.1 L365.2,489.4 L367.8,489.7 L370.5,489.9 L373.1,490.2 L375.8,490.5 L378.4,490.8 L381.0,491.0 L383.7,491.3 L386.3,491.6 L388.9,491.8 L391.6,491.6 L394.2,491.3 L396.9,491.0 L399.5,490.8 L402.1,490.5 L404.8,490.2 L407.4,489.9 L410.1,489.7 L412.7,489.4 L415.3,489.1 L418.0,488.8 L420.6,488.5 L423.3,488.2 L425.9,487.9 L428.5,487.6 L431.2,487.3 L433.8,487.0 L436.5,486.7 L439.1,486.4 L441.7,486.1 L444.4,485.8 L447.0,485.5 L449.7,485.2 L452.3,484.8 L454.9,484.5 L457.6,484.2 L460.2,483.8 L462.9,483.5 L465.5,483.2 L468.1,482.8 L470.8,482.5 L473.4,482.1 L476.1,481.7 L478.7,481.4 L481.3,481.0 L484.0,480.6 L486.6,480.3 L489.3,479.9 L491.9,479.5 L494.5,479.1 L497.2,478.7 L499.8,478.3 L502.5,477.9 L505.1,477.5 L507.7,477.1 L510.4,476.7 L513.0,476.2 L515.7,475.8 L518.3,475.4 L520.9,474.9 L523.6,474.5 L526.2,474.0 L528.8,473.5 L531.5,473.1 L534.1,472.6 L536.8,472.1 L539.4,471.6 L542.0,471.1 L544.7,470.6 L547.3,470.1 L550.0,469.6 L552.6,469.0 L555.2,468.5 L557.9,467.9 L560.5,467.4 L563.2,466.8 L565.8,466.2 L568.4,465.6 L571.1,465.0 L573.7,464.4 L576.4,463.7 L579.0,463.1 L581.6,462.4 L584.3,461.7 L586.9,461.1 L589.6,460.3 L592.2,459.6 L594.8,458.9 L597.5,458.1 L600.1,457.4 L602.8,456.6 L605.4,455.7 L608.0,454.9 L610.7,454.1 L613.3,453.2 L616.0,452.3 L618.6,451.3 L621.2,450.4 L623.9,449.4 L626.5,448.3 L629.2,447.3 L631.8,446.2 L634.4,445.0 L637.1,443.8 L639.7,442.6 L642.4,441.3 L645.0,440.0 L647.6,438.6 L650.3,437.1 L652.9,435.6 L655.5,434.0 L658.2,432.3 L660.8,430.5 L663.5,428.6 L666.1,426.6 L668.7,424.4 L671.4,422.1 L674.0,419.6 L676.7,416.8 L679.3,413.9 L681.9,410.6 L684.6,406.9 L687.2,402.7 L689.9,397.8 L692.5,392.1 L695.1,385.1 L697.8,376.1 L700.4,363.4 L703.1,341.6 L703.6,335.1 L704.1,326.8 L704.4,319.8 L704.7,310.8 L705.0,298.1 L705.3,283.3 L705.5,267.3 L705.5,254.6 L705.6,238.5 L705.7,216.8 L705.7,258.6 L705.7,490.4 L72.2,490.4 Z" fill="#fff" fill-opacity="0.55" clip-path="url(#hc)"/>
<path d="M72.2,258.6 L72.2,216.8 L72.3,238.5 L72.4,254.6 L72.4,267.3 L72.6,283.3 L72.9,298.1 L73.2,310.8 L73.5,319.8 L73.8,326.8 L74.3,335.1 L74.8,341.6 L77.5,363.4 L80.1,376.1 L82.8,385.1 L85.4,392.1 L88.0,397.8 L90.7,402.7 L93.3,406.9 L96.0,410.6 L98.6,413.9 L101.2,416.8 L103.9,419.6 L106.5,422.1 L109.2,424.4 L111.8,426.6 L114.4,428.6 L117.1,430.5 L119.7,432.3 L122.4,434.0 L125.0,435.6 L127.6,437.1 L130.3,438.6 L132.9,440.0 L135.6,441.3 L138.2,442.6 L140.8,443.8 L143.5,445.0 L146.1,446.2 L148.7,447.3 L151.4,448.3 L154.0,449.4 L156.7,450.4 L159.3,451.3 L161.9,452.3 L164.6,453.2 L167.2,454.1 L169.9,454.9 L172.5,455.7 L175.1,456.6 L177.8,457.4 L180.4,458.1 L183.1,458.9 L185.7,459.6 L188.3,460.3 L191.0,461.1 L193.6,461.7 L196.3,462.4 L198.9,463.1 L201.5,463.7 L204.2,464.4 L206.8,465.0 L209.5,465.6 L212.1,466.2 L214.7,466.8 L217.4,467.4 L220.0,467.9 L222.7,468.5 L225.3,469.0 L227.9,469.6 L230.6,470.1 L233.2,470.6 L235.9,471.1 L238.5,471.6 L241.1,472.1 L243.8,472.6 L246.4,473.1 L249.1,473.5 L251.7,474.0 L254.3,474.5 L257.0,474.9 L259.6,475.4 L262.2,475.8 L264.9,476.2 L267.5,476.7 L270.2,477.1 L272.8,477.5 L275.4,477.9 L278.1,478.3 L280.7,478.7 L283.4,479.1 L286.0,479.5 L288.6,479.9 L291.3,480.3 L293.9,480.6 L296.6,481.0 L299.2,481.4 L301.8,481.7 L304.5,482.1 L307.1,482.5 L309.8,482.8 L312.4,483.2 L315.0,483.5 L317.7,483.8 L320.3,484.2 L323.0,484.5 L325.6,484.8 L328.2,485.2 L330.9,485.5 L333.5,485.8 L336.2,486.1 L338.8,486.4 L341.4,486.7 L344.1,487.0 L346.7,487.3 L349.4,487.6 L352.0,487.9 L354.6,488.2 L357.3,488.5 L359.9,488.8 L362.6,489.1 L365.2,489.4 L367.8,489.7 L370.5,489.9 L373.1,490.2 L375.8,490.5 L378.4,490.8 L381.0,491.0 L383.7,491.3 L386.3,491.6 L388.9,491.8 L391.6,491.6 L394.2,491.3 L396.9,491.0 L399.5,490.8 L402.1,490.5 L404.8,490.2 L407.4,489.9 L410.1,489.7 L412.7,489.4 L415.3,489.1 L418.0,488.8 L420.6,488.5 L423.3,488.2 L425.9,487.9 L428.5,487.6 L431.2,487.3 L433.8,487.0 L436.5,486.7 L439.1,486.4 L441.7,486.1 L444.4,485.8 L447.0,485.5 L449.7,485.2 L452.3,484.8 L454.9,484.5 L457.6,484.2 L460.2,483.8 L462.9,483.5 L465.5,483.2 L468.1,482.8 L470.8,482.5 L473.4,482.1 L476.1,481.7 L478.7,481.4 L481.3,481.0 L484.0,480.6 L486.6,480.3 L489.3,479.9 L491.9,479.5 L494.5,479.1 L497.2,478.7 L499.8,478.3 L502.5,477.9 L505.1,477.5 L507.7,477.1 L510.4,476.7 L513.0,476.2 L515.7,475.8 L518.3,475.4 L520.9,474.9 L523.6,474.5 L526.2,474.0 L528.8,473.5 L531.5,473.1 L534.1,472.6 L536.8,472.1 L539.4,471.6 L542.0,471.1 L544.7,470.6 L547.3,470.1 L550.0,469.6 L552.6,469.0 L555.2,468.5 L557.9,467.9 L560.5,467.4 L563.2,466.8 L565.8,466.2 L568.4,465.6 L571.1,465.0 L573.7,464.4 L576.4,463.7 L579.0,463.1 L581.6,462.4 L584.3,461.7 L586.9,461.1 L589.6,460.3 L592.2,459.6 L594.8,458.9 L597.5,458.1 L600.1,457.4 L602.8,456.6 L605.4,455.7 L608.0,454.9 L610.7,454.1 L613.3,453.2 L616.0,452.3 L618.6,451.3 L621.2,450.4 L623.9,449.4 L626.5,448.3 L629.2,447.3 L631.8,446.2 L634.4,445.0 L637.1,443.8 L639.7,442.6 L642.4,441.3 L645.0,440.0 L647.6,438.6 L650.3,437.1 L652.9,435.6 L655.5,434.0 L658.2,432.3 L660.8,430.5 L663.5,428.6 L666.1,426.6 L668.7,424.4 L671.4,422.1 L674.0,419.6 L676.7,416.8 L679.3,413.9 L681.9,410.6 L684.6,406.9 L687.2,402.7 L689.9,397.8 L692.5,392.1 L695.1,385.1 L697.8,376.1 L700.4,363.4 L703.1,341.6 L703.6,335.1 L704.1,326.8 L704.4,319.8 L704.7,310.8 L705.0,298.1 L705.3,283.3 L705.5,267.3 L705.5,254.6 L705.6,238.5 L705.7,216.8 L705.7,258.6" fill="none" stroke="#fff" stroke-width="1" clip-path="url(#hc)"/>
<path d="M72.4,478.8 L72.6,478.8 L72.9,477.7 L73.1,457.4 L73.4,464.7 L73.6,470.0 L73.8,473.5 L73.9,472.8 L74.1,468.0 L74.4,458.5 L74.5,454.5 L74.8,454.2 L74.9,458.4 L75.1,465.8 L75.4,470.2 L75.6,473.6 L75.9,469.4 L76.0,432.4 L76.3,411.9 L76.5,402.3 L76.7,414.9 L76.9,434.2 L77.2,451.3 L77.4,451.6 L77.6,434.0 L77.8,415.1 L78.0,398.0 L78.1,397.0 L78.3,407.9 L78.6,436.4 L78.8,449.2 L78.9,451.8 L79.2,439.4 L79.4,416.9 L79.6,407.9 L79.8,410.4 L80.0,428.4 L80.2,441.7 L80.4,452.0 L80.6,444.1 L80.9,414.5 L81.1,396.5 L81.3,394.0 L81.5,413.2 L81.7,441.5 L82.0,453.6 L82.1,451.3 L82.3,450.9 L82.6,447.0 L82.8,442.1 L83.0,439.3 L83.2,440.9 L83.4,444.7 L83.7,452.1 L83.9,449.1 L84.1,457.7 L84.3,449.3 L84.5,446.1 L84.7,449.7 L84.9,458.4 L85.1,467.0 L85.4,465.8 L85.6,462.2 L85.8,447.0 L86.0,433.1 L86.2,430.2 L86.4,438.1 L86.6,453.1 L86.8,464.1 L87.0,465.3 L87.2,468.5 L87.4,463.5 L87.6,453.3 L87.9,441.0 L88.1,439.7 L88.2,445.3 L88.5,459.2 L88.7,466.2 L88.9,460.9 L89.1,448.3 L89.3,433.2 L89.5,431.0 L89.6,436.9 L89.8,451.6 L90.0,478.1 L90.3,478.5 L90.5,474.2 L90.8,478.8 L91.0,478.7 L91.3,478.7 L91.5,478.5 L91.8,478.8 L92.0,478.8 L92.2,478.8 L92.4,473.7 L92.6,477.0 L92.8,476.4 L93.1,478.2 L93.2,475.7 L93.5,478.8 L93.6,477.5 L93.9,478.8 L94.1,475.8 L94.3,478.8 L94.5,478.3 L94.7,478.8 L94.9,478.8 L95.0,478.1 L95.3,478.8 L95.5,478.8 L95.8,478.8 L95.9,478.6 L96.2,478.8 L96.4,474.2 L96.5,478.8 L96.7,478.2 L96.9,478.8 L97.2,478.7 L97.4,478.8 L97.6,478.5 L97.8,478.0 L98.0,476.4 L98.2,478.8 L98.4,478.8 L98.7,474.0 L98.8,478.8 L99.0,476.2 L99.2,473.6 L99.4,477.6 L99.6,478.8 L99.8,477.7 L100.0,478.8 L100.2,474.3 L100.4,478.6 L100.6,478.8 L100.8,478.8 L101.0,474.6 L101.2,478.8 L101.5,478.5 L101.6,478.5 L101.8,478.5 L102.1,478.8 L102.3,478.8 L102.5,478.8 L102.8,478.8 L103.0,478.7 L103.2,478.4 L103.4,477.4 L103.6,477.3 L103.8,478.8 L104.0,478.8 L104.3,478.8 L104.5,478.3 L104.7,477.8 L104.9,478.8 L105.1,468.2 L105.3,469.1 L105.6,456.3 L105.8,445.6 L106.0,444.8 L106.3,458.0 L106.5,466.3 L106.6,472.2 L106.8,470.4 L107.0,471.8 L107.3,469.8 L107.4,466.1 L107.6,462.7 L107.8,462.5 L108.1,464.8 L108.3,468.6 L108.5,471.3 L108.7,470.3 L108.9,464.9 L109.1,454.9 L109.3,443.9 L109.5,444.1 L109.7,453.5 L109.9,461.4 L110.1,467.0 L110.4,461.4 L110.6,457.7 L110.8,457.6 L110.9,457.9 L111.2,462.0 L111.4,466.5 L111.6,466.6 L111.8,466.7 L112.0,460.5 L112.2,450.2 L112.4,441.7 L112.6,444.7 L112.8,448.6 L113.0,458.3 L113.2,464.8 L113.4,467.2 L113.5,466.4 L113.8,465.1 L114.0,460.4 L114.3,456.4 L114.5,459.7 L114.7,461.4 L114.9,467.3 L115.1,468.4 L115.3,468.3 L115.5,467.1 L115.7,463.4 L116.0,460.9 L116.1,475.4 L116.4,478.7 L116.6,478.8 L116.8,477.8 L117.0,477.3 L117.3,476.9 L117.5,478.1 L117.7,478.7 L117.9,478.8 L118.2,478.8 L118.4,478.8 L118.6,478.8 L118.7,478.8 L118.9,478.8 L119.1,474.0 L119.3,474.7 L119.5,478.8 L119.7,477.3 L119.9,478.7 L120.1,478.5 L120.3,478.7 L120.6,478.8 L120.8,478.5 L121.0,478.4 L121.2,478.7 L121.4,477.1 L121.6,478.8 L121.8,478.2 L122.0,478.8 L122.3,478.7 L122.4,478.7 L122.6,478.8 L122.8,478.8 L123.1,478.8 L123.3,478.8 L123.5,477.9 L123.7,475.9 L123.9,478.7 L124.1,478.8 L124.3,476.5 L124.5,478.6 L124.8,478.7 L125.0,478.7 L125.2,478.7 L125.5,478.8 L125.7,478.8 L125.9,478.8 L126.1,475.2 L126.2,478.2 L126.4,478.8 L126.6,478.8 L126.9,476.1 L127.1,453.3 L127.4,441.9 L127.6,439.4 L127.8,449.0 L128.1,462.0 L128.3,466.0 L128.6,464.6 L128.8,454.5 L129.0,450.1 L129.2,450.3 L129.4,456.2 L129.6,461.1 L129.8,467.5 L130.1,465.1 L130.3,456.8 L130.5,450.4 L130.7,445.7 L130.9,451.0 L131.1,460.3 L131.4,466.0 L131.6,467.8 L131.8,467.3 L132.1,463.3 L132.3,459.1 L132.5,459.2 L132.7,458.8 L132.9,465.6 L133.1,468.5 L133.3,467.9 L133.6,459.1 L133.8,449.2 L133.9,438.9 L134.2,428.3 L134.4,443.4 L134.6,457.3 L134.8,463.3 L135.0,461.6 L135.2,460.4 L135.4,449.0 L135.6,437.4 L135.9,435.0 L136.1,445.1 L136.3,456.9 L136.5,461.4 L136.7,451.4 L136.9,438.4 L137.1,425.4 L137.3,426.5 L137.5,441.7 L137.7,455.8 L137.9,461.6 L138.2,460.8 L138.4,455.9 L138.5,444.1 L138.7,434.6 L138.9,429.7 L139.1,434.0 L139.3,449.4 L139.5,461.3 L139.8,462.6 L140.0,456.2 L140.3,450.2 L140.5,447.4 L140.8,453.3 L140.9,457.4 L141.2,462.9 L141.4,462.5 L141.6,461.3 L141.8,455.8 L142.1,458.8 L142.3,457.3 L142.5,459.9 L142.7,466.2 L142.9,471.1 L143.1,472.4 L143.3,467.5 L143.5,465.4 L143.7,463.9 L143.8,463.4 L144.0,464.2 L144.2,469.4 L144.5,471.6 L144.6,473.1 L144.8,470.9 L145.0,470.5 L145.2,465.9 L145.4,462.6 L145.6,463.2 L145.9,465.8 L146.1,470.7 L146.3,472.2 L146.5,472.1 L146.8,469.0 L147.0,465.1 L147.2,463.4 L147.4,466.6 L147.7,471.5 L147.9,471.9 L148.1,471.3 L148.3,469.4 L148.5,463.0 L148.7,458.8 L149.0,460.3 L149.2,464.4 L149.4,469.9 L149.7,473.2 L149.9,465.1 L150.1,476.9 L150.3,478.4 L150.5,477.5 L150.8,478.7 L151.0,477.8 L151.2,478.6 L151.5,476.9 L151.7,478.7 L151.9,478.6 L152.1,478.8 L152.3,478.8 L152.6,478.8 L152.8,478.3 L153.0,478.7 L153.2,478.8 L153.4,478.8 L153.6,475.8 L153.8,478.8 L154.0,478.8 L154.2,478.8 L154.5,478.7 L154.7,476.8 L154.9,478.8 L155.2,478.8 L155.3,478.0 L155.6,478.8 L155.8,476.3 L156.0,475.0 L156.2,478.8 L156.5,478.7 L156.7,478.7 L156.8,478.8 L157.1,478.8 L157.3,478.6 L157.5,478.6 L157.7,478.8 L157.9,478.8 L158.2,478.8 L158.4,478.8 L158.6,478.8 L158.8,478.5 L159.0,478.8 L159.2,478.3 L159.4,477.2 L159.6,478.8 L159.8,478.8 L160.0,476.4 L160.2,478.8 L160.5,478.7 L160.7,475.2 L160.9,477.2 L161.2,478.8 L161.4,476.3 L161.6,478.8 L161.8,478.8 L162.0,478.8 L162.2,478.5 L162.5,478.8 L162.7,478.8 L162.9,478.4 L163.2,478.7 L163.3,478.8 L163.5,475.7 L163.7,478.8 L164.0,478.8 L164.2,478.8 L164.4,478.4 L164.6,478.8 L164.8,478.7 L165.1,475.4 L165.3,471.9 L165.6,470.4 L165.8,473.1 L166.0,476.4 L166.2,478.3 L166.4,478.4 L166.6,477.1 L166.8,476.8 L167.0,475.8 L167.2,476.6 L167.4,477.0 L167.7,478.5 L167.9,476.4 L168.1,471.7 L168.3,468.5 L168.6,468.7 L168.7,471.2 L168.9,475.1 L169.2,478.2 L169.4,478.3 L169.6,477.7 L169.8,477.1 L170.1,476.7 L170.2,476.7 L170.5,476.6 L170.7,477.6 L171.0,477.6 L171.2,478.2 L171.4,476.7 L171.6,472.9 L171.8,470.3 L172.0,470.5 L172.3,473.3 L172.5,477.1 L172.7,477.8 L172.9,478.4 L173.1,475.1 L173.3,471.5 L173.5,469.4 L173.7,470.1 L173.9,474.0 L174.1,476.3 L174.3,478.1 L174.6,478.5 L174.8,477.8 L175.1,477.2 L175.3,476.3 L175.5,475.9 L175.7,477.1 L175.9,477.7 L176.1,478.5 L176.4,477.5 L176.5,475.6 L176.7,471.8 L177.0,470.1 L177.2,472.0 L177.4,474.6 L177.6,477.8 L177.9,478.7 L178.1,476.7 L178.4,475.3 L178.6,473.7 L178.9,474.9 L179.1,476.5 L179.4,478.4 L179.6,478.1 L179.8,475.8 L180.0,478.8 L180.3,477.8 L180.5,478.8 L180.8,476.4 L181.0,478.8 L181.3,478.5 L181.4,475.6 L181.7,478.8 L181.9,478.8 L182.1,478.7 L182.3,478.2 L182.5,478.6 L182.7,478.4 L182.9,478.8 L183.1,477.2 L183.3,478.5 L183.5,478.8 L183.7,478.1 L183.9,478.8 L184.2,478.8 L184.4,478.8 L184.6,478.8 L184.8,478.8 L185.0,478.8 L185.3,476.5 L185.4,478.8 L185.6,478.8 L185.9,477.2 L186.2,478.8 L186.4,478.8 L186.6,478.2 L186.8,478.8 L187.0,478.7 L187.1,478.8 L187.4,477.0 L187.6,478.8 L187.9,476.6 L188.1,478.8 L188.3,476.6 L188.6,478.8 L188.8,478.8 L189.0,478.7 L189.2,478.2 L189.5,474.8 L189.7,478.7 L190.0,478.5 L190.2,478.7 L190.4,474.9 L190.7,478.8 L190.9,478.6 L191.1,478.8 L191.3,477.9 L191.4,478.4 L191.6,478.3 L191.9,478.0 L192.1,478.8 L192.3,478.7 L192.5,478.8 L192.7,477.6 L192.9,478.8 L193.1,476.1 L193.3,478.8 L193.5,478.8 L193.7,476.8 L194.0,478.8 L194.2,478.8 L194.4,478.8 L194.6,478.4 L194.8,478.4 L195.0,478.7 L195.2,476.7 L195.4,478.6 L195.7,478.8 L195.9,478.2 L196.1,478.7 L196.3,475.6 L196.5,477.9 L196.7,477.7 L196.9,478.1 L197.1,478.5 L197.4,478.8 L197.6,478.8 L197.8,476.1 L198.0,478.1 L198.3,478.1 L198.5,476.1 L198.7,478.8 L198.9,475.9 L199.1,478.2 L199.3,478.8 L199.6,478.0 L199.8,478.8 L200.0,478.7 L200.2,478.8 L200.5,478.8 L200.7,478.8 L200.9,478.7 L201.2,478.4 L201.4,477.5 L201.6,477.5 L201.8,476.5 L202.1,475.1 L202.3,478.6 L202.5,475.4 L202.7,478.2 L202.9,478.3 L203.1,478.8 L203.4,478.8 L203.6,476.7 L203.8,478.8 L204.1,478.8 L204.3,478.8 L204.5,478.8 L204.6,478.8 L204.9,478.3 L205.1,478.8 L205.3,478.2 L205.6,477.8 L205.8,478.8 L206.0,478.8 L206.2,476.8 L206.4,478.8 L206.6,478.7 L206.8,478.8 L207.0,475.7 L207.3,478.8 L207.5,477.9 L207.8,477.3 L207.9,477.9 L208.2,478.8 L208.4,478.7 L208.7,475.8 L208.9,478.8 L209.1,478.8 L209.4,477.1 L209.6,475.6 L209.8,477.0 L210.0,474.9 L210.2,477.8 L210.4,478.8 L210.7,478.8 L210.9,478.4 L211.1,478.4 L211.4,476.4 L211.6,478.0 L211.9,478.7 L212.1,475.7 L212.2,477.2 L212.4,478.8 L212.7,478.8 L212.9,478.3 L213.1,472.6 L213.4,473.5 L213.5,475.4 L213.7,477.7 L213.9,477.3 L214.1,476.5 L214.4,472.6 L214.6,470.6 L214.8,470.0 L215.1,474.6 L215.3,477.1 L215.5,477.8 L215.7,476.6 L215.9,472.7 L216.1,468.6 L216.3,466.6 L216.5,469.0 L216.7,473.0 L216.9,476.8 L217.1,478.7 L217.3,478.4 L217.5,478.1 L217.7,477.4 L217.9,474.8 L218.2,473.0 L218.4,473.7 L218.6,476.3 L218.8,478.3 L219.0,477.8 L219.2,476.8 L219.4,471.6 L219.6,468.8 L219.8,466.4 L220.0,468.8 L220.3,474.4 L220.5,477.4 L220.7,478.1 L220.9,476.8 L221.1,474.8 L221.4,471.6 L221.6,470.6 L221.7,472.6 L222.0,475.1 L222.1,473.6 L222.4,475.1 L222.6,472.9 L222.8,468.0 L223.0,464.7 L223.2,464.7 L223.4,468.1 L223.6,472.4 L223.8,475.0 L224.0,476.7 L224.2,474.3 L224.4,468.9 L224.7,464.4 L224.9,466.3 L225.1,469.6 L225.4,474.3 L225.6,476.3 L225.8,474.2 L226.0,470.2 L226.2,469.1 L226.5,467.9 L226.7,470.9 L226.9,473.3 L227.2,474.9 L227.3,472.7 L227.5,470.3 L227.7,468.6 L228.0,469.8 L228.2,473.7 L228.4,474.7 L228.6,474.2 L228.8,475.2 L229.0,473.6 L229.2,471.3 L229.5,468.7 L229.7,468.2 L229.9,468.9 L230.1,474.8 L230.3,475.1 L230.5,475.5 L230.7,474.2 L230.9,465.6 L231.2,458.6 L231.4,456.6 L231.6,463.9 L231.8,470.7 L232.0,477.8 L232.3,477.3 L232.5,474.5 L232.7,471.0 L233.0,470.6 L233.1,472.1 L233.3,475.6 L233.5,477.5 L233.8,477.9 L234.0,478.1 L234.2,477.5 L234.5,475.8 L234.7,476.3 L234.8,476.9 L235.1,477.6 L235.3,477.9 L235.5,478.3 L235.7,477.8 L235.8,477.3 L236.0,476.7 L236.3,476.4 L236.4,477.7 L236.7,478.3 L236.9,478.5 L237.2,476.8 L237.4,474.5 L237.6,471.1 L237.8,470.7 L238.0,473.0 L238.2,475.4 L238.4,477.9 L238.6,478.1 L238.8,478.4 L239.0,477.8 L239.2,476.0 L239.4,474.5 L239.6,473.3 L239.9,474.9 L240.0,476.7 L240.3,477.6 L240.5,477.8 L240.7,477.9 L240.9,476.1 L241.1,475.2 L241.3,474.2 L241.5,476.0 L241.8,477.8 L242.0,478.6 L242.1,478.3 L242.4,476.5 L242.5,475.9 L242.7,475.3 L243.0,475.9 L243.2,477.8 L243.4,478.7 L243.6,477.8 L243.9,475.5 L244.1,473.4 L244.3,473.4 L244.5,475.2 L244.8,477.0 L245.0,478.4 L245.2,478.4 L245.4,477.5 L245.7,474.6 L245.9,472.5 L246.1,471.6 L246.2,473.5 L246.5,476.6 L246.7,478.1 L246.9,478.1 L247.2,477.5 L247.4,476.0 L247.6,474.5 L247.8,473.8 L248.1,475.5 L248.3,477.8 L248.5,478.6 L248.8,476.5 L249.0,474.6 L249.2,474.6 L249.4,475.3 L249.7,476.8 L249.9,478.4 L250.1,473.0 L250.3,472.3 L250.5,473.3 L250.7,470.7 L250.9,467.1 L251.2,466.1 L251.4,468.0 L251.6,468.6 L251.8,471.3 L252.0,473.6 L252.3,467.4 L252.5,456.5 L252.8,448.3 L253.0,449.6 L253.3,462.2 L253.5,471.2 L253.7,472.0 L253.9,467.3 L254.1,466.8 L254.3,467.6 L254.6,470.0 L254.8,472.0 L255.0,470.9 L255.2,473.5 L255.3,471.0 L255.5,465.3 L255.8,451.1 L256.0,445.2 L256.2,449.1 L256.3,455.0 L256.5,468.0 L256.7,471.4 L256.9,473.2 L257.1,470.3 L257.3,464.1 L257.5,455.4 L257.7,448.4 L257.9,450.2 L258.1,459.5 L258.4,469.0 L258.6,471.7 L258.8,468.4 L259.0,466.9 L259.2,465.8 L259.4,466.7 L259.7,470.9 L259.9,472.2 L260.2,468.9 L260.4,457.7 L260.6,453.4 L260.8,450.9 L261.0,460.7 L261.2,466.1 L261.4,473.1 L261.7,470.4 L261.9,470.1 L262.1,465.2 L262.3,457.7 L262.6,452.7 L262.8,458.7 L263.0,468.1 L263.3,475.2 L263.5,474.1 L263.7,472.4 L264.0,465.6 L264.2,460.2 L264.4,460.7 L264.6,466.4 L264.8,471.8 L265.0,474.9 L265.3,473.9 L265.5,470.3 L265.7,462.8 L266.0,455.8 L266.1,458.9 L266.4,465.4 L266.6,471.7 L266.8,476.4 L267.0,474.4 L267.2,473.3 L267.4,470.0 L267.5,470.6 L267.8,468.9 L268.0,477.6 L268.3,477.3 L268.5,478.8 L268.7,478.8 L268.9,476.2 L269.1,478.8 L269.3,478.8 L269.6,478.8 L269.7,478.8 L269.9,474.7 L270.1,478.5 L270.3,478.8 L270.5,478.0 L270.7,478.3 L270.9,477.7 L271.0,474.3 L271.2,478.8 L271.5,478.8 L271.7,478.5 L271.9,478.6 L272.1,478.8 L272.4,478.8 L272.6,477.2 L272.8,474.3 L273.0,476.7 L273.3,478.6 L273.5,478.8 L273.7,478.8 L273.9,478.8 L274.1,477.8 L274.3,476.3 L274.5,478.0 L274.8,478.8 L275.0,475.6 L275.2,478.8 L275.4,474.6 L275.6,474.2 L275.8,478.2 L276.1,476.7 L276.3,478.8 L276.5,478.8 L276.8,478.8 L277.0,475.2 L277.3,478.8 L277.5,477.6 L277.6,478.4 L277.9,476.3 L278.1,478.6 L278.3,478.8 L278.6,478.7 L278.8,477.8 L279.1,478.8 L279.3,478.5 L279.5,478.8 L279.7,478.8 L279.9,478.6 L280.1,474.8 L280.4,478.8 L280.6,478.3 L280.8,475.7 L281.0,478.8 L281.2,478.6 L281.4,474.5 L281.6,478.5 L281.8,478.6 L282.0,474.5 L282.3,473.0 L282.5,472.7 L282.7,473.8 L282.9,476.4 L283.1,476.9 L283.3,476.5 L283.5,475.4 L283.7,474.0 L283.9,472.4 L284.1,472.4 L284.3,474.1 L284.6,476.4 L284.8,477.4 L285.1,477.0 L285.3,473.1 L285.6,470.6 L285.8,470.0 L286.0,472.9 L286.3,475.4 L286.5,476.6 L286.7,477.1 L286.9,476.2 L287.2,472.9 L287.4,472.2 L287.6,471.8 L287.9,475.1 L288.1,476.9 L288.3,477.5 L288.5,477.4 L288.7,475.9 L288.9,474.3 L289.0,473.7 L289.2,473.1 L289.4,474.9 L289.7,476.0 L289.9,475.1 L290.2,476.2 L290.4,478.8 L290.6,473.8 L290.8,477.7 L291.0,478.8 L291.3,478.6 L291.5,478.7 L291.7,478.4 L291.9,477.9 L292.1,478.8 L292.4,478.6 L292.6,478.2 L292.9,476.3 L293.1,478.4 L293.3,478.8 L293.5,478.4 L293.8,477.7 L294.0,478.8 L294.2,475.7 L294.4,474.2 L294.6,478.8 L294.8,476.0 L295.0,478.3 L295.2,478.8 L295.5,478.8 L295.7,478.7 L295.9,478.2 L296.1,478.8 L296.3,478.7 L296.5,478.4 L296.7,478.8 L296.9,478.8 L297.1,478.8 L297.3,478.5 L297.5,478.8 L297.7,478.7 L297.9,478.8 L298.1,478.7 L298.4,478.8 L298.6,477.6 L298.8,477.9 L299.0,478.8 L299.2,478.4 L299.4,478.8 L299.6,476.0 L299.8,476.9 L300.0,478.6 L300.2,478.8 L300.5,477.3 L300.6,478.7 L300.9,478.8 L301.1,478.2 L301.3,473.8 L301.5,478.8 L301.7,478.7 L301.8,477.9 L302.0,478.8 L302.2,477.8 L302.4,475.8 L302.6,478.8 L302.9,478.3 L303.1,478.8 L303.3,476.6 L303.5,478.8 L303.8,478.8 L304.0,478.8 L304.3,478.8 L304.5,478.8 L304.7,478.8 L304.9,478.2 L305.1,475.2 L305.3,478.6 L305.5,477.9 L305.7,475.7 L305.9,476.1 L306.2,474.8 L306.4,473.8 L306.6,478.3 L306.8,478.8 L307.0,478.8 L307.2,478.6 L307.4,478.7 L307.6,478.8 L307.8,478.8 L308.0,478.8 L308.3,478.5 L308.5,476.6 L308.7,477.0 L309.0,478.0 L309.1,478.8 L309.3,478.0 L309.6,478.8 L309.8,478.5 L310.0,478.8 L310.2,477.3 L310.4,478.0 L310.6,478.8 L310.8,478.8 L311.0,478.8 L311.3,478.0 L311.5,478.1 L311.7,478.1 L311.9,478.6 L312.1,478.8 L312.3,474.1 L312.5,474.2 L312.7,478.8 L313.0,478.8 L313.2,475.2 L313.4,478.8 L313.6,478.7 L313.9,477.9 L314.1,478.8 L314.3,478.8 L314.5,478.8 L314.7,478.8 L314.9,478.8 L315.1,478.3 L315.3,477.5 L315.5,475.4 L315.7,478.5 L315.9,478.4 L316.2,478.8 L316.5,478.8 L316.7,478.8 L316.9,476.7 L317.1,477.2 L317.3,477.1 L317.5,476.6 L317.7,474.1 L317.9,475.9 L318.1,478.0 L318.3,476.0 L318.6,478.0 L318.8,478.8 L318.9,477.9 L319.2,475.6 L319.4,477.4 L319.6,478.8 L319.9,476.3 L320.2,478.6 L320.3,476.6 L320.6,478.8 L320.7,478.8 L320.9,478.8 L321.1,478.8 L321.3,478.6 L321.5,474.8 L321.7,478.7 L321.9,478.3 L322.1,478.7 L322.4,478.0 L322.6,477.8 L322.8,478.3 L323.1,475.2 L323.3,478.2 L323.5,478.0 L323.7,476.1 L324.0,478.3 L324.2,475.6 L324.4,478.4 L324.6,478.8 L324.8,478.7 L325.0,474.3 L325.2,478.8 L325.4,475.3 L325.6,478.6 L325.8,478.8 L326.0,477.7 L326.3,478.8 L326.5,477.5 L326.7,478.8 L327.0,478.8 L327.2,478.8 L327.4,478.1 L327.6,478.8 L327.8,478.8 L328.0,478.0 L328.2,478.8 L328.4,478.6 L328.6,478.7 L328.8,478.3 L329.1,478.7 L329.3,474.7 L329.6,478.8 L329.8,477.3 L330.0,478.8 L330.3,478.4 L330.5,478.8 L330.7,478.0 L330.9,478.8 L331.2,478.4 L331.4,477.5 L331.7,475.7 L331.9,478.8 L332.1,476.3 L332.4,476.1 L332.6,478.8 L332.8,478.5 L333.1,476.5 L333.4,478.7 L333.5,478.8 L333.8,478.8 L334.0,478.8 L334.2,478.8 L334.4,474.8 L334.6,478.8 L334.9,474.9 L335.1,478.8 L335.3,478.8 L335.6,474.8 L335.9,478.7 L336.1,478.6 L336.4,477.6 L336.5,478.8 L336.8,478.8 L337.0,478.6 L337.1,478.8 L337.3,477.7 L337.6,478.8 L337.8,478.8 L338.0,478.8 L338.2,478.8 L338.4,476.8 L338.6,474.0 L338.9,478.6 L339.1,475.1 L339.4,474.7 L339.6,478.8 L339.8,475.8 L340.1,477.7 L340.3,478.7 L340.5,478.7 L340.8,478.3 L341.0,478.5 L341.1,478.8 L341.4,477.5 L341.6,477.9 L341.8,477.7 L342.0,475.6 L342.3,478.8 L342.5,477.6 L342.7,478.8 L342.9,478.1 L343.1,470.3 L343.3,467.9 L343.6,467.4 L343.7,470.3 L343.9,473.5 L344.2,476.0 L344.4,474.5 L344.6,470.7 L344.8,466.8 L345.0,462.1 L345.1,463.6 L345.3,467.2 L345.5,471.8 L345.7,476.0 L345.9,476.3 L346.2,473.8 L346.4,469.8 L346.6,466.6 L346.8,464.3 L347.0,467.8 L347.3,473.5 L347.5,475.3 L347.7,474.4 L347.9,468.3 L348.1,464.1 L348.4,463.4 L348.6,469.3 L348.9,474.3 L349.0,478.6 L349.2,478.7 L349.4,477.8 L349.7,478.8 L349.9,478.8 L350.1,477.3 L350.3,476.7 L350.5,478.7 L350.8,478.6 L350.9,478.7 L351.2,478.7 L351.4,478.8 L351.6,478.6 L351.8,478.8 L352.1,478.8 L352.3,478.5 L352.5,478.6 L352.7,478.8 L352.9,478.8 L353.1,475.0 L353.4,474.0 L353.6,478.8 L353.8,477.3 L354.1,478.8 L354.3,478.8 L354.5,478.1 L354.7,475.3 L354.9,478.8 L355.2,478.8 L355.4,478.8 L355.5,478.8 L355.7,478.5 L356.0,475.9 L356.2,478.0 L356.4,478.6 L356.7,478.7 L356.9,478.8 L357.1,477.6 L357.2,477.3 L357.4,478.8 L357.6,475.7 L357.9,474.4 L358.0,474.5 L358.2,475.3 L358.5,478.8 L358.7,476.4 L358.9,478.3 L359.1,478.8 L359.3,477.4 L359.4,476.9 L359.6,478.8 L359.9,478.8 L360.1,478.8 L360.3,478.8 L360.4,478.8 L360.7,478.8 L360.9,474.4 L361.1,475.9 L361.3,476.8 L361.6,478.8 L361.8,478.5 L362.0,476.8 L362.2,478.5 L362.4,478.8 L362.6,478.8 L362.8,478.1 L363.0,478.8 L363.3,478.8 L363.5,478.8 L363.7,478.7 L363.9,478.7 L364.2,478.8 L364.4,478.8 L364.6,474.1 L364.8,474.0 L365.0,467.8 L365.2,472.9 L365.5,476.4 L365.7,476.4 L365.9,474.2 L366.1,471.3 L366.3,469.2 L366.6,469.4 L366.8,471.3 L367.0,474.5 L367.2,476.1 L367.5,472.7 L367.8,470.1 L368.0,468.5 L368.2,471.2 L368.4,474.3 L368.6,476.6 L368.8,475.9 L369.1,475.3 L369.3,474.3 L369.6,473.0 L369.8,472.6 L370.0,474.5 L370.2,476.0 L370.4,476.6 L370.6,473.2 L370.8,470.1 L371.1,465.4 L371.3,466.4 L371.5,470.7 L371.7,473.6 L371.9,476.5 L372.1,476.1 L372.3,475.1 L372.5,470.4 L372.8,465.4 L373.0,465.3 L373.3,470.7 L373.5,475.2 L373.7,476.3 L373.9,474.5 L374.1,464.5 L374.3,458.6 L374.6,455.8 L374.8,462.1 L375.0,468.3 L375.3,473.2 L375.5,472.5 L375.7,468.6 L375.9,460.3 L376.1,453.1 L376.3,452.7 L376.5,457.4 L376.7,467.3 L376.9,470.6 L377.2,473.1 L377.3,467.4 L377.6,455.5 L377.9,444.5 L378.1,449.8 L378.3,456.0 L378.5,468.9 L378.7,473.0 L378.9,466.1 L379.2,457.0 L379.4,450.9 L379.6,453.4 L379.8,462.2 L380.0,468.9 L380.3,473.3 L380.5,471.6 L380.7,469.9 L380.8,467.1 L381.0,465.5 L381.3,464.1 L381.6,469.6 L381.8,471.1 L382.0,472.0 L382.2,463.8 L382.4,455.3 L382.6,450.5 L382.8,452.9 L383.0,471.1 L383.3,475.3 L383.5,475.4 L383.7,476.2 L383.9,474.5 L384.1,470.5 L384.3,468.5 L384.6,468.3 L384.8,471.6 L385.0,475.9 L385.2,475.7 L385.4,475.1 L385.6,471.7 L385.9,468.2 L386.1,466.8 L386.4,469.2 L386.6,473.6 L386.8,475.0 L387.0,476.3 L387.1,475.7 L387.3,474.7 L387.5,472.5 L387.8,470.5 L388.0,470.4 L388.2,471.9 L388.4,474.7 L388.6,476.0 L388.9,472.3 L389.1,469.7 L389.3,467.4 L389.5,468.4 L389.7,472.2 L389.9,475.2 L390.2,476.5 L390.4,476.4 L390.6,474.7 L390.8,470.1 L391.0,466.9 L391.2,465.4 L391.4,468.0 L391.6,471.4 L391.8,475.3 L392.0,476.2 L392.2,475.8 L392.5,471.8 L392.7,468.6 L392.9,466.5 L393.0,468.1 L393.2,470.8 L393.5,475.1 L393.7,476.5 L394.0,474.3 L394.3,470.3 L394.5,466.4 L394.6,467.3 L394.8,468.8 L395.1,474.3 L395.3,475.4 L395.5,475.6 L395.8,475.3 L396.0,473.8 L396.1,473.2 L396.3,473.6 L396.5,474.3 L396.8,475.1 L397.0,475.4 L397.2,475.8 L397.4,474.6 L397.5,473.4 L397.7,471.9 L398.0,472.1 L398.2,474.0 L398.4,476.0 L398.7,475.1 L398.9,472.6 L399.1,470.7 L399.3,468.8 L399.5,470.3 L399.7,473.0 L399.9,475.7 L400.1,478.8 L400.4,478.8 L400.6,477.9 L400.7,478.5 L400.9,475.3 L401.2,478.8 L401.3,476.8 L401.6,474.8 L401.8,478.8 L402.0,477.6 L402.2,478.8 L402.4,477.0 L402.7,478.7 L402.9,478.8 L403.1,478.6 L403.4,478.4 L403.5,478.3 L403.7,478.8 L403.9,478.8 L404.2,478.8 L404.4,478.3 L404.6,478.7 L404.8,478.0 L405.0,478.8 L405.2,478.5 L405.4,478.8 L405.6,478.8 L405.8,478.8 L406.1,478.8 L406.3,478.4 L406.5,476.3 L406.7,478.3 L406.9,478.8 L407.2,478.8 L407.4,478.3 L407.6,478.5 L407.8,478.8 L408.0,478.8 L408.3,478.8 L408.5,478.7 L408.7,477.9 L408.9,475.9 L409.1,478.8 L409.3,478.6 L409.5,478.5 L409.7,478.7 L409.9,478.2 L410.2,478.8 L410.4,476.7 L410.6,478.8 L410.8,475.8 L411.0,478.8 L411.2,478.8 L411.4,477.2 L411.6,478.8 L411.8,478.7 L412.1,478.6 L412.3,478.8 L412.5,478.8 L412.8,476.9 L413.0,475.0 L413.2,478.8 L413.4,475.4 L413.6,478.8 L413.8,478.8 L414.0,478.4 L414.2,478.7 L414.5,478.5 L414.7,478.8 L414.9,478.1 L415.1,478.8 L415.3,478.8 L415.6,478.4 L415.8,477.4 L416.0,478.7 L416.2,477.9 L416.5,477.4 L416.6,478.8 L416.8,478.1 L417.1,478.1 L417.3,478.8 L417.5,478.8 L417.7,478.4 L417.9,478.8 L418.1,478.7 L418.3,478.8 L418.5,478.6 L418.7,477.8 L418.9,478.6 L419.1,474.5 L419.3,474.4 L419.5,475.6 L419.7,476.4 L419.9,477.4 L420.1,476.8 L420.3,476.3 L420.5,476.2 L420.7,475.0 L421.0,475.2 L421.2,476.8 L421.4,476.9 L421.6,477.8 L421.8,476.2 L422.1,474.2 L422.3,472.3 L422.4,471.8 L422.7,472.6 L422.9,475.7 L423.1,476.6 L423.4,476.6 L423.6,476.5 L423.9,473.3 L424.0,467.9 L424.3,468.9 L424.5,472.6 L424.7,473.6 L424.9,474.7 L425.2,475.1 L425.4,473.1 L425.6,467.9 L425.9,465.1 L426.1,466.9 L426.3,469.2 L426.5,473.7 L426.7,474.8 L426.9,470.6 L427.1,467.2 L427.3,464.9 L427.5,466.5 L427.7,470.2 L427.9,474.0 L428.2,475.0 L428.4,473.5 L428.6,470.6 L428.8,469.2 L429.0,469.2 L429.2,470.6 L429.4,474.3 L429.6,475.7 L429.8,475.2 L430.1,471.1 L430.3,465.1 L430.5,461.0 L430.7,461.9 L430.9,467.1 L431.2,473.2 L431.4,474.9 L431.6,474.7 L431.9,475.1 L432.1,465.0 L432.2,464.7 L432.5,461.1 L432.7,465.2 L432.9,466.4 L433.1,469.0 L433.3,468.2 L433.5,460.8 L433.8,452.3 L434.0,451.2 L434.2,457.4 L434.4,465.1 L434.6,468.7 L434.8,467.9 L435.0,470.4 L435.2,466.7 L435.4,461.4 L435.6,455.8 L435.8,454.6 L436.1,462.0 L436.3,467.2 L436.5,468.4 L436.7,463.2 L436.9,457.0 L437.1,449.5 L437.3,454.2 L437.6,462.8 L437.8,467.6 L438.1,468.0 L438.3,467.3 L438.5,464.4 L438.7,461.3 L438.9,458.1 L439.2,461.7 L439.3,464.7 L439.5,466.9 L439.8,463.2 L439.9,452.8 L440.2,436.1 L440.4,433.0 L440.6,441.9 L440.9,459.6 L441.1,467.6 L441.3,469.3 L441.5,466.8 L441.7,458.9 L442.0,452.5 L442.2,451.3 L442.4,460.1 L442.6,466.1 L442.8,470.2 L443.0,475.9 L443.3,475.9 L443.5,475.5 L443.7,474.9 L443.9,473.5 L444.1,473.2 L444.3,474.2 L444.6,476.0 L444.7,476.3 L445.0,475.7 L445.1,472.3 L445.4,469.6 L445.6,468.6 L445.8,470.4 L446.0,473.3 L446.2,475.7 L446.5,474.8 L446.7,473.8 L446.9,472.7 L447.2,478.4 L447.4,478.8 L447.6,477.4 L447.8,477.4 L448.0,477.5 L448.2,478.8 L448.5,478.0 L448.6,478.3 L448.9,478.8 L449.1,478.8 L449.3,478.3 L449.5,478.8 L449.7,478.7 L449.9,478.8 L450.1,478.8 L450.3,478.8 L450.6,478.8 L450.8,478.8 L451.0,474.7 L451.2,478.8 L451.4,477.1 L451.6,478.6 L451.9,477.4 L452.1,473.9 L452.3,477.6 L452.6,477.6 L452.8,478.4 L453.0,478.8 L453.2,478.8 L453.4,478.8 L453.7,474.4 L453.8,478.8 L454.1,476.7 L454.3,476.8 L454.5,478.5 L454.7,478.7 L454.9,478.8 L455.1,478.8 L455.3,478.8 L455.5,478.1 L455.7,478.8 L455.9,478.8 L456.1,478.8 L456.3,478.8 L456.5,478.7 L456.8,478.8 L457.0,478.8 L457.1,478.7 L457.4,478.4 L457.6,478.8 L457.8,477.3 L458.1,477.1 L458.3,474.2 L458.6,478.8 L458.7,478.8 L458.9,478.5 L459.1,478.8 L459.4,478.3 L459.6,478.6 L459.8,478.8 L460.0,478.8 L460.3,478.1 L460.5,478.4 L460.7,478.7 L460.9,478.8 L461.2,475.5 L461.4,478.8 L461.6,478.3 L461.8,478.8 L462.1,478.1 L462.4,477.5 L462.6,478.5 L462.8,478.8 L463.0,476.4 L463.2,478.5 L463.4,477.0 L463.6,478.8 L463.8,477.4 L464.1,478.8 L464.2,478.8 L464.4,478.6 L464.6,478.6 L464.8,478.2 L465.0,475.6 L465.2,478.8 L465.4,478.8 L465.7,478.8 L465.9,478.3 L466.1,478.8 L466.3,476.6 L466.5,478.8 L466.6,478.8 L466.9,477.4 L467.1,475.4 L467.4,473.8 L467.5,478.6 L467.8,478.7 L468.0,477.3 L468.2,449.6 L468.4,447.3 L468.6,453.4 L468.9,465.5 L469.1,473.3 L469.3,472.9 L469.5,473.1 L469.7,470.1 L469.9,466.4 L470.1,456.3 L470.3,450.3 L470.5,450.0 L470.7,458.1 L470.9,470.6 L471.2,472.3 L471.4,465.9 L471.7,458.4 L471.9,455.3 L472.1,433.6 L472.3,449.5 L472.6,460.9 L472.8,460.2 L473.0,454.9 L473.2,446.2 L473.3,438.2 L473.5,436.9 L473.8,441.6 L474.0,454.2 L474.2,462.3 L474.4,457.5 L474.6,432.7 L474.8,411.6 L475.1,408.5 L475.3,431.7 L475.5,449.2 L475.8,462.4 L476.0,461.1 L476.2,456.3 L476.4,437.2 L476.6,410.9 L476.8,400.6 L477.1,414.6 L477.3,442.0 L477.5,461.1 L477.7,462.5 L478.0,459.1 L478.2,455.0 L478.4,449.5 L478.6,448.6 L478.8,451.8 L479.1,458.2 L479.3,463.5 L479.5,459.2 L479.8,446.3 L480.0,430.2 L480.2,443.3 L480.4,445.8 L480.6,454.1 L480.8,465.5 L481.0,468.7 L481.2,464.5 L481.4,458.7 L481.6,448.0 L481.8,441.2 L482.0,445.8 L482.3,456.9 L482.5,465.3 L482.8,464.5 L482.9,462.3 L483.1,457.9 L483.3,456.5 L483.5,458.1 L483.8,463.7 L484.0,467.9 L484.2,468.0 L484.4,467.2 L484.6,460.0 L484.8,448.5 L485.0,440.2 L485.2,443.6 L485.5,453.3 L485.7,461.8 L485.9,464.4 L486.1,457.8 L486.3,440.0 L486.5,430.7 L486.7,437.0 L487.0,451.6 L487.2,463.3 L487.4,466.9 L487.6,467.6 L487.9,465.1 L488.0,457.6 L488.3,451.8 L488.5,450.5 L488.7,455.6 L489.0,464.1 L489.2,467.9 L489.5,464.1 L489.7,457.4 L489.9,447.6 L490.1,469.7 L490.3,471.1 L490.5,474.2 L490.8,475.7 L491.0,475.6 L491.2,474.7 L491.4,471.7 L491.6,471.9 L491.9,471.4 L492.1,473.3 L492.3,475.5 L492.5,475.5 L492.8,472.3 L493.0,470.9 L493.3,471.6 L493.5,473.3 L493.8,475.7 L494.0,475.5 L494.2,473.9 L494.4,468.4 L494.7,463.4 L494.9,462.5 L495.1,466.6 L495.3,472.1 L495.5,476.5 L495.8,476.1 L496.0,473.0 L496.2,469.7 L496.4,468.7 L496.7,471.0 L496.9,473.2 L497.0,475.8 L497.2,475.6 L497.5,474.9 L497.7,471.2 L497.9,464.5 L498.1,462.0 L498.3,463.7 L498.6,469.4 L498.7,474.0 L499.0,476.0 L499.2,476.3 L499.4,471.0 L499.6,467.7 L499.8,462.8 L500.0,445.8 L500.2,457.1 L500.4,465.5 L500.6,472.5 L500.9,473.2 L501.1,468.3 L501.3,463.8 L501.5,453.2 L501.7,452.8 L501.9,458.4 L502.2,468.9 L502.4,472.3 L502.6,468.0 L502.8,463.0 L503.1,461.9 L503.3,465.2 L503.5,469.8 L503.7,473.3 L503.9,473.3 L504.1,472.7 L504.3,463.4 L504.6,448.8 L504.8,442.6 L505.0,449.4 L505.2,459.0 L505.4,470.0 L505.7,470.4 L505.8,473.5 L506.1,468.8 L506.3,462.3 L506.5,458.5 L506.7,455.5 L506.8,460.0 L507.0,464.9 L507.2,468.7 L507.4,472.1 L507.6,471.8 L507.9,464.4 L508.1,459.3 L508.3,456.6 L508.5,462.5 L508.7,465.7 L508.9,471.1 L509.1,471.1 L509.3,470.0 L509.5,467.0 L509.7,460.6 L510.0,460.3 L510.2,446.8 L510.4,456.1 L510.6,458.9 L510.8,449.4 L511.0,435.0 L511.2,418.3 L511.4,417.9 L511.6,433.4 L511.8,451.2 L512.1,460.7 L512.3,460.6 L512.4,452.0 L512.6,443.8 L512.9,436.0 L513.1,442.2 L513.3,450.4 L513.5,461.8 L513.7,463.2 L514.0,461.8 L514.2,461.9 L514.4,454.9 L514.6,447.6 L514.8,443.0 L515.0,446.4 L515.2,456.7 L515.5,462.5 L515.7,457.9 L515.8,449.4 L516.1,438.8 L516.3,435.9 L516.5,443.4 L516.7,456.5 L517.0,463.1 L517.2,461.0 L517.4,461.9 L517.6,456.6 L517.8,451.3 L518.1,449.6 L518.3,453.3 L518.5,459.4 L518.8,461.4 L519.0,458.4 L519.2,442.9 L519.5,432.8 L519.7,433.3 L519.9,441.8 L520.1,441.9 L520.3,451.7 L520.5,446.4 L520.8,434.8 L520.9,422.8 L521.1,416.4 L521.3,419.3 L521.5,434.3 L521.8,449.4 L522.0,450.4 L522.2,450.4 L522.5,436.5 L522.7,428.5 L522.9,425.9 L523.2,436.1 L523.4,447.5 L523.7,451.1 L523.8,445.2 L524.0,427.1 L524.3,402.7 L524.5,395.1 L524.7,410.8 L525.0,439.6 L525.2,450.8 L525.4,451.6 L525.6,448.7 L525.8,430.0 L526.0,407.2 L526.2,394.2 L526.5,398.1 L526.7,429.6 L527.0,451.6 L527.2,452.7 L527.4,445.3 L527.7,420.1 L527.9,388.8 L528.1,382.5 L528.4,408.3 L528.5,431.1 L528.8,451.0 L529.0,445.5 L529.2,426.7 L529.4,415.3 L529.6,411.1 L529.8,422.9 L530.0,437.8 L530.2,451.2 L530.4,452.2 L530.6,447.5 L530.8,435.1 L531.1,425.0 L531.3,429.3 L531.6,442.2 L531.8,449.0 L531.9,452.7 L532.2,455.7 L532.4,442.1 L532.6,413.1 L532.8,387.6 L533.1,392.3 L533.3,419.9 L533.5,449.3 L533.7,456.2 L533.9,447.1 L534.1,429.3 L534.3,402.8 L534.6,396.9 L534.8,418.4 L535.0,440.2 L535.2,455.2 L535.5,458.0 L535.7,448.0 L535.9,436.2 L536.1,431.2 L536.3,432.3 L536.6,443.9 L536.8,454.3 L537.0,457.3 L537.2,456.8 L537.4,439.7 L537.6,407.4 L537.9,380.7 L538.1,389.3 L538.4,422.6 L538.6,457.9 L538.9,456.2 L539.1,445.9 L539.3,439.1 L539.6,436.7 L539.7,439.5 L540.0,453.0 L540.2,455.8 L540.5,451.6 L540.7,419.0 L540.9,392.4 L541.2,381.1 L541.4,408.5 L541.7,443.2 L541.9,458.3 L542.1,470.1 L542.3,463.3 L542.5,452.9 L542.7,450.6 L543.0,455.5 L543.2,462.9 L543.4,470.2 L543.6,470.8 L543.8,458.3 L544.0,444.4 L544.2,436.5 L544.4,438.2 L544.6,451.0 L544.8,463.4 L545.0,473.1 L545.2,473.2 L545.4,469.4 L545.6,458.8 L545.8,448.2 L546.1,441.5 L546.3,452.8 L546.6,465.4 L546.8,473.0 L546.9,461.7 L547.2,447.0 L547.3,437.6 L547.6,435.7 L547.8,450.4 L548.0,463.7 L548.2,471.0 L548.5,469.9 L548.7,461.9 L549.0,442.1 L549.2,436.7 L549.4,443.9 L549.6,459.8 L549.8,469.0 L550.0,472.4 L550.2,463.1 L550.5,442.8 L550.7,432.1 L550.9,432.2 L551.1,444.8 L551.3,466.1 L551.6,471.0 L551.8,471.1 L552.0,466.4 L552.3,458.7 L552.5,453.7 L552.8,459.6 L553.0,467.4 L553.2,471.5 L553.4,471.6 L553.5,467.7 L553.7,451.9 L553.9,431.4 L554.1,420.4 L554.3,425.2 L554.6,448.5 L554.8,467.8 L555.0,471.9 L555.2,469.7 L555.5,457.9 L555.7,447.5 L556.0,446.1 L556.2,455.7 L556.4,463.9 L556.7,471.5 L556.9,462.1 L557.1,446.8 L557.4,434.5 L557.6,439.9 L557.9,457.7 L558.0,467.6 L558.2,472.4 L558.5,469.6 L558.7,463.5 L559.0,452.8 L559.2,445.5 L559.3,444.0 L559.6,453.8 L559.8,464.2 L560.0,472.6 L560.2,466.6 L560.5,452.0 L560.7,444.2 L560.9,445.8 L561.1,455.8 L561.4,470.3 L561.6,473.4 L561.9,462.6 L562.1,443.7 L562.3,429.6 L562.5,429.0 L562.7,438.9 L562.8,454.2 L563.0,470.1 L563.2,472.1 L563.5,472.4 L563.7,458.9 L563.9,439.9 L564.1,433.1 L564.3,439.3 L564.6,458.2 L564.8,470.1 L565.0,473.1 L565.3,469.1 L565.5,458.3 L565.7,442.9 L565.9,439.8 L566.1,446.9 L566.4,463.8 L566.6,471.8 L566.9,473.4 L567.1,453.2 L567.3,431.1 L567.5,412.6 L567.8,418.7 L567.9,441.5 L568.1,462.7 L568.4,471.8 L568.6,466.1 L568.8,445.7 L569.0,410.1 L569.2,397.1 L569.4,404.2 L569.7,440.2 L569.9,473.4 L570.1,472.2 L570.3,467.5 L570.5,461.9 L570.7,458.1 L570.9,458.7 L571.1,465.7 L571.3,470.2 L571.5,473.6 L571.7,470.7 L571.9,461.9 L572.1,443.3 L572.3,439.5 L572.5,444.1 L572.7,450.2 L572.9,456.8 L573.2,459.8 L573.4,452.7 L573.6,443.9 L573.8,434.3 L574.0,431.2 L574.2,438.1 L574.3,447.4 L574.6,458.4 L574.8,458.8 L575.0,451.4 L575.2,433.1 L575.4,413.8 L575.6,409.3 L575.9,426.4 L576.1,448.1 L576.4,458.7 L576.6,459.3 L576.8,453.8 L577.1,430.3 L577.3,415.6 L577.4,412.4 L577.7,424.4 L577.9,446.0 L578.1,458.6 L578.3,449.5 L578.5,435.2 L578.7,427.8 L579.0,431.8 L579.2,446.1 L579.4,455.9 L579.7,458.4 L579.8,460.4 L580.0,459.4 L580.2,455.4 L580.5,452.6 L580.6,450.1 L580.8,451.0 L581.0,451.3 L581.2,456.1 L581.4,457.2 L581.7,446.6 L581.9,429.4 L582.1,415.6 L582.3,416.3 L582.5,428.3 L582.7,444.9 L582.9,457.4 L583.0,459.2 L583.2,458.7 L583.4,458.4 L583.6,448.7 L583.8,439.2 L584.0,433.3 L584.3,437.2 L584.5,448.2 L584.7,456.5 L584.9,455.8 L585.1,436.5 L585.3,427.6 L585.5,422.2 L585.7,433.7 L585.9,447.3 L586.1,456.5 L586.4,458.0 L586.6,450.1 L586.9,428.4 L587.1,417.3 L587.3,420.3 L587.4,430.9 L587.6,444.2 L587.8,457.6 L588.1,452.7 L588.3,434.7 L588.5,424.0 L588.8,423.1 L589.0,437.1 L589.2,452.6 L589.4,458.5 L589.6,455.6 L589.8,451.8 L590.1,434.7 L590.3,426.7 L590.5,429.2 L590.7,443.5 L591.0,454.3 L591.2,457.6 L591.5,450.2 L591.7,433.5 L591.9,410.6 L592.1,408.6 L592.3,420.7 L592.6,445.6 L592.8,456.5 L593.1,454.3 L593.2,448.4 L593.4,436.8 L593.6,430.3 L593.9,438.3 L594.2,449.6 L594.4,456.2 L594.6,455.4 L594.9,450.5 L595.1,436.0 L595.3,433.1 L595.5,433.0 L595.7,441.5 L595.9,450.8 L596.1,456.7 L596.3,457.4 L596.5,449.0 L596.7,429.7 L596.9,413.7 L597.1,411.6 L597.3,422.9 L597.5,443.4 L597.7,456.0 L597.9,456.1 L598.1,458.1 L598.3,452.5 L598.5,448.1 L598.7,440.7 L599.0,440.4 L599.2,447.6 L599.4,453.4 L599.6,457.5 L599.8,456.4 L600.0,445.7 L600.2,433.5 L600.4,428.2 L600.6,435.2 L600.8,444.7 L601.1,454.8 L601.3,445.6 L601.5,426.5 L601.7,402.9 L602.0,398.3 L602.2,416.6 L602.4,445.5 L602.6,455.9 L602.8,455.1 L603.0,456.0 L603.2,453.4 L603.4,447.4 L603.7,440.6 L603.9,441.1 L604.2,448.8 L604.4,454.3 L604.6,436.4 L604.9,407.2 L605.1,389.1 L605.3,394.3 L605.5,417.9 L605.7,445.8 L606.0,454.7 L606.2,454.1 L606.4,450.2 L606.6,432.4 L606.8,412.8 L606.9,404.7 L607.2,415.7 L607.4,437.3 L607.6,453.7 L607.9,454.6 L608.1,449.4 L608.3,437.6 L608.5,424.1 L608.7,421.9 L608.9,429.6 L609.1,442.5 L609.3,453.3 L609.5,452.7 L609.7,456.4 L609.9,452.5 L610.1,441.9 L610.3,432.0 L610.5,428.5 L610.8,437.4 L611.0,451.3 L611.3,453.4 L611.4,443.9 L611.6,423.3 L611.9,402.6 L612.0,413.8 L612.3,429.1 L612.5,447.6 L612.7,457.7 L612.9,455.8 L613.0,453.5 L613.2,440.6 L613.4,420.7 L613.7,405.7 L613.9,417.4 L614.2,439.4 L614.3,453.0 L614.5,456.0 L614.7,451.0 L614.9,445.6 L615.1,441.4 L615.3,442.8 L615.6,451.6 L615.8,456.3 L616.0,458.4 L616.2,450.3 L616.4,436.6 L616.7,426.5 L616.9,431.8 L617.1,447.2 L617.4,457.8 L617.7,456.2 L617.9,444.2 L618.1,430.0 L618.3,424.2 L618.6,431.9 L618.8,445.4 L619.0,454.5 L619.2,458.5 L619.4,456.3 L619.6,449.2 L619.8,438.7 L620.0,429.0 L620.2,428.1 L620.4,437.3 L620.6,449.1 L620.8,457.0 L621.0,458.5 L621.2,454.0 L621.5,445.7 L621.7,437.0 L622.0,436.4 L622.2,443.3 L622.4,451.6 L622.6,457.0 L622.8,458.5 L623.0,456.7 L623.2,450.2 L623.4,445.0 L623.6,442.9 L623.8,442.6 L624.0,449.9 L624.2,455.1 L624.5,450.8 L624.6,442.1 L624.8,429.8 L625.0,423.3 L625.2,435.9 L625.4,448.4 L625.7,459.9 L625.9,463.1 L626.1,462.0 L626.2,452.4 L626.4,438.1 L626.6,425.1 L626.8,423.5 L627.1,439.9 L627.2,451.8 L627.5,464.1 L627.7,462.5 L627.9,458.3 L628.1,454.3 L628.3,452.4 L628.5,455.8 L628.8,461.2 L629.0,462.8 L629.2,463.1 L629.4,463.8 L629.6,458.2 L629.9,448.9 L630.1,445.5 L630.3,451.3 L630.5,458.8 L630.8,461.4 L631.0,458.8 L631.1,444.8 L631.4,428.9 L631.6,423.8 L631.8,436.3 L632.0,451.9 L632.2,460.0 L632.5,463.5 L632.6,462.5 L632.9,457.4 L633.1,440.4 L633.3,427.6 L633.5,424.2 L633.7,435.7 L633.9,450.0 L634.1,473.3 L634.3,474.1 L634.5,469.2 L634.6,461.6 L634.8,446.2 L635.1,436.8 L635.3,444.6 L635.5,457.4 L635.6,470.5 L635.9,474.3 L636.1,473.8 L636.4,470.9 L636.6,466.2 L636.8,466.0 L636.9,466.2 L637.1,470.9 L637.4,473.7 L637.6,473.2 L637.8,460.7 L638.0,442.5 L638.2,436.1 L638.5,443.5 L638.7,458.4 L638.8,470.5 L639.0,476.5 L639.3,462.5 L639.5,436.1 L639.7,422.6 L640.0,433.2 L640.3,458.0 L640.5,474.8 L640.7,472.8 L641.0,475.7 L641.2,462.6 L641.4,438.7 L641.6,422.7 L641.8,426.8 L642.0,440.0 L642.2,456.4 L642.4,472.3 L642.6,471.5 L642.8,454.2 L643.1,438.2 L643.3,436.4 L643.5,447.4 L643.6,462.4 L643.9,474.3 L644.1,475.5 L644.3,472.5 L644.5,466.9 L644.7,465.9 L644.9,465.2 L645.1,470.5 L645.3,473.6 L645.6,476.5 L645.7,476.1 L645.9,474.5 L646.1,463.2 L646.4,443.1 L646.6,429.6 L646.8,434.1 L647.0,448.4 L647.2,465.5 L647.4,475.1 L647.6,476.1 L647.8,471.6 L648.0,449.6 L648.2,441.2 L648.5,440.9 L648.7,447.3 L648.9,460.0 L649.0,465.1 L649.3,455.1 L649.5,428.7 L649.8,410.3 L650.0,417.5 L650.2,436.2 L650.4,456.0 L650.6,466.5 L650.8,449.3 L651.1,414.1 L651.3,389.5 L651.5,402.8 L651.7,432.2 L652.0,459.7 L652.2,465.5 L652.4,452.3 L652.6,430.9 L652.9,410.2 L653.1,411.4 L653.3,426.2 L653.5,454.7 L653.8,465.9 L654.0,462.7 L654.2,445.0 L654.4,408.9 L654.7,388.7 L654.9,400.8 L655.1,429.1 L655.3,455.1 L655.5,465.3 L655.7,465.9 L655.9,460.1 L656.1,448.9 L656.2,441.4 L656.4,436.2 L656.7,438.9 L656.9,455.7 L657.1,462.7 L657.4,463.3 L657.5,451.6 L657.8,423.7 L658.0,396.6 L658.2,398.1 L658.4,421.5 L658.6,451.1 L658.9,466.1 L659.1,463.4 L659.3,454.7 L659.5,446.7 L659.7,443.9 L659.9,447.0 L660.2,463.7 L660.4,470.3 L660.6,464.8 L660.9,446.8 L661.1,429.9 L661.3,429.8 L661.5,446.0 L661.8,461.4 L662.0,469.1 L662.2,468.2 L662.4,465.6 L662.7,456.6 L662.9,443.4 L663.0,438.1 L663.2,439.7 L663.5,455.4 L663.7,465.8 L663.9,468.7 L664.1,468.5 L664.3,464.6 L664.5,454.8 L664.7,453.0 L664.9,453.5 L665.1,461.5 L665.4,466.7 L665.6,466.7 L665.8,452.4 L666.1,447.8 L666.3,444.2 L666.5,451.3 L666.7,463.3 L667.0,475.0 L667.2,475.0 L667.4,471.9 L667.6,466.9 L667.8,466.3 L668.1,470.9 L668.3,472.3 L668.4,476.7 L668.7,477.1 L668.9,475.0 L669.1,475.0 L669.3,470.0 L669.5,466.5 L669.8,463.5 L670.0,467.9 L670.2,471.5 L670.4,475.8 L670.6,475.2 L670.9,471.1 L671.1,463.3 L671.3,456.7 L671.5,455.8 L671.7,463.7 L672.0,473.5 L672.2,477.0 L672.4,476.5 L672.6,472.1 L672.8,469.1 L673.1,464.9 L673.3,468.2 L673.5,471.7 L673.7,475.5 L673.8,477.2 L674.1,472.8 L674.3,469.4 L674.5,467.6 L674.7,468.4 L674.9,470.3 L675.1,474.6 L675.3,475.2 L675.5,474.8 L675.7,465.7 L675.9,451.8 L676.2,448.1 L676.4,452.5 L676.6,465.2 L676.8,472.3 L677.0,475.1 L677.3,474.5 L677.5,465.7 L677.7,448.3 L677.9,441.9 L678.1,444.7 L678.4,459.2 L678.5,469.6 L678.7,474.9 L678.9,474.5 L679.2,461.4 L679.3,444.5 L679.5,434.7 L679.8,440.0 L679.9,452.3 L680.2,471.6 L680.4,474.7 L680.6,472.4 L680.8,469.0 L681.0,463.0 L681.2,464.0 L681.4,468.1 L681.6,472.5 L681.8,474.8 L682.0,475.7 L682.2,469.7 L682.5,458.4 L682.7,451.9 L682.9,456.0 L683.1,455.3 L683.3,464.0 L683.5,469.1 L683.8,467.0 L684.0,457.7 L684.2,449.4 L684.4,448.4 L684.6,454.9 L684.8,462.5 L685.0,467.0 L685.3,467.1 L685.5,459.9 L685.7,448.3 L685.9,436.6 L686.1,436.7 L686.3,449.1 L686.6,463.3 L686.8,469.5 L687.0,467.1 L687.1,469.0 L687.3,465.4 L687.6,452.3 L687.7,445.1 L687.9,441.8 L688.2,449.2 L688.3,457.8 L688.5,465.7 L688.8,462.9 L689.0,441.3 L689.3,422.7 L689.5,422.6 L689.7,442.4 L690.0,461.0 L690.2,456.2 L690.4,447.2 L690.6,435.7 L690.8,427.9 L691.0,429.8 L691.3,444.1 L691.5,454.5 L691.7,456.3 L691.9,448.9 L692.1,421.7 L692.3,401.7 L692.5,392.8 L692.6,400.1 L692.9,425.9 L693.1,448.9 L693.3,455.8 L693.6,456.3 L693.8,449.6 L694.1,462.9 L694.2,456.0 L694.4,454.5 L694.6,459.6 L694.9,469.2 L695.1,475.0 L695.3,471.9 L695.5,470.2 L695.7,466.8 L695.9,468.3 L696.2,468.9 L696.4,474.0 L696.6,473.0 L696.8,473.0 L697.1,478.8 L697.3,478.7 L697.5,477.7 L697.7,478.7 L698.0,476.2 L698.2,478.8 L698.4,478.5 L698.7,476.1 L698.8,478.2 L699.0,478.8 L699.2,477.4 L699.5,478.8 L699.7,476.6 L699.9,478.3 L700.2,477.5 L700.4,478.5 L700.6,478.8 L700.8,478.8 L701.1,478.4 L701.3,478.8 L701.5,478.8 L701.7,478.8 L702.0,478.8 L702.2,478.8 L702.4,478.8 L702.6,476.5 L702.8,478.8 L703.0,478.8 L703.2,478.8 L703.5,478.8 L703.7,477.4 L703.9,478.8 L704.2,478.8 L704.4,476.5 L704.6,478.7 L704.8,475.9 L705.1,478.8" fill="none" stroke="#0a0af6" stroke-width="1.25" stroke-linejoin="round"/>
<rect x="72.2" y="258.6" width="633.5" height="231.79999999999995" fill="none" stroke="#444" stroke-width="1.2"/>
<path d="M72.5,490.4v5.5 M154.8,490.4v5.5 M237.2,490.4v5.5 M319.5,490.4v5.5 M401.9,490.4v5.5 M484.2,490.4v5.5 M566.6,490.4v5.5 M648.9,490.4v5.5 M71.9,292.3h-8.8 M71.9,336h-8.8 M71.9,379.5h-8.8 M71.9,423h-8.8 M71.9,467h-8.8" stroke="#333" stroke-width="1.2" fill="none"/>
<text transform="translate(72.5,521.0) scale(1.03,1)" font-size="19.2" text-anchor="middle">0</text>
<text transform="translate(154.85,521.0) scale(1.03,1)" font-size="19.2" text-anchor="middle">50</text>
<text transform="translate(237.2,521.0) scale(1.03,1)" font-size="19.2" text-anchor="middle">100</text>
<text transform="translate(319.54999999999995,521.0) scale(1.03,1)" font-size="19.2" text-anchor="middle">150</text>
<text transform="translate(401.9,521.0) scale(1.03,1)" font-size="19.2" text-anchor="middle">200</text>
<text transform="translate(484.25,521.0) scale(1.03,1)" font-size="19.2" text-anchor="middle">250</text>
<text transform="translate(566.5999999999999,521.0) scale(1.03,1)" font-size="19.2" text-anchor="middle">300</text>
<text transform="translate(648.9499999999999,521.0) scale(1.03,1)" font-size="19.2" text-anchor="middle">350</text>
<text transform="translate(46.3,299.8) scale(1.03,1)" font-size="19.0" text-anchor="middle">0.25</text>
<text transform="translate(43.6,341.0) scale(1.03,1)" font-size="19.0" text-anchor="middle">1</text>
<text transform="translate(42,386.0) scale(1.03,1)" font-size="19.0" text-anchor="middle">4</text>
<text transform="translate(41.4,430.3) scale(1.03,1)" font-size="19.0" text-anchor="middle">16</text>
<text transform="translate(42,475.4) scale(1.03,1)" font-size="19.0" text-anchor="middle">64</text>
<text transform="translate(306.0,550.3) scale(1.04,1)" font-size="21.2" text-anchor="start">Time (day)</text>
<text transform="translate(18.3,362.8) rotate(-90) scale(1,1.03)" font-size="21.9" text-anchor="middle">Period (day)</text>
<text transform="translate(112.8,385.4) scale(1.0,1)" font-size="19.8" text-anchor="start">(b)</text>
</svg></body></html>
